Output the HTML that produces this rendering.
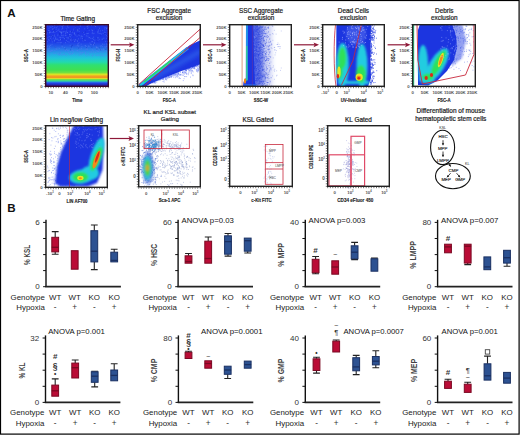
<!DOCTYPE html><html><head><meta charset="utf-8"><title>fig</title><style>
html,body{margin:0;padding:0;background:#fff;width:520px;height:435px;overflow:hidden}
svg{display:block}
text{font-family:"Liberation Sans",sans-serif}
</style></head><body>
<svg width="520" height="435" viewBox="0 0 520 435">
<defs>
<filter id="b1" x="-50%" y="-50%" width="200%" height="200%"><feGaussianBlur stdDeviation="1.2"/></filter>
<filter id="b2" x="-50%" y="-50%" width="200%" height="200%"><feGaussianBlur stdDeviation="2"/></filter>
<filter id="b05" x="-50%" y="-50%" width="200%" height="200%"><feGaussianBlur stdDeviation="0.7"/></filter>
<linearGradient id="tg" x1="0" y1="24" x2="0" y2="87" gradientUnits="userSpaceOnUse"><stop offset="0.000" stop-color="#1c32e8"/><stop offset="0.286" stop-color="#1e3ce8"/><stop offset="0.349" stop-color="#2458e8"/><stop offset="0.413" stop-color="#2a80ea"/><stop offset="0.476" stop-color="#24a8e6"/><stop offset="0.540" stop-color="#20c4da"/><stop offset="0.603" stop-color="#22d8b0"/><stop offset="0.651" stop-color="#30e070"/><stop offset="0.730" stop-color="#40e050"/><stop offset="0.770" stop-color="#70e040"/><stop offset="0.789" stop-color="#b0e430"/><stop offset="0.806" stop-color="#e8e020"/><stop offset="0.825" stop-color="#f0a020"/><stop offset="0.851" stop-color="#f09820"/><stop offset="0.867" stop-color="#e0e028"/><stop offset="0.883" stop-color="#60e050"/><stop offset="0.905" stop-color="#30d8a0"/><stop offset="0.925" stop-color="#2a70e8"/><stop offset="0.944" stop-color="#2040e0"/><stop offset="0.968" stop-color="#2a28b0"/><stop offset="1.000" stop-color="#301890"/></linearGradient>
<clipPath id="c0"><rect x="45" y="24" width="64" height="63"/></clipPath>
<clipPath id="c1"><rect x="137" y="24" width="64" height="63"/></clipPath>
<clipPath id="c2"><rect x="229" y="24" width="63" height="63"/></clipPath>
<clipPath id="c3"><rect x="322" y="24" width="63" height="63"/></clipPath>
<clipPath id="c4"><rect x="412" y="24" width="64" height="63"/></clipPath>
<clipPath id="c5"><rect x="45" y="125" width="63" height="63"/></clipPath>
<clipPath id="c6"><rect x="138" y="125" width="63" height="62.5"/></clipPath>
<clipPath id="c7"><rect x="229" y="125" width="64" height="62"/></clipPath>
<clipPath id="c8"><rect x="327" y="125" width="63" height="62"/></clipPath>
</defs>
<rect x="0" y="0" width="520" height="435" fill="#fff"/>
<text x="7.3" y="17.4" font-size="11.6" text-anchor="start" font-weight="bold" fill="#111" >A</text>
<text x="7.3" y="211.5" font-size="11.6" text-anchor="start" font-weight="bold" fill="#111" >B</text>
<rect x="45" y="24" width="64" height="63" fill="url(#tg)"/>
<path d="M65.7 28.8h.9M86.7 26.3h.9M79.3 35.7h.9M48.7 40.2h.9M47.4 37.9h.9M49.5 26.9h.9M72.2 50.5h.9M52.9 31.1h.9M85.2 54.3h.9M81.9 36.7h.9M107.5 25.5h.9M99.9 33.3h.9M54.2 27.8h.9M64.7 50.1h.9M56.6 42.6h.9M85.9 35.9h.9M80.1 26.0h.9M48.8 30.6h.9M88.5 37.7h.9M65.1 42.7h.9M74.0 33.6h.9M95.8 46.4h.9M60.6 42.4h.9M78.6 52.0h.9M91.7 33.2h.9M107.7 27.8h.9M71.8 48.2h.9M54.7 39.6h.9M47.5 45.4h.9M93.9 42.3h.9M101.0 34.0h.9M89.5 43.0h.9M82.1 38.6h.9M98.8 54.2h.9M75.3 45.3h.9M48.9 46.4h.9M86.4 55.8h.9M97.6 33.1h.9M69.7 45.4h.9M46.4 38.8h.9M55.8 27.7h.9M48.8 48.6h.9M53.3 31.9h.9M70.0 51.9h.9M50.2 38.4h.9M80.2 52.3h.9M97.4 51.6h.9M62.8 37.3h.9M68.0 52.3h.9M106.3 28.8h.9M56.3 31.4h.9M59.9 39.5h.9M82.7 32.4h.9M45.3 37.4h.9M68.6 42.1h.9M106.0 46.1h.9M78.0 43.8h.9M88.3 25.7h.9M102.6 49.0h.9M101.0 49.5h.9M70.1 36.8h.9M51.6 44.3h.9M49.0 26.2h.9M58.4 29.2h.9M66.8 25.7h.9M45.0 28.8h.9M51.5 35.6h.9M46.6 52.0h.9M84.3 28.8h.9M61.1 35.1h.9M68.3 27.9h.9M99.3 55.8h.9M74.8 39.5h.9M50.5 27.3h.9M66.9 32.5h.9M98.0 29.2h.9M46.5 54.4h.9M78.8 28.7h.9M79.8 24.9h.9M78.8 55.3h.9M100.3 46.3h.9M61.7 35.7h.9M55.7 48.7h.9M79.1 48.9h.9M66.1 31.1h.9M96.9 55.5h.9M99.6 49.8h.9M97.4 47.7h.9M59.5 40.6h.9M67.8 24.9h.9M46.8 32.9h.9M61.6 46.2h.9M106.2 38.3h.9M105.0 55.6h.9M106.1 35.7h.9M59.1 31.3h.9M57.6 30.5h.9M84.9 52.8h.9M98.8 39.3h.9M86.8 49.6h.9M50.4 45.1h.9M103.2 49.0h.9M93.0 39.3h.9M56.4 49.3h.9M66.3 49.6h.9M107.2 36.7h.9M70.7 54.3h.9M91.4 29.4h.9M53.1 28.8h.9M102.9 49.8h.9M54.4 50.4h.9M107.7 45.0h.9M67.4 41.6h.9M53.4 24.5h.9M107.1 44.8h.9M78.7 53.9h.9M72.8 51.9h.9M97.9 30.8h.9M61.1 33.4h.9M60.4 42.8h.9M61.6 37.4h.9M53.4 53.1h.9M67.6 38.7h.9M82.3 52.9h.9M71.9 53.4h.9M77.1 41.0h.9M78.5 24.6h.9M73.2 29.9h.9M45.3 49.6h.9M56.0 39.2h.9M91.4 41.8h.9M65.9 40.6h.9M80.5 49.1h.9M51.8 41.9h.9M60.9 32.9h.9M94.4 40.2h.9M81.0 48.3h.9M103.4 38.2h.9M84.2 40.2h.9M77.8 46.2h.9M74.0 41.1h.9M75.6 54.1h.9M89.7 52.0h.9M105.3 32.3h.9M80.8 54.2h.9M98.8 28.4h.9M52.8 38.1h.9M49.6 31.7h.9M49.7 45.4h.9M95.2 52.7h.9M54.9 46.9h.9M87.3 28.6h.9M101.5 55.0h.9M59.1 54.5h.9M70.5 39.6h.9M108.4 50.6h.9M55.3 37.8h.9M78.0 34.9h.9M57.5 34.2h.9M91.2 24.6h.9M80.5 38.1h.9M46.2 34.6h.9M84.9 40.4h.9M49.1 55.5h.9M95.5 55.1h.9M51.7 32.5h.9M47.5 48.9h.9M62.3 28.1h.9M72.0 53.2h.9M97.4 32.3h.9M54.6 53.4h.9M81.5 46.4h.9M50.7 25.8h.9M89.0 37.6h.9M49.6 54.0h.9M85.6 49.7h.9M50.4 51.4h.9M49.3 51.6h.9M74.0 34.9h.9M80.4 53.7h.9M62.1 28.1h.9M78.7 31.6h.9M52.0 29.2h.9M48.2 30.5h.9M65.0 33.8h.9M93.6 33.3h.9M77.0 29.7h.9M67.2 24.6h.9M61.0 24.5h.9M91.9 41.6h.9M57.1 39.2h.9M104.8 27.4h.9M97.4 37.8h.9M76.7 50.7h.9M70.2 40.2h.9M89.0 55.4h.9M66.9 50.6h.9M90.2 44.4h.9M70.9 35.1h.9M48.5 28.2h.9M49.5 47.7h.9M61.4 29.2h.9M50.4 50.9h.9M100.7 45.5h.9M63.0 31.8h.9M63.8 38.7h.9M55.1 38.3h.9M61.8 54.8h.9M107.2 41.5h.9M60.6 54.9h.9M64.8 35.4h.9M45.1 36.2h.9M75.4 40.1h.9M57.9 40.2h.9M45.3 32.5h.9M50.7 36.8h.9M47.7 24.7h.9M64.5 31.4h.9M82.5 40.9h.9M93.0 45.0h.9M90.8 52.1h.9M69.9 34.4h.9M108.0 28.8h.9M91.3 44.6h.9M47.8 50.7h.9M102.1 44.1h.9M92.0 50.0h.9M53.9 40.8h.9M77.3 50.7h.9M96.5 50.4h.9M82.4 52.6h.9M88.7 46.2h.9M59.7 25.0h.9M53.5 35.5h.9M51.7 50.7h.9M80.7 44.1h.9M85.1 45.8h.9M76.3 24.1h.9M96.1 47.9h.9M77.2 41.1h.9M87.2 26.1h.9M92.2 32.1h.9M49.8 32.5h.9M91.7 30.6h.9M92.3 55.2h.9M76.6 36.2h.9M75.7 45.9h.9M94.1 43.7h.9M86.1 26.5h.9M54.4 32.1h.9M92.6 33.7h.9M81.3 24.4h.9M48.9 32.6h.9M88.0 46.1h.9M88.2 33.3h.9M78.1 38.9h.9M74.8 27.8h.9M102.2 30.4h.9M107.6 54.0h.9M46.1 38.7h.9M97.5 55.0h.9M73.8 32.6h.9M58.4 54.3h.9M58.5 42.6h.9M54.1 40.8h.9M106.0 28.2h.9M97.5 40.3h.9M101.8 46.5h.9M59.8 52.7h.9M76.1 24.8h.9M45.2 39.7h.9M73.8 33.7h.9M54.0 35.0h.9M65.2 50.9h.9M45.1 48.0h.9M98.7 27.8h.9M104.3 46.8h.9M102.7 33.3h.9M68.8 36.6h.9M108.9 42.9h.9M68.1 37.7h.9M62.6 25.5h.9M51.5 50.7h.9M63.3 53.9h.9M61.0 32.5h.9M77.7 30.1h.9M68.9 54.6h.9M101.6 50.0h.9M85.4 53.2h.9M105.2 41.6h.9M91.1 25.6h.9M91.9 38.4h.9M93.2 44.6h.9M63.3 25.6h.9M104.3 28.1h.9M75.2 35.0h.9M64.1 47.6h.9M107.5 32.3h.9M87.0 33.6h.9M80.7 36.6h.9M55.7 29.2h.9M58.3 53.0h.9M76.8 31.0h.9M103.0 55.9h.9M73.8 28.5h.9M57.3 26.9h.9M66.9 26.9h.9M60.3 32.3h.9M81.5 52.4h.9M93.0 37.2h.9M71.5 40.8h.9M69.1 34.8h.9M49.0 32.9h.9M106.9 28.0h.9M77.2 44.1h.9M100.2 30.9h.9M62.3 32.0h.9M70.6 38.3h.9M106.1 51.2h.9M100.9 24.7h.9M47.1 46.7h.9M102.3 39.1h.9M82.6 24.0h.9M70.1 53.7h.9M97.8 51.4h.9M107.2 32.0h.9M52.0 28.9h.9M78.4 45.8h.9M105.3 47.1h.9M86.4 48.5h.9M74.3 41.6h.9M47.5 49.0h.9M59.9 53.4h.9M86.3 33.7h.9M53.2 32.1h.9M85.7 46.4h.9M52.2 26.3h.9M78.6 42.7h.9M69.8 31.2h.9M83.5 24.3h.9M64.3 38.7h.9M106.4 44.6h.9M101.6 39.2h.9M60.0 31.9h.9M106.5 46.5h.9M64.7 24.7h.9M76.9 45.6h.9M71.9 32.2h.9M87.7 53.6h.9M59.5 25.1h.9M66.6 37.5h.9M88.7 30.3h.9M96.0 47.7h.9M77.3 30.6h.9M107.1 34.0h.9M97.5 31.4h.9M59.2 48.3h.9M63.9 54.5h.9M76.7 30.0h.9M59.3 37.3h.9M87.6 54.4h.9M54.4 36.6h.9M58.6 55.2h.9M54.1 25.7h.9M48.8 36.6h.9M102.5 52.3h.9M91.9 55.9h.9M104.6 34.5h.9M56.9 53.9h.9M92.8 25.0h.9M87.5 36.1h.9M68.9 34.6h.9M55.8 24.1h.9M62.9 35.2h.9M106.2 28.0h.9M106.7 30.6h.9M67.8 50.3h.9M97.6 37.8h.9M48.2 39.2h.9M68.9 53.4h.9M57.4 35.7h.9M102.4 25.0h.9M71.3 50.0h.9M94.1 25.3h.9M47.2 26.0h.9M103.9 32.2h.9M92.8 52.8h.9M66.7 32.7h.9M106.3 43.7h.9M61.8 46.9h.9M65.3 32.8h.9M45.2 48.2h.9M103.7 44.3h.9M105.4 24.8h.9M60.0 39.2h.9M106.2 54.5h.9M69.7 32.0h.9M72.5 39.8h.9M104.4 29.9h.9M96.4 47.6h.9M97.7 48.7h.9M83.9 34.5h.9M65.5 35.6h.9M95.1 26.5h.9M57.6 48.1h.9M60.8 26.1h.9M47.2 41.7h.9M65.8 55.4h.9M101.5 55.6h.9M62.0 26.7h.9M51.2 40.0h.9M90.4 38.3h.9M60.0 37.3h.9M84.7 45.6h.9M92.9 51.1h.9M87.5 27.9h.9M98.8 33.4h.9M81.3 35.9h.9M92.2 30.4h.9M60.8 31.9h.9" stroke="#5a7cf6" stroke-width="0.90" stroke-opacity="0.6" fill="none"/>
<path d="M54.8 47.0h.9M82.0 32.5h.9M70.3 49.8h.9M77.5 30.0h.9M96.7 41.0h.9M108.4 26.7h.9M75.4 45.3h.9M98.8 47.8h.9M47.6 31.6h.9M52.6 28.9h.9M107.3 39.2h.9M104.5 33.7h.9M100.4 35.7h.9M61.6 44.2h.9M105.5 26.8h.9M83.2 40.1h.9M58.9 33.6h.9M54.0 29.3h.9M61.3 39.6h.9M86.7 29.3h.9M45.7 32.5h.9M88.4 28.8h.9M65.0 29.3h.9M95.9 38.2h.9M49.0 26.6h.9M70.3 38.3h.9M85.9 26.4h.9M55.5 42.1h.9M71.2 31.4h.9M64.7 48.8h.9M65.0 38.7h.9M67.9 34.8h.9M100.3 49.9h.9M68.3 29.1h.9M91.6 29.3h.9M45.4 47.4h.9M72.1 45.3h.9M71.0 47.0h.9M74.5 28.2h.9M45.9 38.3h.9M86.0 47.7h.9M50.7 40.2h.9M68.7 37.1h.9M54.3 31.4h.9M78.4 48.1h.9M52.0 36.8h.9M96.5 49.1h.9M57.6 27.3h.9M105.4 49.4h.9M75.9 25.4h.9M104.3 34.1h.9M102.9 40.1h.9M97.8 28.2h.9M95.3 29.8h.9M70.9 46.0h.9M98.1 28.8h.9M59.0 34.4h.9M78.1 34.0h.9M52.9 30.4h.9M91.4 47.3h.9M47.6 38.6h.9M93.5 25.0h.9M98.6 27.1h.9M83.4 38.3h.9M85.1 32.0h.9M71.9 39.1h.9M72.2 41.1h.9M73.6 35.4h.9M46.5 40.1h.9M76.3 30.1h.9M93.9 44.3h.9M74.3 28.7h.9M75.3 26.8h.9M53.2 35.2h.9M50.9 35.5h.9M77.7 25.1h.9M85.7 26.1h.9M91.9 44.2h.9M77.7 25.4h.9M77.3 33.8h.9" stroke="#1020b0" stroke-width="0.80" stroke-opacity="0.5" fill="none"/>
<path d="M45.7 87.0v1.2M48.3 87.0v1.2M50.9 87.0v1.2M53.5 87.0v1.2M56.1 87.0v1.2M58.7 87.0v1.2M61.4 87.0v1.2M64.0 87.0v1.2M66.6 87.0v1.2M69.2 87.0v1.2M71.8 87.0v1.2M74.4 87.0v1.2M77.0 87.0v1.2M79.6 87.0v1.2M82.2 87.0v1.2M84.8 87.0v1.2M87.4 87.0v1.2M90.0 87.0v1.2M92.7 87.0v1.2M95.3 87.0v1.2M97.9 87.0v1.2M100.5 87.0v1.2M103.1 87.0v1.2M105.7 87.0v1.2M108.3 87.0v1.2M45.0 24.7h-1.2M45.0 27.3h-1.2M45.0 29.8h-1.2M45.0 32.4h-1.2M45.0 35.0h-1.2M45.0 37.5h-1.2M45.0 40.1h-1.2M45.0 42.7h-1.2M45.0 45.2h-1.2M45.0 47.8h-1.2M45.0 50.4h-1.2M45.0 52.9h-1.2M45.0 55.5h-1.2M45.0 58.1h-1.2M45.0 60.6h-1.2M45.0 63.2h-1.2M45.0 65.8h-1.2M45.0 68.3h-1.2M45.0 70.9h-1.2M45.0 73.5h-1.2M45.0 76.0h-1.2M45.0 78.6h-1.2M45.0 81.2h-1.2M45.0 83.7h-1.2M45.0 86.3h-1.2" stroke="#333" stroke-width=".7" fill="none"/>
<rect x="45.7" y="24.7" width="62.6" height="61.6" fill="none" stroke="#3a0a28" stroke-width="1.4"/>
<text x="42.6" y="28.6" font-size="4.3" text-anchor="end" font-weight="bold" fill="#555" >250K</text>
<text x="42.6" y="40.3" font-size="4.3" text-anchor="end" font-weight="bold" fill="#555" >200K</text>
<text x="42.6" y="52.1" font-size="4.3" text-anchor="end" font-weight="bold" fill="#555" >150K</text>
<text x="42.6" y="63.9" font-size="4.3" text-anchor="end" font-weight="bold" fill="#555" >100K</text>
<text x="42.6" y="75.8" font-size="4.3" text-anchor="end" font-weight="bold" fill="#555" >50K</text>
<text x="42.6" y="87.5" font-size="4.3" text-anchor="end" font-weight="bold" fill="#555" >0</text>
<text x="50.8" y="94.0" font-size="4.3" text-anchor="middle" font-weight="bold" fill="#555" >10</text>
<text x="65.5" y="94.0" font-size="4.3" text-anchor="middle" font-weight="bold" fill="#555" >40</text>
<text x="80.2" y="94.0" font-size="4.3" text-anchor="middle" font-weight="bold" fill="#555" >70</text>
<text x="94.3" y="94.0" font-size="4.3" text-anchor="middle" font-weight="bold" fill="#555" >100</text>
<text x="77.7" y="20.6" font-size="6.4" text-anchor="middle" font-weight="normal" fill="#1a1a1a" stroke="#1a1a1a" stroke-width=".2">Time Gating</text>
<text x="77.3" y="101.9" font-size="6.2" text-anchor="middle" font-weight="bold" fill="#222" stroke="#222" stroke-width=".15" textLength="10.0" lengthAdjust="spacingAndGlyphs">Time</text>
<text x="0" y="0" font-size="6.0" text-anchor="middle" font-weight="bold" fill="#222" stroke="#222" stroke-width=".15" textLength="12.8" lengthAdjust="spacingAndGlyphs" transform="translate(28.0,55.5) rotate(-90)">SSC-A</text>
<path d="M110.7 44.8H131.5" stroke="#8e1838" stroke-width="1.2"/>
<path d="M129.0 42.4L134.5 44.8L129.0 47.199999999999996L130.2 44.8z" fill="#8e1838"/>
<g clip-path="url(#c1)">
<path d="M199.9 68.8h.9M201.8 69.3h.9M190.2 67.1h.9M201.2 64.9h.9M178.5 78.1h.9M159.0 79.0h.9M192.8 66.5h.9M170.8 73.7h.9M191.3 70.7h.9M166.3 79.9h.9M194.0 67.9h.9M198.6 67.4h.9M162.0 76.7h.9M169.0 77.4h.9M148.0 82.2h.9M199.3 65.2h.9M187.8 68.9h.9M192.6 66.7h.9M155.2 82.0h.9M171.3 73.9h.9M196.6 69.5h.9M197.0 65.6h.9M154.4 82.2h.9M173.3 72.5h.9M193.2 66.1h.9M182.8 80.6h.9M171.4 73.3h.9M159.8 79.9h.9M190.8 73.6h.9M165.0 76.9h.9M185.9 73.0h.9M187.0 67.7h.9M168.6 74.8h.9M157.9 78.1h.9M184.7 72.4h.9M197.5 65.6h.9M156.5 79.0h.9M146.2 84.6h.9M142.9 84.0h.9M171.2 74.2h.9M163.1 79.1h.9M161.7 78.3h.9M185.1 70.0h.9M199.3 62.9h.9M164.3 76.3h.9M185.8 69.1h.9M196.5 64.6h.9M165.6 77.9h.9M144.6 84.1h.9M170.8 76.4h.9M186.2 76.6h.9M190.3 69.5h.9M164.6 76.2h.9M180.5 70.2h.9M173.9 72.1h.9M192.4 66.7h.9M144.8 86.1h.9M157.3 79.9h.9M161.4 79.0h.9M186.0 70.6h.9M193.9 66.4h.9M167.8 76.5h.9M149.2 83.6h.9M189.5 71.1h.9M143.7 84.6h.9M177.1 75.7h.9M190.7 68.8h.9M154.4 79.8h.9M163.6 78.2h.9M191.0 66.6h.9M188.5 70.4h.9M165.7 78.7h.9M181.7 75.4h.9M180.1 72.3h.9M165.7 79.6h.9M162.6 81.5h.9M196.9 67.2h.9M163.8 76.0h.9M190.8 72.6h.9M169.4 75.4h.9M196.9 65.1h.9M198.1 66.2h.9M185.5 69.8h.9M201.1 69.0h.9M177.3 73.7h.9M195.9 70.1h.9M175.6 72.1h.9M168.3 77.9h.9M162.3 77.1h.9M198.2 64.3h.9M157.5 79.2h.9M199.0 63.0h.9M170.5 73.8h.9M148.5 81.9h.9M188.4 71.0h.9M190.4 70.9h.9M150.9 82.1h.9M194.1 66.9h.9M194.2 65.8h.9M196.3 64.8h.9M198.4 65.1h.9M161.8 77.0h.9M155.0 83.1h.9M193.9 66.5h.9M185.6 70.3h.9M167.1 78.2h.9M154.0 82.3h.9M161.8 79.0h.9M169.0 74.4h.9M165.2 75.6h.9M166.8 75.3h.9M169.1 76.7h.9M200.5 72.0h.9M184.9 68.1h.9M147.3 83.4h.9M192.1 67.7h.9M170.6 74.4h.9M162.6 79.4h.9M196.1 71.2h.9M159.4 79.8h.9M142.6 84.4h.9M201.1 70.2h.9M143.3 85.0h.9M193.2 65.1h.9M160.4 79.3h.9M194.7 64.4h.9M165.4 77.3h.9M162.4 77.1h.9M188.7 68.6h.9M185.7 67.6h.9M152.3 80.8h.9M192.7 71.9h.9M185.3 70.3h.9M173.3 74.9h.9M197.3 72.0h.9M146.6 83.9h.9M161.9 77.0h.9M179.0 78.0h.9M172.4 74.3h.9M176.9 72.6h.9M180.6 69.7h.9M186.2 74.4h.9M170.7 74.1h.9M195.2 66.5h.9M187.0 67.3h.9M175.7 73.5h.9M192.1 67.3h.9M176.9 71.8h.9M197.1 63.6h.9M167.9 76.2h.9M188.9 67.8h.9M158.3 79.0h.9M164.6 77.1h.9M158.7 80.2h.9M169.5 76.8h.9M190.1 77.1h.9M154.1 80.4h.9M172.7 72.8h.9M201.3 64.1h.9M175.5 76.8h.9M161.2 77.6h.9M161.9 77.5h.9M172.9 75.6h.9M192.9 65.9h.9M188.4 72.7h.9M177.0 70.9h.9M157.3 80.1h.9M190.6 68.5h.9M198.1 68.8h.9M191.0 68.1h.9M174.8 72.4h.9M196.9 71.1h.9M192.2 67.9h.9M187.8 74.7h.9M186.0 70.9h.9M185.3 68.8h.9M153.8 82.6h.9M189.4 69.9h.9M185.4 67.7h.9M176.6 74.7h.9M185.0 73.0h.9M199.0 66.7h.9M160.3 79.5h.9M173.0 77.1h.9M178.4 71.3h.9M181.1 69.5h.9M158.7 78.8h.9M179.9 78.5h.9M154.1 81.7h.9M189.5 68.6h.9M179.6 74.4h.9M180.0 75.1h.9M174.2 74.1h.9M188.0 67.7h.9M173.2 72.4h.9M201.3 64.4h.9M171.1 75.4h.9M173.6 73.1h.9M144.9 84.2h.9M188.7 68.7h.9M170.9 73.4h.9M190.7 68.9h.9M199.5 65.9h.9M193.4 65.3h.9M173.1 72.7h.9M192.3 67.5h.9M193.8 68.1h.9M182.1 72.2h.9M163.2 78.4h.9M185.8 68.4h.9M194.2 66.6h.9M167.5 77.4h.9M181.4 74.3h.9M171.0 77.3h.9M195.6 64.4h.9M165.0 78.0h.9M175.0 71.7h.9M189.8 66.4h.9M166.7 74.8h.9M177.9 73.6h.9M175.2 74.8h.9M171.5 76.5h.9M199.0 63.7h.9M194.6 65.6h.9M198.0 63.6h.9M194.7 66.8h.9M185.6 68.3h.9M200.0 62.3h.9M186.7 67.3h.9M157.4 79.3h.9M163.7 76.3h.9M158.1 80.0h.9M197.9 63.8h.9M197.3 66.1h.9M184.4 69.3h.9M197.5 70.3h.9M192.8 66.6h.9M188.4 69.0h.9M180.5 69.8h.9M197.0 68.6h.9M181.7 69.4h.9M157.1 79.9h.9M178.6 74.1h.9M157.5 79.1h.9M178.5 74.8h.9M196.1 63.8h.9M143.8 84.1h.9M182.1 72.6h.9M187.1 69.3h.9M174.6 74.5h.9M200.3 68.6h.9M185.7 70.3h.9M147.0 83.9h.9M199.1 67.4h.9M169.6 77.2h.9M178.1 70.9h.9M197.6 70.8h.9M185.2 69.2h.9M170.1 75.4h.9M177.6 73.3h.9M180.2 70.0h.9M175.5 73.8h.9M174.8 77.7h.9M167.4 76.3h.9M194.6 68.9h.9M166.1 76.9h.9M179.3 75.3h.9M193.0 65.9h.9M169.7 74.7h.9M183.3 71.6h.9M185.7 67.9h.9M189.8 67.3h.9M197.1 64.8h.9M167.9 74.6h.9M143.7 84.5h.9M184.4 76.5h.9M186.8 69.4h.9M184.5 76.6h.9M184.8 72.3h.9M183.8 72.7h.9M187.9 68.3h.9M176.7 76.0h.9M191.6 67.7h.9M148.0 82.4h.9M192.2 70.9h.9M171.9 75.2h.9M194.3 65.7h.9M165.2 78.7h.9M168.0 76.5h.9M175.3 72.9h.9M186.0 68.8h.9M182.4 69.4h.9M148.2 83.8h.9M182.7 73.6h.9M198.5 63.6h.9M172.9 72.6h.9M183.6 78.7h.9M177.7 74.5h.9M174.3 75.8h.9M162.3 78.6h.9M158.0 78.2h.9M188.0 66.8h.9M155.7 79.7h.9M196.4 64.0h.9M156.3 82.0h.9M164.2 76.1h.9M190.3 66.4h.9M192.2 66.5h.9M189.4 70.6h.9M152.6 82.4h.9M185.4 68.9h.9M199.1 68.0h.9M165.0 79.6h.9M144.6 83.5h.9M145.1 84.3h.9M152.2 83.0h.9M168.5 74.3h.9M196.0 66.6h.9M178.2 73.6h.9M182.7 70.1h.9M175.7 72.2h.9M193.2 67.1h.9M171.5 75.7h.9M174.6 75.5h.9M172.8 74.2h.9M192.6 75.7h.9M182.3 69.2h.9M200.9 63.7h.9M188.9 68.2h.9M184.2 71.3h.9M201.0 65.3h.9M168.3 77.6h.9M175.2 74.1h.9M188.0 69.4h.9M184.0 74.0h.9M166.8 77.8h.9M142.7 83.8h.9M183.3 72.6h.9M194.0 65.5h.9M194.8 65.1h.9M193.8 68.6h.9M166.2 77.6h.9M195.6 66.4h.9M198.3 69.9h.9M170.6 76.7h.9M193.2 67.8h.9M161.5 76.7h.9M163.7 82.0h.9M184.3 70.1h.9M161.9 79.1h.9M165.0 75.4h.9M176.8 77.2h.9M152.9 81.1h.9M163.6 80.1h.9M183.0 75.2h.9M180.1 74.4h.9M177.7 72.6h.9M160.9 77.8h.9M160.1 77.9h.9M182.2 72.4h.9M173.7 74.0h.9M148.8 81.6h.9M201.9 63.3h.9M185.6 69.1h.9M192.8 68.4h.9M170.5 76.8h.9M179.9 70.7h.9M201.6 61.8h.9M196.3 69.9h.9M165.5 75.5h.9M192.4 75.0h.9M191.8 70.2h.9M194.2 67.9h.9M148.1 82.0h.9M161.5 77.1h.9M149.5 81.8h.9M181.9 72.0h.9M199.8 66.4h.9M198.2 69.1h.9M173.4 74.0h.9M155.6 80.5h.9M182.2 69.7h.9M185.9 73.4h.9M173.2 73.6h.9M176.2 76.0h.9M201.7 73.0h.9M162.9 78.1h.9M170.9 73.7h.9M197.9 70.8h.9M149.1 83.1h.9M192.7 66.6h.9M201.4 68.9h.9M150.0 82.8h.9M199.4 69.1h.9M187.7 68.6h.9M191.4 71.2h.9M154.4 80.0h.9M155.9 80.2h.9M178.0 71.8h.9M157.4 79.7h.9M187.7 73.6h.9M161.1 77.1h.9M147.9 82.8h.9M199.2 64.1h.9M196.3 65.7h.9M176.2 72.4h.9M153.7 83.0h.9M185.3 71.1h.9M176.4 74.6h.9M177.8 76.2h.9M185.3 69.6h.9M150.1 81.9h.9M189.4 68.5h.9M196.5 64.5h.9M165.8 76.5h.9M166.1 75.8h.9M195.1 65.5h.9M178.5 72.2h.9M168.9 75.1h.9M201.1 63.3h.9" stroke="#4a64f0" stroke-width="0.90" stroke-opacity="0.55" fill="none"/>
<g filter="url(#b05)">
<path d="M138 86.5L150 77.5L170 60.5L190 45L201 40L201 64L190 68L180 71.5L170 75.5L160 79.5L150 84L145 87z" fill="#1f36e0"/>
</g>
<g filter="url(#b05)">
</g>
<g filter="url(#b2)">
<path d="M152 79L201 51" stroke="#3878f0" stroke-width="4" stroke-opacity=".6"/>
</g>
<g filter="url(#b05)">
<path d="M139.5 85.8L188 48" stroke="#2a88ee" stroke-width="3" />
<path d="M140 85.5L184 51" stroke="#22cce0" stroke-width="2" />
<path d="M144 82L171 60.5" stroke="#2ee05a" stroke-width="1.4" />
</g>
</g>
<path d="M138.9 84.4L200.2 29.1V37.4L143.9 86.2" fill="none" stroke="#c8283c" stroke-width=".9" stroke-linejoin="round"/>
<path d="M137.7 87.0v1.2M140.3 87.0v1.2M142.9 87.0v1.2M145.5 87.0v1.2M148.1 87.0v1.2M150.7 87.0v1.2M153.3 87.0v1.2M156.0 87.0v1.2M158.6 87.0v1.2M161.2 87.0v1.2M163.8 87.0v1.2M166.4 87.0v1.2M169.0 87.0v1.2M171.6 87.0v1.2M174.2 87.0v1.2M176.8 87.0v1.2M179.4 87.0v1.2M182.0 87.0v1.2M184.6 87.0v1.2M187.3 87.0v1.2M189.9 87.0v1.2M192.5 87.0v1.2M195.1 87.0v1.2M197.7 87.0v1.2M200.3 87.0v1.2M137.0 24.7h-1.2M137.0 27.3h-1.2M137.0 29.8h-1.2M137.0 32.4h-1.2M137.0 35.0h-1.2M137.0 37.5h-1.2M137.0 40.1h-1.2M137.0 42.7h-1.2M137.0 45.2h-1.2M137.0 47.8h-1.2M137.0 50.4h-1.2M137.0 52.9h-1.2M137.0 55.5h-1.2M137.0 58.1h-1.2M137.0 60.6h-1.2M137.0 63.2h-1.2M137.0 65.8h-1.2M137.0 68.3h-1.2M137.0 70.9h-1.2M137.0 73.5h-1.2M137.0 76.0h-1.2M137.0 78.6h-1.2M137.0 81.2h-1.2M137.0 83.7h-1.2M137.0 86.3h-1.2" stroke="#333" stroke-width=".7" fill="none"/>
<rect x="137.7" y="24.7" width="62.6" height="61.6" fill="none" stroke="#222" stroke-width="1.4"/>
<text x="134.6" y="28.6" font-size="4.3" text-anchor="end" font-weight="bold" fill="#555" >250K</text>
<text x="134.6" y="40.3" font-size="4.3" text-anchor="end" font-weight="bold" fill="#555" >200K</text>
<text x="134.6" y="52.1" font-size="4.3" text-anchor="end" font-weight="bold" fill="#555" >150K</text>
<text x="134.6" y="63.9" font-size="4.3" text-anchor="end" font-weight="bold" fill="#555" >100K</text>
<text x="134.6" y="75.8" font-size="4.3" text-anchor="end" font-weight="bold" fill="#555" >50K</text>
<text x="134.6" y="87.5" font-size="4.3" text-anchor="end" font-weight="bold" fill="#555" >0</text>
<text x="137.6" y="94.0" font-size="4.3" text-anchor="middle" font-weight="bold" fill="#555" >0</text>
<text x="149.8" y="94.0" font-size="4.3" text-anchor="middle" font-weight="bold" fill="#555" >50K</text>
<text x="162.6" y="94.0" font-size="4.3" text-anchor="middle" font-weight="bold" fill="#555" >100K</text>
<text x="174.1" y="94.0" font-size="4.3" text-anchor="middle" font-weight="bold" fill="#555" >150K</text>
<text x="185.6" y="94.0" font-size="4.3" text-anchor="middle" font-weight="bold" fill="#555" >200K</text>
<text x="197.2" y="94.0" font-size="4.3" text-anchor="middle" font-weight="bold" fill="#555" >250K</text>
<text x="169.1" y="13.1" font-size="6.4" text-anchor="middle" font-weight="normal" fill="#1a1a1a" stroke="#1a1a1a" stroke-width=".2">FSC Aggregate</text>
<text x="169.1" y="20.2" font-size="6.4" text-anchor="middle" font-weight="normal" fill="#1a1a1a" stroke="#1a1a1a" stroke-width=".2">exclusion</text>
<text x="169.3" y="101.9" font-size="6.2" text-anchor="middle" font-weight="bold" fill="#222" stroke="#222" stroke-width=".15" textLength="13.2" lengthAdjust="spacingAndGlyphs">FSC-A</text>
<text x="0" y="0" font-size="6.0" text-anchor="middle" font-weight="bold" fill="#222" stroke="#222" stroke-width=".15" textLength="12.5" lengthAdjust="spacingAndGlyphs" transform="translate(119.7,55.3) rotate(-90)">FSC-H</text>
<path d="M203 44.8H223.5" stroke="#8e1838" stroke-width="1.2"/>
<path d="M221.0 42.4L226.5 44.8L221.0 47.199999999999996L222.2 44.8z" fill="#8e1838"/>
<g clip-path="url(#c2)">
<g filter="url(#b2)">
<path d="M250 24L262 24L264 86.5L250 86.5z" fill="#3048e4" fill-opacity=".75"/>
<path d="M255 24L272 24L272 86.5L255 86.5z" fill="#6070e0" fill-opacity=".3"/>
</g>
<path d="M261.2 27.5h.9M259.4 37.1h.9M254.2 53.6h.9M258.3 36.5h.9M277.7 46.6h.9M254.4 81.4h.9M256.7 30.0h.9M267.4 27.6h.9M258.2 69.0h.9M271.7 25.0h.9M255.1 74.0h.9M256.2 24.1h.9M257.4 75.6h.9M253.7 51.0h.9M254.8 80.5h.9M261.9 32.6h.9M254.4 35.2h.9M263.9 36.2h.9M261.2 28.9h.9M258.0 54.7h.9M255.6 41.0h.9M262.3 67.9h.9M257.1 74.3h.9M255.3 28.1h.9M262.4 69.4h.9M259.1 27.4h.9M259.9 74.3h.9M264.6 77.6h.9M268.3 54.6h.9M254.5 53.6h.9M253.5 78.1h.9M257.5 75.6h.9M256.5 46.8h.9M258.8 60.9h.9M260.5 24.3h.9M253.9 56.0h.9M255.8 31.5h.9M265.6 77.7h.9M254.7 43.9h.9M259.7 70.6h.9M265.1 27.8h.9M265.5 54.7h.9M261.5 55.8h.9M254.7 25.3h.9M253.7 84.0h.9M257.4 30.4h.9M253.7 39.5h.9M254.6 30.0h.9M253.4 67.3h.9M254.2 61.2h.9M263.8 59.7h.9M254.6 30.4h.9M253.4 77.9h.9M255.1 31.6h.9M258.7 54.6h.9M253.0 31.6h.9M259.1 49.2h.9M260.1 77.4h.9M263.4 33.1h.9M258.1 34.2h.9M259.4 75.2h.9M255.7 50.1h.9M259.9 76.1h.9M254.1 82.4h.9M255.7 72.2h.9M257.4 44.8h.9M265.6 51.0h.9M254.5 80.6h.9M254.3 74.5h.9M254.9 56.1h.9M257.9 83.4h.9M255.1 50.2h.9M258.7 63.2h.9M259.5 28.3h.9M254.4 50.8h.9M253.0 32.6h.9M255.7 84.1h.9M269.2 63.3h.9M263.9 74.2h.9M262.7 26.1h.9M254.0 63.8h.9M263.5 41.0h.9M261.7 57.6h.9M257.5 39.5h.9M268.7 56.3h.9M260.0 41.8h.9M255.1 42.9h.9M255.8 60.8h.9M258.5 83.3h.9M253.5 52.9h.9M255.1 57.1h.9M255.9 32.1h.9M257.8 42.2h.9M256.2 39.1h.9M265.8 29.4h.9M256.8 61.8h.9M255.7 59.4h.9M256.8 68.0h.9M262.2 52.6h.9M255.9 53.1h.9M253.2 43.3h.9M257.9 55.8h.9M253.9 47.8h.9M253.6 45.9h.9M253.6 77.4h.9M261.9 54.5h.9M258.8 41.7h.9M253.5 71.9h.9M265.9 33.8h.9M258.8 51.3h.9M258.7 27.8h.9M257.9 69.6h.9M255.8 30.8h.9M270.5 69.8h.9M256.4 33.6h.9M258.6 65.9h.9M260.6 62.2h.9M263.5 56.1h.9M253.5 69.8h.9M264.8 53.5h.9M257.0 72.7h.9M268.0 31.9h.9M264.9 78.0h.9M253.3 60.3h.9M261.9 54.9h.9M255.1 49.9h.9M259.7 72.6h.9M259.9 47.5h.9M263.8 52.0h.9M255.9 42.2h.9M259.5 48.2h.9M255.4 44.0h.9M257.8 72.8h.9M259.7 51.5h.9M254.3 35.4h.9M256.7 59.7h.9M266.4 60.1h.9M261.3 44.1h.9M262.3 76.3h.9M268.0 36.7h.9M253.9 50.4h.9M253.5 26.9h.9M268.7 59.0h.9M253.3 72.0h.9M261.4 57.4h.9M253.1 56.1h.9M258.1 66.5h.9M257.2 60.9h.9M263.0 45.8h.9M256.4 56.6h.9M258.0 30.1h.9M258.0 58.8h.9M266.2 59.6h.9M265.4 54.2h.9M269.5 51.3h.9M269.5 45.3h.9M254.7 56.9h.9M256.9 43.7h.9M256.9 84.7h.9M260.5 30.9h.9M257.8 79.5h.9M265.1 85.4h.9M256.6 79.1h.9M254.9 42.0h.9M257.5 55.7h.9M253.1 35.3h.9M258.2 63.1h.9M256.9 85.6h.9M260.0 63.5h.9M254.9 72.8h.9M253.2 43.0h.9M253.6 42.9h.9M261.9 76.2h.9M258.4 36.2h.9M258.2 54.9h.9M254.8 64.1h.9M262.1 57.0h.9M253.2 49.5h.9M259.5 31.5h.9M262.8 30.6h.9M257.1 30.2h.9M260.5 75.0h.9M253.9 62.0h.9M255.4 24.8h.9M257.9 71.8h.9M263.0 45.9h.9M253.3 34.5h.9M256.2 80.0h.9M257.5 60.1h.9M259.2 47.9h.9M260.2 27.4h.9M258.9 83.5h.9M256.9 51.3h.9M256.6 26.7h.9M256.7 81.7h.9M257.8 79.7h.9M256.1 74.6h.9M262.0 83.5h.9M258.0 54.7h.9M254.6 48.2h.9M254.1 68.5h.9M258.9 78.3h.9M254.4 54.0h.9M258.0 34.8h.9M260.2 46.2h.9M270.2 42.0h.9M259.5 58.8h.9M258.7 47.9h.9M256.3 49.0h.9M254.4 75.2h.9M253.1 45.8h.9M257.6 41.6h.9M263.1 38.7h.9M255.3 45.2h.9M253.8 33.7h.9M256.0 40.7h.9M258.3 75.8h.9M258.5 75.9h.9M256.5 73.9h.9M258.5 68.8h.9M257.6 47.4h.9M254.2 83.0h.9M254.1 55.3h.9M260.6 32.1h.9M254.0 67.8h.9M268.0 60.4h.9M253.2 46.8h.9M262.6 37.2h.9M259.0 78.1h.9M258.9 57.6h.9M253.9 40.8h.9M259.8 64.8h.9M255.6 59.2h.9M259.5 29.3h.9M256.7 35.0h.9M258.0 65.1h.9M259.1 30.8h.9M255.5 55.0h.9M258.5 42.4h.9M255.4 38.0h.9M254.2 31.8h.9M258.6 49.0h.9M255.3 80.4h.9M267.3 77.4h.9M253.3 32.2h.9M254.7 66.1h.9M257.3 65.1h.9M258.8 64.9h.9M253.1 67.4h.9M266.6 45.8h.9M254.4 63.0h.9M256.1 80.6h.9M253.5 69.5h.9M255.0 26.5h.9M254.9 34.0h.9M258.6 47.6h.9M256.7 26.4h.9M262.3 35.1h.9M263.1 76.0h.9M257.7 39.8h.9M255.6 51.0h.9M258.9 24.1h.9M254.0 75.7h.9M258.7 26.7h.9M254.7 77.0h.9M254.4 39.2h.9M254.2 30.9h.9M257.6 80.7h.9M262.2 70.5h.9M258.6 48.4h.9M255.7 70.3h.9M258.0 29.6h.9M267.3 82.7h.9M260.4 66.9h.9M257.7 69.8h.9M261.6 52.1h.9M255.4 27.4h.9M260.0 55.7h.9M261.2 81.5h.9M261.5 26.7h.9M254.9 67.6h.9M258.1 57.9h.9M258.7 84.1h.9M259.7 39.5h.9M257.5 27.7h.9M258.6 36.5h.9M260.2 43.3h.9M261.3 65.6h.9M253.4 38.7h.9M261.4 51.6h.9M256.5 82.0h.9M257.7 78.9h.9M258.8 32.8h.9M255.4 74.6h.9M253.3 58.0h.9M257.3 65.3h.9M264.6 61.1h.9M255.9 75.5h.9M254.6 31.1h.9M259.4 36.8h.9M253.9 27.7h.9M257.6 67.5h.9M257.7 51.8h.9M257.0 53.1h.9M254.3 46.5h.9M255.4 24.7h.9M253.0 85.5h.9M255.9 68.5h.9M256.1 84.8h.9M254.3 54.3h.9M256.2 50.9h.9M261.1 24.5h.9M259.1 81.0h.9M260.8 82.0h.9M253.0 64.5h.9M258.3 32.6h.9M255.0 25.7h.9M266.2 42.4h.9M261.8 35.5h.9M263.3 81.5h.9M255.8 34.4h.9M265.9 70.0h.9M258.2 44.3h.9M265.0 43.8h.9M259.4 46.8h.9M255.1 75.5h.9M261.8 38.8h.9M255.3 62.9h.9M257.2 74.8h.9M267.6 82.6h.9M257.1 54.7h.9M253.0 42.6h.9M262.4 60.0h.9M258.2 34.1h.9M256.0 51.5h.9M253.6 26.5h.9M257.1 51.2h.9M263.4 24.2h.9M260.6 76.1h.9M262.7 50.4h.9M257.4 41.6h.9M260.2 50.1h.9M262.6 45.0h.9M256.9 75.2h.9M256.0 80.0h.9M258.0 51.5h.9M255.7 58.9h.9M256.8 29.3h.9M271.1 44.1h.9M257.6 80.3h.9M270.7 77.7h.9M255.9 62.4h.9M262.8 74.3h.9M256.9 61.8h.9M268.6 42.4h.9M260.5 53.8h.9M255.0 64.1h.9M259.1 78.9h.9M257.0 25.7h.9M262.8 51.7h.9M256.6 29.3h.9M258.7 60.0h.9M261.9 49.8h.9M254.7 48.6h.9M259.2 31.1h.9M266.3 58.0h.9M256.5 31.0h.9M257.1 29.9h.9M253.1 56.9h.9M261.1 58.3h.9M256.1 38.0h.9M254.5 55.8h.9M259.3 60.5h.9M256.5 28.6h.9M258.8 51.3h.9M259.7 68.3h.9M269.1 70.9h.9M267.1 68.7h.9M256.4 30.3h.9M259.1 34.6h.9M264.2 83.5h.9M257.7 32.5h.9M257.8 72.1h.9M254.8 47.1h.9M257.0 24.9h.9M255.7 42.6h.9M266.1 67.9h.9M259.6 62.5h.9M267.4 78.1h.9M259.0 78.0h.9M253.2 34.4h.9M259.4 71.3h.9M254.6 66.2h.9M256.2 47.1h.9M263.6 69.7h.9M256.6 26.7h.9M260.2 61.4h.9M258.2 73.8h.9M262.4 31.0h.9M257.7 39.8h.9M265.6 36.0h.9M257.4 60.0h.9M256.4 31.0h.9M253.4 73.6h.9M258.5 35.5h.9M254.9 66.6h.9M261.8 47.6h.9M264.2 57.4h.9M259.1 66.8h.9M268.9 24.9h.9M257.8 45.2h.9M259.7 78.1h.9M257.3 73.6h.9M254.0 74.7h.9M259.2 66.1h.9M258.0 33.8h.9M264.1 76.4h.9M261.8 61.9h.9M255.3 28.7h.9M257.3 79.4h.9M257.1 60.5h.9M254.2 46.4h.9M259.1 53.0h.9M256.2 45.9h.9M258.5 24.4h.9M256.0 25.3h.9M255.1 52.5h.9M253.2 33.0h.9M253.8 65.6h.9M258.5 55.0h.9M260.8 40.2h.9M256.6 83.3h.9M261.8 85.5h.9M254.9 71.8h.9M254.5 78.1h.9M262.8 63.3h.9M255.5 46.5h.9M265.2 78.1h.9M255.5 82.2h.9M258.4 71.3h.9M262.9 69.9h.9M253.6 45.7h.9M255.1 58.1h.9M254.4 44.9h.9M261.0 44.0h.9M253.6 46.8h.9M253.6 39.1h.9M259.5 32.4h.9M258.3 24.4h.9M258.6 51.6h.9M254.4 59.3h.9M257.0 28.1h.9M257.1 42.7h.9M263.5 58.2h.9M261.5 82.1h.9M266.3 60.2h.9M257.0 29.0h.9M261.3 85.2h.9M254.1 46.1h.9M260.3 77.8h.9M267.9 28.2h.9M254.5 41.1h.9M257.2 40.0h.9M253.6 40.6h.9M254.4 67.7h.9M259.9 36.4h.9M259.6 61.4h.9M260.6 36.2h.9M262.2 69.5h.9M255.2 28.9h.9M257.5 74.2h.9M257.5 32.5h.9M266.9 35.7h.9M256.3 63.7h.9M254.5 81.2h.9M259.1 70.5h.9M261.7 64.2h.9M258.9 44.9h.9M254.8 27.6h.9M254.1 62.8h.9M262.4 44.7h.9M253.3 39.9h.9M268.9 52.7h.9M254.4 59.0h.9M262.1 85.2h.9M256.3 68.9h.9M256.4 44.4h.9M255.3 32.8h.9M263.8 71.6h.9M259.9 50.2h.9M260.6 57.4h.9M257.7 64.8h.9M258.6 61.3h.9M263.1 40.0h.9M254.0 68.1h.9M265.1 43.2h.9M260.6 71.9h.9M254.1 41.3h.9M256.5 56.4h.9M254.3 24.6h.9M259.8 53.5h.9M263.0 46.5h.9M254.6 85.4h.9M264.7 29.6h.9M254.6 25.7h.9M254.8 55.1h.9M259.9 58.4h.9M268.1 46.7h.9M258.0 33.3h.9M263.3 81.1h.9M264.9 34.0h.9M255.2 39.0h.9M263.0 84.9h.9M253.1 45.3h.9M259.0 73.6h.9M254.5 80.0h.9M253.3 30.7h.9M255.6 64.0h.9M254.6 48.9h.9M254.9 59.0h.9M267.7 49.4h.9M261.2 62.9h.9M253.1 37.9h.9M258.5 50.9h.9M256.4 38.3h.9M264.3 63.8h.9M257.9 42.5h.9M253.2 59.3h.9M262.2 33.7h.9M263.7 40.6h.9M255.5 70.6h.9M258.1 44.6h.9M256.2 54.1h.9M255.6 66.3h.9M261.8 61.1h.9M255.7 78.7h.9M257.9 37.0h.9M257.4 72.3h.9M258.8 77.5h.9M265.7 85.7h.9M256.4 42.5h.9M253.5 84.4h.9M256.4 24.6h.9M255.1 69.6h.9M258.2 30.0h.9M262.3 29.6h.9M262.7 45.1h.9M258.4 78.7h.9M258.0 84.7h.9M254.1 73.1h.9M261.1 66.7h.9M255.0 38.4h.9M254.1 50.7h.9M253.9 85.4h.9M255.6 43.6h.9M255.5 54.2h.9M257.0 32.4h.9M254.9 66.5h.9M253.6 33.2h.9M261.2 31.0h.9M268.7 45.9h.9M253.4 45.7h.9M267.2 37.3h.9M255.9 69.3h.9M255.4 40.9h.9M257.9 28.3h.9M260.2 26.7h.9M253.4 58.5h.9M263.7 46.5h.9M253.7 64.5h.9M263.2 57.7h.9M256.2 84.9h.9M254.4 78.2h.9M259.9 43.7h.9M259.8 50.0h.9M254.2 47.9h.9M268.6 49.4h.9M272.6 24.3h.9M257.8 61.7h.9M255.4 61.9h.9M253.3 47.4h.9M257.6 31.2h.9M256.2 76.3h.9M268.0 27.1h.9M257.5 67.0h.9M262.0 58.0h.9M253.3 43.6h.9M253.1 70.3h.9M262.4 76.9h.9M253.6 85.7h.9M260.9 38.5h.9M261.4 47.5h.9M259.7 68.2h.9M258.3 62.0h.9M257.3 66.0h.9M261.9 57.7h.9M257.2 37.8h.9M256.6 80.3h.9M254.5 53.3h.9M261.4 53.6h.9M263.1 37.7h.9M265.5 56.8h.9M265.6 56.5h.9M255.2 38.8h.9M256.4 34.7h.9M260.0 63.7h.9M264.1 75.3h.9M261.7 26.7h.9M259.4 47.6h.9M264.2 31.6h.9M253.0 33.5h.9M256.3 46.1h.9M260.6 73.8h.9M254.0 29.5h.9M263.8 48.5h.9M253.2 51.9h.9M256.5 53.7h.9M264.3 33.3h.9M258.7 66.2h.9M259.3 38.7h.9M256.7 47.0h.9M258.8 25.1h.9M255.2 36.5h.9M254.0 35.1h.9M254.0 68.5h.9M259.1 39.0h.9M261.4 75.7h.9M258.4 77.3h.9M264.0 36.5h.9M258.8 62.3h.9M260.3 47.0h.9M255.1 46.8h.9M255.0 68.2h.9M259.9 64.2h.9M257.1 74.3h.9M258.5 59.9h.9M259.7 81.3h.9M270.4 68.1h.9M256.2 47.1h.9M258.4 28.4h.9M259.2 70.9h.9M258.9 54.8h.9M253.1 79.9h.9M254.6 60.8h.9M266.0 52.7h.9M256.2 49.7h.9M258.8 53.4h.9M257.8 54.5h.9M257.7 55.7h.9M262.3 69.9h.9M263.2 48.9h.9M255.7 58.3h.9M253.4 71.7h.9M256.5 37.7h.9M254.3 28.8h.9M256.0 29.5h.9M255.2 70.7h.9M253.9 66.2h.9M255.3 68.1h.9M253.3 66.8h.9M274.4 49.9h.9M265.5 74.6h.9M256.9 78.1h.9M258.0 56.1h.9M258.6 24.4h.9M253.4 40.3h.9M253.4 43.4h.9M266.8 58.5h.9M255.0 55.7h.9M254.1 42.9h.9M257.4 77.7h.9M266.1 39.9h.9M261.2 36.5h.9M255.8 47.2h.9M262.2 52.8h.9M253.6 46.7h.9M257.8 73.7h.9M267.9 58.5h.9M256.4 27.2h.9M260.9 49.4h.9M255.5 59.0h.9M258.0 73.4h.9M256.1 42.1h.9M265.2 60.7h.9M260.0 52.2h.9M256.0 78.4h.9M262.1 27.6h.9M257.0 27.0h.9M261.5 77.5h.9M257.1 35.2h.9M264.7 81.2h.9M257.7 54.9h.9M255.7 65.8h.9M258.2 37.1h.9M262.5 76.0h.9M265.4 36.8h.9M263.1 30.3h.9M259.9 83.0h.9M255.9 49.7h.9M257.5 80.2h.9M254.3 66.5h.9M255.0 67.1h.9M256.0 26.6h.9M258.0 38.4h.9M256.8 60.1h.9M261.2 33.5h.9M259.1 80.5h.9M265.0 33.4h.9M259.9 73.6h.9M253.9 26.0h.9M256.2 47.6h.9M256.9 57.8h.9M264.0 29.8h.9M255.5 50.7h.9M262.9 66.1h.9M261.7 31.6h.9M269.6 81.2h.9M253.4 56.6h.9M259.7 42.0h.9M262.5 54.8h.9M259.7 81.6h.9M257.4 77.6h.9M255.9 61.1h.9M253.8 32.7h.9M263.6 40.8h.9M261.4 38.1h.9M262.3 81.3h.9M254.9 84.0h.9M262.6 45.3h.9M256.5 27.1h.9M258.0 44.7h.9M254.6 70.0h.9M254.4 35.1h.9M258.7 28.3h.9M260.3 58.7h.9M258.0 72.9h.9M254.8 60.9h.9M253.4 55.8h.9M255.2 30.0h.9M256.0 59.8h.9M260.3 45.9h.9M260.3 34.2h.9M258.9 34.5h.9M255.3 76.2h.9M256.9 78.2h.9M253.5 29.8h.9M259.1 78.5h.9M258.5 57.2h.9M257.1 31.3h.9M253.8 57.2h.9M256.1 55.4h.9M256.4 49.0h.9M256.6 36.6h.9M256.7 78.0h.9M253.9 55.1h.9M253.8 82.5h.9M255.3 54.3h.9M261.8 66.7h.9M253.0 38.2h.9M257.0 40.4h.9M259.6 25.9h.9M258.3 42.1h.9M260.9 79.2h.9M257.7 38.5h.9M255.3 60.9h.9M263.8 27.9h.9M269.2 39.2h.9M264.7 26.6h.9M257.6 62.3h.9M265.0 45.2h.9M268.3 74.3h.9M256.7 24.7h.9M259.1 82.3h.9M256.8 29.5h.9M254.1 39.2h.9M263.5 33.4h.9M256.0 45.3h.9M256.6 37.6h.9M276.8 44.5h.9M256.6 73.1h.9M265.2 53.7h.9M253.2 80.3h.9M256.1 70.6h.9M256.5 62.8h.9M253.7 76.4h.9M256.0 68.5h.9M262.5 45.7h.9M268.5 65.7h.9M261.7 70.2h.9M262.9 82.1h.9M253.4 80.1h.9M266.2 73.7h.9M265.0 60.6h.9M258.2 72.6h.9M258.4 78.0h.9M270.0 57.0h.9M266.7 82.6h.9M265.2 72.8h.9M255.7 39.6h.9M257.3 36.3h.9" stroke="#2e46e2" stroke-width="0.90" stroke-opacity="0.6" fill="none"/>
<path d="M257.9 52.4h.9M267.4 80.3h.9M259.2 66.5h.9M265.7 72.6h.9M265.8 73.2h.9M276.6 75.2h.9M268.2 49.2h.9M263.8 75.8h.9M271.2 45.1h.9M266.6 73.2h.9M258.6 24.3h.9M257.1 30.9h.9M267.7 74.4h.9M263.0 52.4h.9M258.9 44.8h.9M265.2 76.4h.9M258.0 62.4h.9M260.7 40.8h.9M269.4 67.5h.9M261.7 74.0h.9M258.1 31.5h.9M259.4 75.0h.9M260.0 35.4h.9M279.4 46.5h.9M266.5 37.9h.9M264.9 79.4h.9M279.5 48.5h.9M257.0 55.4h.9M263.3 85.3h.9M272.7 34.1h.9M262.6 56.7h.9M257.0 82.6h.9M259.5 52.2h.9M263.4 45.8h.9M273.9 30.3h.9M262.8 55.9h.9M274.2 47.4h.9M265.3 65.3h.9M263.9 28.7h.9M263.9 83.4h.9M263.7 46.4h.9M267.8 47.3h.9M265.7 56.4h.9M274.6 54.9h.9M260.0 46.6h.9M257.5 75.8h.9M266.2 66.4h.9M260.5 70.6h.9M259.0 79.2h.9M271.9 26.2h.9M271.5 44.2h.9M273.9 79.3h.9M267.1 33.0h.9M263.2 26.9h.9M257.2 48.3h.9M269.9 41.4h.9M259.9 71.3h.9M267.9 50.1h.9M266.7 84.6h.9M270.1 65.9h.9M270.8 47.6h.9M260.3 66.8h.9M263.2 41.2h.9M267.0 75.2h.9M259.8 73.2h.9M261.0 56.0h.9M264.7 78.4h.9M269.5 34.6h.9M264.1 43.3h.9M259.5 47.7h.9M262.6 83.9h.9M258.4 43.2h.9M259.6 82.5h.9M264.5 51.2h.9M257.6 30.7h.9M266.0 47.9h.9M257.6 83.7h.9M263.0 80.3h.9M263.7 51.9h.9M267.9 72.3h.9M265.7 43.5h.9M269.4 53.2h.9M264.2 58.6h.9M270.2 41.1h.9M266.6 46.5h.9M262.5 41.9h.9M257.9 63.1h.9M272.4 26.6h.9M264.7 75.3h.9M260.4 82.3h.9M257.1 40.5h.9M260.4 58.0h.9M261.1 70.7h.9M265.4 74.1h.9M261.5 30.9h.9M269.1 84.0h.9M262.5 63.3h.9M271.5 48.5h.9M257.4 82.3h.9M265.2 48.3h.9M260.4 74.0h.9M261.7 78.0h.9M270.3 57.0h.9M258.8 79.9h.9M258.8 32.3h.9M259.8 49.6h.9M265.0 55.1h.9M267.7 59.8h.9M263.4 49.0h.9M260.2 76.4h.9M259.7 72.9h.9M261.4 65.6h.9M276.2 70.8h.9M257.1 79.7h.9M262.6 70.1h.9M268.7 78.5h.9M261.0 32.1h.9M270.5 62.0h.9M268.2 41.1h.9M262.0 75.1h.9M258.5 40.9h.9M263.2 29.8h.9M273.0 65.9h.9M259.6 46.3h.9M272.5 67.4h.9M264.5 44.2h.9M260.4 24.2h.9M260.6 41.1h.9M267.8 27.7h.9M260.8 74.1h.9M259.0 26.5h.9M260.9 37.9h.9M261.3 63.0h.9M263.8 59.2h.9M258.7 37.5h.9M262.9 76.0h.9M259.2 74.1h.9M257.5 72.2h.9M266.4 25.8h.9M257.3 27.9h.9M258.9 63.1h.9M268.8 48.8h.9M262.5 55.7h.9M260.4 77.8h.9M264.7 85.7h.9M278.6 44.4h.9M266.2 85.1h.9M261.4 32.3h.9M262.8 52.1h.9M269.9 52.2h.9M260.4 45.2h.9M265.5 41.5h.9M258.0 36.0h.9M267.8 51.2h.9M258.7 36.3h.9M262.7 40.5h.9M264.3 58.7h.9M280.1 70.4h.9M269.6 82.8h.9M263.9 68.6h.9M257.4 27.9h.9M258.4 77.5h.9M261.8 68.8h.9M262.1 46.0h.9M275.7 34.1h.9M277.5 43.0h.9M260.8 26.7h.9M264.5 79.7h.9M261.0 73.9h.9M258.2 30.6h.9M258.7 33.5h.9M267.0 85.4h.9M259.8 80.5h.9M266.8 75.0h.9M266.0 32.0h.9M264.3 55.5h.9M257.0 37.0h.9M258.9 80.3h.9M280.8 68.0h.9M265.5 51.1h.9M269.3 69.4h.9M267.9 76.2h.9M263.2 32.3h.9M257.5 60.3h.9M273.9 47.5h.9M258.0 72.7h.9M275.2 52.8h.9M262.1 57.1h.9M262.6 28.4h.9M268.3 78.9h.9M260.9 54.0h.9M261.7 39.1h.9M260.1 80.2h.9M259.8 60.7h.9M260.1 31.8h.9M266.4 60.3h.9M259.6 63.5h.9M266.3 28.2h.9M266.6 68.9h.9M260.4 48.8h.9M258.5 65.7h.9M263.5 64.3h.9M261.9 66.9h.9M257.9 80.4h.9M263.1 61.1h.9M259.6 85.2h.9M269.4 38.2h.9M266.9 75.1h.9M257.1 63.3h.9M259.5 29.8h.9M257.8 84.5h.9M259.4 27.0h.9M262.7 38.9h.9M259.7 65.7h.9M270.0 81.7h.9M272.4 40.3h.9M272.0 33.5h.9M258.7 30.4h.9M258.4 84.3h.9M262.6 74.0h.9M261.2 34.1h.9M257.3 72.8h.9M257.5 79.2h.9M257.3 76.8h.9M261.6 58.5h.9M266.6 62.4h.9M258.1 60.9h.9M260.4 27.4h.9M259.3 57.8h.9M265.8 24.5h.9M273.7 70.2h.9M259.6 74.3h.9M266.4 52.4h.9M266.1 36.8h.9M275.9 50.6h.9M272.8 57.9h.9M269.1 45.9h.9M265.1 76.7h.9M263.9 76.6h.9M262.1 42.8h.9M264.4 71.3h.9M266.8 84.7h.9M260.6 71.7h.9M257.2 31.0h.9M265.9 66.9h.9M263.3 52.2h.9M267.0 49.3h.9M265.4 80.8h.9M262.7 69.4h.9M276.0 75.9h.9M270.4 68.4h.9M259.6 76.7h.9M261.1 50.7h.9M260.9 82.5h.9M258.9 51.4h.9M263.6 42.6h.9M258.8 45.6h.9M260.6 51.5h.9M268.8 84.8h.9M274.2 71.3h.9M272.0 75.9h.9M257.5 41.0h.9M258.6 39.5h.9M258.0 38.3h.9M264.1 78.9h.9M260.8 71.8h.9M269.3 72.0h.9M267.2 57.0h.9M260.6 30.5h.9M263.9 62.9h.9M279.7 46.8h.9M262.4 34.0h.9M263.6 56.9h.9M266.1 82.2h.9M268.8 49.3h.9M264.1 84.0h.9M258.7 29.6h.9M264.2 80.2h.9M257.9 24.8h.9M271.2 85.4h.9M269.7 34.9h.9M262.2 66.8h.9M257.1 70.3h.9M263.8 39.9h.9M259.2 25.7h.9M262.7 40.1h.9M264.5 83.8h.9M266.4 64.7h.9M259.6 61.1h.9M264.2 28.0h.9M265.5 28.1h.9M257.8 32.8h.9M280.8 31.0h.9M257.9 66.6h.9M257.7 41.0h.9M262.6 30.2h.9M268.6 42.8h.9M264.5 51.6h.9M274.3 69.2h.9M268.7 45.2h.9" stroke="#7080e0" stroke-width="0.80" stroke-opacity="0.5" fill="none"/>
<g filter="url(#b05)">
<path d="M246 24L253.5 24L254 60L255 82L256 86.5L243 86.5L243.5 82L245.8 78z" fill="#1f36e0"/>
<path d="M247 24V80" stroke="#28b8e8" stroke-width="1.4"/>
<path d="M246.8 46V81" stroke="#40e070" stroke-width=".9"/>
<ellipse cx="245" cy="81" rx="1.1" ry="2.8" fill="#f08a1c"/>
<path d="M244 85H256" stroke="#2a70e8" stroke-width="1.3"/>
</g>
</g>
<path d="M242.1 24V86.5" stroke="#d08060" stroke-width=".8"/>
<path d="M252.4 24V86.5" stroke="#9a3070" stroke-width=".8" stroke-opacity=".45"/>
<path d="M229.7 87.0v1.2M232.3 87.0v1.2M234.8 87.0v1.2M237.4 87.0v1.2M240.0 87.0v1.2M242.5 87.0v1.2M245.1 87.0v1.2M247.7 87.0v1.2M250.2 87.0v1.2M252.8 87.0v1.2M255.4 87.0v1.2M257.9 87.0v1.2M260.5 87.0v1.2M263.1 87.0v1.2M265.6 87.0v1.2M268.2 87.0v1.2M270.8 87.0v1.2M273.3 87.0v1.2M275.9 87.0v1.2M278.5 87.0v1.2M281.0 87.0v1.2M283.6 87.0v1.2M286.2 87.0v1.2M288.7 87.0v1.2M291.3 87.0v1.2M229.0 24.7h-1.2M229.0 27.3h-1.2M229.0 29.8h-1.2M229.0 32.4h-1.2M229.0 35.0h-1.2M229.0 37.5h-1.2M229.0 40.1h-1.2M229.0 42.7h-1.2M229.0 45.2h-1.2M229.0 47.8h-1.2M229.0 50.4h-1.2M229.0 52.9h-1.2M229.0 55.5h-1.2M229.0 58.1h-1.2M229.0 60.6h-1.2M229.0 63.2h-1.2M229.0 65.8h-1.2M229.0 68.3h-1.2M229.0 70.9h-1.2M229.0 73.5h-1.2M229.0 76.0h-1.2M229.0 78.6h-1.2M229.0 81.2h-1.2M229.0 83.7h-1.2M229.0 86.3h-1.2" stroke="#333" stroke-width=".7" fill="none"/>
<rect x="229.7" y="24.7" width="61.6" height="61.6" fill="none" stroke="#222" stroke-width="1.4"/>
<text x="226.6" y="28.6" font-size="4.3" text-anchor="end" font-weight="bold" fill="#555" >250K</text>
<text x="226.6" y="40.3" font-size="4.3" text-anchor="end" font-weight="bold" fill="#555" >200K</text>
<text x="226.6" y="52.1" font-size="4.3" text-anchor="end" font-weight="bold" fill="#555" >150K</text>
<text x="226.6" y="63.9" font-size="4.3" text-anchor="end" font-weight="bold" fill="#555" >100K</text>
<text x="226.6" y="75.8" font-size="4.3" text-anchor="end" font-weight="bold" fill="#555" >50K</text>
<text x="226.6" y="87.5" font-size="4.3" text-anchor="end" font-weight="bold" fill="#555" >0</text>
<text x="229.6" y="94.0" font-size="4.3" text-anchor="middle" font-weight="bold" fill="#555" >0</text>
<text x="241.6" y="94.0" font-size="4.3" text-anchor="middle" font-weight="bold" fill="#555" >50K</text>
<text x="254.2" y="94.0" font-size="4.3" text-anchor="middle" font-weight="bold" fill="#555" >100K</text>
<text x="265.5" y="94.0" font-size="4.3" text-anchor="middle" font-weight="bold" fill="#555" >150K</text>
<text x="276.9" y="94.0" font-size="4.3" text-anchor="middle" font-weight="bold" fill="#555" >200K</text>
<text x="288.2" y="94.0" font-size="4.3" text-anchor="middle" font-weight="bold" fill="#555" >250K</text>
<text x="261.0" y="13.1" font-size="6.4" text-anchor="middle" font-weight="normal" fill="#1a1a1a" stroke="#1a1a1a" stroke-width=".2">SSC Aggregate</text>
<text x="261.0" y="20.2" font-size="6.4" text-anchor="middle" font-weight="normal" fill="#1a1a1a" stroke="#1a1a1a" stroke-width=".2">exclusion</text>
<text x="261.0" y="101.9" font-size="6.2" text-anchor="middle" font-weight="bold" fill="#222" stroke="#222" stroke-width=".15" textLength="14.4" lengthAdjust="spacingAndGlyphs">SSC-W</text>
<text x="0" y="0" font-size="6.0" text-anchor="middle" font-weight="bold" fill="#222" stroke="#222" stroke-width=".15" textLength="12.8" lengthAdjust="spacingAndGlyphs" transform="translate(211.8,55.5) rotate(-90)">SSC-A</text>
<path d="M294 44.8H316" stroke="#8e1838" stroke-width="1.2"/>
<path d="M313.5 42.4L319 44.8L313.5 47.199999999999996L314.7 44.8z" fill="#8e1838"/>
<g clip-path="url(#c3)">
<path d="M370.3 74.6h.9M370.5 37.8h.9M372.8 64.9h.9M373.6 40.9h.9M371.6 79.2h.9M370.1 33.6h.9M371.8 64.3h.9M372.8 35.0h.9M370.7 83.9h.9M370.9 47.4h.9M371.9 37.6h.9M372.7 28.0h.9M374.9 31.9h.9M370.5 82.7h.9M372.6 32.4h.9M373.0 72.1h.9M370.0 55.9h.9M372.4 30.8h.9M370.0 41.4h.9M374.5 47.2h.9M370.2 35.8h.9M371.8 37.4h.9M371.8 63.1h.9M371.6 52.8h.9M370.6 64.5h.9M370.6 75.0h.9M370.1 50.7h.9M370.6 31.1h.9M373.8 29.7h.9M371.0 31.2h.9M371.5 38.1h.9M370.2 50.9h.9M370.7 46.0h.9M370.6 52.6h.9M372.9 28.4h.9M371.2 37.6h.9M370.1 77.1h.9M373.2 82.7h.9M370.8 81.6h.9M370.9 56.0h.9M370.1 76.7h.9M371.5 37.0h.9M371.7 80.4h.9M371.0 52.1h.9M370.1 51.6h.9M371.0 43.4h.9M371.0 46.0h.9M373.5 31.3h.9M372.9 35.0h.9M370.3 24.7h.9M371.7 25.5h.9M372.5 52.7h.9M370.2 38.3h.9M373.1 54.4h.9M372.9 32.8h.9M372.2 73.0h.9M373.9 76.3h.9M371.4 46.4h.9M371.3 37.8h.9M370.9 60.5h.9M370.8 37.2h.9M370.6 26.2h.9M371.3 35.7h.9M370.5 69.7h.9M375.1 48.5h.9M373.0 65.4h.9M376.1 38.2h.9M370.5 53.1h.9M376.1 54.0h.9M370.4 84.5h.9M371.3 74.9h.9M371.2 36.3h.9M372.8 37.8h.9M370.0 82.6h.9M371.1 44.9h.9M372.3 64.8h.9M372.4 33.9h.9M370.3 74.5h.9M373.4 39.7h.9M370.0 51.7h.9M373.6 32.4h.9M371.5 38.7h.9M374.6 33.1h.9M374.4 32.4h.9M373.3 78.1h.9M370.5 27.5h.9M370.1 59.7h.9M371.5 51.6h.9M374.4 64.4h.9M372.8 76.5h.9M371.9 81.5h.9M370.5 48.9h.9M375.3 30.4h.9M371.8 25.1h.9M370.5 83.0h.9M372.0 77.1h.9M372.7 75.8h.9M371.5 73.2h.9M371.7 31.1h.9M372.5 38.9h.9M371.8 72.9h.9M372.8 78.8h.9M371.6 28.6h.9M370.4 78.8h.9M371.4 66.2h.9M370.7 39.6h.9M370.2 56.0h.9M372.4 65.3h.9M373.7 62.1h.9M371.8 52.8h.9M372.1 24.6h.9M374.0 53.0h.9M371.7 63.5h.9M373.5 35.0h.9M374.2 38.2h.9M371.1 50.3h.9M371.6 49.0h.9M370.4 82.7h.9M371.5 68.9h.9M371.1 45.9h.9M372.2 31.8h.9M373.6 37.6h.9M370.4 26.2h.9M371.9 32.3h.9M372.2 28.7h.9M371.5 59.5h.9M373.1 45.7h.9M371.2 67.0h.9M371.4 53.4h.9M370.6 25.1h.9M370.7 46.6h.9M371.3 82.7h.9M370.5 63.2h.9M374.7 62.7h.9M371.8 36.0h.9M376.3 70.7h.9M370.6 74.1h.9M371.8 60.7h.9M373.0 59.9h.9M374.1 36.1h.9M373.1 68.3h.9M370.3 40.6h.9M370.2 34.6h.9M370.1 66.4h.9M371.8 40.2h.9M370.0 67.4h.9M370.5 31.0h.9M370.0 81.0h.9M371.4 44.5h.9M370.3 55.9h.9M371.1 53.2h.9M372.4 39.8h.9M371.0 33.9h.9M370.4 29.6h.9M372.7 40.0h.9M372.7 72.3h.9M370.3 54.0h.9M372.3 35.5h.9M372.9 27.1h.9M371.4 33.4h.9M370.9 67.7h.9M372.3 38.0h.9M371.3 29.7h.9M374.3 59.8h.9M371.4 73.0h.9M373.7 72.3h.9M370.1 64.5h.9M371.1 58.5h.9M371.1 59.5h.9M371.2 30.6h.9M371.2 39.8h.9M371.4 49.8h.9M373.9 25.9h.9M370.8 68.2h.9M370.4 63.0h.9M372.0 66.2h.9M374.0 36.5h.9M373.6 43.0h.9M371.0 33.6h.9M371.7 37.8h.9M370.6 67.7h.9M374.6 82.5h.9M370.6 43.2h.9M372.1 68.0h.9M373.2 29.4h.9M371.2 27.0h.9M371.4 80.8h.9M370.1 77.5h.9M371.6 31.3h.9M370.4 54.9h.9M372.4 67.7h.9M370.3 56.3h.9M370.2 28.3h.9M371.2 47.6h.9M371.9 64.8h.9M370.2 37.5h.9M371.2 67.5h.9M372.6 71.0h.9M371.9 80.6h.9M372.0 81.0h.9" stroke="#2a40e0" stroke-width="1.00" stroke-opacity="0.7" fill="none"/>
<g filter="url(#b05)">
<path d="M336.4 24L371 24L370.5 60L371 78L368 86.5L336.8 86.5L336.2 60z" fill="#1f36e0"/>
</g>
<g filter="url(#b1)">
<ellipse cx="356" cy="34" rx="10" ry="11" fill="#5a74f0" fill-opacity=".5"/>
<ellipse cx="342.5" cy="65" rx="6.3" ry="22" fill="#22cce0"/>
<ellipse cx="362" cy="66" rx="5.5" ry="22" fill="#22cce0"/>
<path d="M338 82.5H369" stroke="#22cce0" stroke-width="3"/>
<ellipse cx="342.3" cy="58" rx="4" ry="11" fill="#2ee05a"/>
<ellipse cx="340" cy="71" rx="2.8" ry="8" fill="#2ee05a"/>
<ellipse cx="361" cy="74" rx="5" ry="9" fill="#2ee05a"/>
</g>
<g filter="url(#b05)">
<ellipse cx="339" cy="72" rx="1.7" ry="5.5" fill="#e6e628"/>
<ellipse cx="337.9" cy="76.2" rx="1.2" ry="2.2" fill="#dd2a18"/>
<ellipse cx="359.2" cy="77.2" rx="3.6" ry="3.6" fill="#e6e628"/>
<ellipse cx="358.9" cy="77.8" rx="2.3" ry="2.1" fill="#f08a1c"/>
<ellipse cx="358.8" cy="78.2" rx="1.3" ry="1.2" fill="#dd2a18"/>
</g>
<path d="M353.9 34.9h.9M354.1 39.3h.9M355.7 47.5h.9M357.6 45.8h.9M360.6 38.9h.9M360.9 31.2h.9M365.1 42.5h.9M360.2 34.5h.9M361.2 26.3h.9M359.1 47.1h.9M360.7 42.4h.9M357.6 27.2h.9M357.8 27.9h.9M357.4 36.8h.9M357.8 28.2h.9M352.8 42.4h.9M351.1 27.0h.9M358.5 29.8h.9M358.9 30.2h.9M355.5 41.8h.9M366.1 35.3h.9M347.8 47.0h.9M352.1 35.2h.9M353.0 41.2h.9M355.7 28.6h.9M352.9 47.0h.9M364.6 32.1h.9M362.8 30.0h.9M355.8 47.8h.9M362.7 27.6h.9M359.2 28.1h.9M351.8 41.9h.9M353.9 34.0h.9M359.2 43.7h.9M361.1 24.2h.9M350.1 42.3h.9M345.9 46.8h.9M348.0 31.8h.9M362.4 30.4h.9M347.0 32.8h.9M352.1 33.1h.9M360.0 26.6h.9M357.9 33.9h.9M369.0 39.3h.9M363.7 29.9h.9M349.4 46.1h.9M362.1 41.5h.9M338.7 42.1h.9M357.8 39.7h.9M351.8 33.1h.9M357.7 36.9h.9M353.3 32.1h.9M358.4 44.3h.9M351.0 44.3h.9M358.4 46.5h.9M353.7 41.9h.9M352.1 25.2h.9M348.2 44.9h.9M349.7 32.1h.9M354.0 42.8h.9M358.4 29.1h.9M344.1 32.2h.9M356.0 31.9h.9M358.8 24.6h.9M357.2 25.7h.9M351.9 25.6h.9M355.8 35.1h.9M352.0 33.6h.9M360.8 31.4h.9M341.9 39.2h.9M361.3 45.6h.9M351.8 41.6h.9M351.4 37.8h.9M367.3 26.5h.9M346.4 36.4h.9M350.1 35.6h.9M345.3 40.0h.9M362.2 29.0h.9M352.3 47.0h.9M360.3 40.7h.9M365.4 24.8h.9M365.4 38.2h.9M347.3 34.3h.9M359.9 26.2h.9M345.0 42.9h.9M354.4 32.6h.9M357.7 43.2h.9M365.8 29.3h.9M369.9 34.4h.9M343.4 33.1h.9M352.5 28.8h.9M342.6 31.2h.9M351.4 28.5h.9M364.6 37.1h.9M347.1 27.4h.9M356.0 47.0h.9M363.7 43.1h.9M356.0 28.4h.9M362.4 42.2h.9M351.9 44.8h.9M347.2 29.0h.9M366.4 24.6h.9M343.2 45.6h.9M355.8 46.9h.9M342.1 37.4h.9M355.1 27.4h.9M348.6 34.2h.9M348.1 38.5h.9M355.7 34.1h.9M360.8 36.3h.9" stroke="#c8d0ff" stroke-width="0.80" stroke-opacity="0.7" fill="none"/>
</g>
<path d="M335.6 24C333.6 40 333.6 70 336 86.5M341.5 85L353 60.5L361.5 24" fill="none" stroke="#c8283c" stroke-width=".8"/>
<path d="M322.7 87.0v1.2M325.3 87.0v1.2M327.8 87.0v1.2M330.4 87.0v1.2M333.0 87.0v1.2M335.5 87.0v1.2M338.1 87.0v1.2M340.7 87.0v1.2M343.2 87.0v1.2M345.8 87.0v1.2M348.4 87.0v1.2M350.9 87.0v1.2M353.5 87.0v1.2M356.1 87.0v1.2M358.6 87.0v1.2M361.2 87.0v1.2M363.8 87.0v1.2M366.3 87.0v1.2M368.9 87.0v1.2M371.5 87.0v1.2M374.0 87.0v1.2M376.6 87.0v1.2M379.2 87.0v1.2M381.7 87.0v1.2M384.3 87.0v1.2M322.0 24.7h-1.2M322.0 27.3h-1.2M322.0 29.8h-1.2M322.0 32.4h-1.2M322.0 35.0h-1.2M322.0 37.5h-1.2M322.0 40.1h-1.2M322.0 42.7h-1.2M322.0 45.2h-1.2M322.0 47.8h-1.2M322.0 50.4h-1.2M322.0 52.9h-1.2M322.0 55.5h-1.2M322.0 58.1h-1.2M322.0 60.6h-1.2M322.0 63.2h-1.2M322.0 65.8h-1.2M322.0 68.3h-1.2M322.0 70.9h-1.2M322.0 73.5h-1.2M322.0 76.0h-1.2M322.0 78.6h-1.2M322.0 81.2h-1.2M322.0 83.7h-1.2M322.0 86.3h-1.2" stroke="#333" stroke-width=".7" fill="none"/>
<rect x="322.7" y="24.7" width="61.6" height="61.6" fill="none" stroke="#222" stroke-width="1.4"/>
<text x="319.6" y="28.6" font-size="4.3" text-anchor="end" font-weight="bold" fill="#555" >250K</text>
<text x="319.6" y="40.3" font-size="4.3" text-anchor="end" font-weight="bold" fill="#555" >200K</text>
<text x="319.6" y="52.1" font-size="4.3" text-anchor="end" font-weight="bold" fill="#555" >150K</text>
<text x="319.6" y="63.9" font-size="4.3" text-anchor="end" font-weight="bold" fill="#555" >100K</text>
<text x="319.6" y="75.8" font-size="4.3" text-anchor="end" font-weight="bold" fill="#555" >50K</text>
<text x="319.6" y="87.5" font-size="4.3" text-anchor="end" font-weight="bold" fill="#555" >0</text>
<text x="325.1" y="94.0" font-size="4.3" text-anchor="middle" font-weight="bold" fill="#555" >-10<tspan font-size="2.6" dy="-1.6">3</tspan></text>
<text x="336.7" y="94.0" font-size="4.3" text-anchor="middle" font-weight="bold" fill="#555" >0</text>
<text x="346.6" y="94.0" font-size="4.3" text-anchor="middle" font-weight="bold" fill="#555" >10<tspan font-size="2.6" dy="-1.6">3</tspan></text>
<text x="363.6" y="94.0" font-size="4.3" text-anchor="middle" font-weight="bold" fill="#555" >10<tspan font-size="2.6" dy="-1.6">4</tspan></text>
<text x="380.0" y="94.0" font-size="4.3" text-anchor="middle" font-weight="bold" fill="#555" >10<tspan font-size="2.6" dy="-1.6">5</tspan></text>
<text x="353.4" y="13.1" font-size="6.4" text-anchor="middle" font-weight="normal" fill="#1a1a1a" stroke="#1a1a1a" stroke-width=".2">Dead Cells</text>
<text x="353.4" y="20.2" font-size="6.4" text-anchor="middle" font-weight="normal" fill="#1a1a1a" stroke="#1a1a1a" stroke-width=".2">exclusion</text>
<text x="353.6" y="101.9" font-size="6.2" text-anchor="middle" font-weight="bold" fill="#222" stroke="#222" stroke-width=".15" textLength="25.7" lengthAdjust="spacingAndGlyphs">UV-live/dead</text>
<text x="0" y="0" font-size="6.0" text-anchor="middle" font-weight="bold" fill="#222" stroke="#222" stroke-width=".15" textLength="12.8" lengthAdjust="spacingAndGlyphs" transform="translate(304.8,55.5) rotate(-90)">SSC-A</text>
<path d="M387.6 44.8H407.5" stroke="#8e1838" stroke-width="1.2"/>
<path d="M405.0 42.4L410.5 44.8L405.0 47.199999999999996L406.2 44.8z" fill="#8e1838"/>
<g clip-path="url(#c4)">
<path d="M459.9 58.6h.9M464.2 37.1h.9M456.3 45.1h.9M452.0 44.4h.9M453.3 31.3h.9M454.7 38.3h.9M463.0 40.3h.9M451.3 42.6h.9M448.9 41.8h.9M442.0 36.7h.9M471.3 28.3h.9M444.2 25.0h.9M443.8 31.8h.9M448.6 35.2h.9M453.5 69.3h.9M450.8 42.1h.9M466.9 61.8h.9M460.8 31.6h.9M465.9 51.5h.9M469.4 43.3h.9M444.0 60.0h.9M455.8 46.5h.9M448.5 67.8h.9M445.7 30.6h.9M449.1 41.6h.9M460.0 31.8h.9M447.0 30.0h.9M471.7 36.8h.9M452.4 55.8h.9M445.4 31.2h.9M445.4 48.1h.9M442.0 44.3h.9M466.0 34.7h.9M455.4 48.1h.9M451.3 28.3h.9M445.3 38.7h.9M441.5 29.9h.9M445.7 56.1h.9M442.4 50.1h.9M444.8 47.2h.9M450.9 26.6h.9M451.8 57.4h.9M443.1 58.9h.9M441.4 41.0h.9M450.8 67.6h.9M460.0 70.5h.9M459.2 33.4h.9M451.5 41.9h.9M447.6 37.3h.9M458.1 37.2h.9M449.9 43.3h.9M451.5 29.2h.9M456.6 58.2h.9M445.4 37.5h.9M452.6 60.5h.9M441.2 39.6h.9M450.6 44.0h.9M452.9 34.9h.9M443.2 28.4h.9M457.3 37.9h.9M453.8 35.2h.9M461.9 30.5h.9M450.5 56.6h.9M455.0 63.8h.9M452.4 45.5h.9M470.3 45.1h.9M449.9 37.4h.9M467.1 37.5h.9M457.0 25.3h.9M457.8 31.4h.9M440.1 62.3h.9M466.4 38.0h.9M458.3 45.1h.9M447.4 61.5h.9M456.3 27.1h.9M448.4 28.0h.9M455.7 41.8h.9M451.2 29.2h.9M465.7 43.8h.9M450.6 27.5h.9M455.0 45.0h.9M456.2 32.6h.9M459.5 35.8h.9M442.7 41.7h.9M440.5 54.1h.9M455.0 39.6h.9M444.4 56.2h.9M457.8 38.4h.9M454.8 34.9h.9M445.2 48.9h.9M454.2 25.6h.9M465.2 28.7h.9M442.2 57.3h.9M454.9 37.5h.9M443.9 48.4h.9M473.4 66.8h.9M459.0 27.8h.9M452.7 57.4h.9M448.2 59.7h.9M452.5 62.3h.9M443.5 31.4h.9M468.8 39.8h.9M440.8 28.8h.9M473.0 41.9h.9M464.1 51.5h.9M451.3 57.9h.9M444.6 47.7h.9M461.5 32.3h.9M456.3 43.8h.9M448.1 38.6h.9M441.9 44.3h.9M458.4 42.0h.9M443.9 52.8h.9M465.8 26.2h.9M449.4 68.2h.9M458.5 68.6h.9M455.6 50.5h.9M461.2 46.9h.9M451.1 52.2h.9M445.3 30.4h.9M459.7 29.8h.9M443.3 37.5h.9M442.5 60.1h.9M442.8 35.8h.9M451.6 35.6h.9M448.8 28.9h.9M445.3 44.8h.9M444.2 54.6h.9M449.8 45.4h.9M472.8 30.7h.9M468.2 34.3h.9M454.0 33.4h.9M454.1 51.7h.9M454.2 32.2h.9M450.7 47.7h.9M445.4 40.6h.9M446.2 63.2h.9M450.3 35.2h.9M464.6 40.8h.9M473.5 24.5h.9M447.1 61.6h.9M456.6 25.8h.9M464.9 29.6h.9M443.3 36.1h.9M462.6 33.2h.9M447.4 60.7h.9M464.6 39.2h.9M465.5 26.1h.9M458.5 25.2h.9M454.3 26.7h.9M448.1 46.1h.9M454.2 25.7h.9M451.7 63.6h.9M444.0 34.1h.9M460.0 47.7h.9M444.4 44.4h.9M453.2 35.2h.9M444.9 26.9h.9M447.8 40.4h.9M464.5 39.9h.9M441.2 30.0h.9M448.7 52.1h.9M445.3 36.6h.9M447.3 39.9h.9M453.7 46.8h.9M446.0 40.1h.9M448.8 34.2h.9M451.1 35.9h.9M451.8 62.0h.9M441.5 31.9h.9M444.0 55.3h.9M445.9 35.6h.9M450.8 30.9h.9M444.4 38.1h.9M471.7 65.5h.9M448.7 28.7h.9M464.0 62.2h.9M450.8 31.0h.9M450.9 48.6h.9M452.0 57.3h.9M462.9 54.8h.9M456.3 37.3h.9M463.1 38.6h.9M467.1 41.5h.9M455.3 51.0h.9M472.6 24.3h.9M444.2 27.7h.9M455.1 38.8h.9M451.7 30.1h.9M447.5 25.1h.9M458.0 38.4h.9M460.3 38.4h.9M449.7 25.9h.9M446.3 65.3h.9M440.2 41.0h.9M443.8 64.5h.9M458.5 59.2h.9M443.5 41.9h.9M452.3 51.7h.9M449.3 48.9h.9M459.5 31.0h.9M446.3 43.8h.9M440.1 28.4h.9M448.7 62.8h.9M445.9 24.2h.9M452.4 24.9h.9M446.3 46.3h.9M456.2 59.8h.9M454.3 45.0h.9M444.8 25.7h.9M440.1 44.0h.9M440.5 28.5h.9M451.0 24.1h.9M473.6 61.2h.9M454.8 30.1h.9M454.1 59.7h.9M445.1 65.5h.9M450.3 49.9h.9M459.6 54.6h.9M452.5 24.0h.9M444.3 29.4h.9M440.1 36.5h.9M440.1 35.2h.9M450.9 53.7h.9M440.5 64.2h.9M446.8 65.3h.9M453.0 28.8h.9M444.6 37.3h.9M445.0 27.7h.9M458.0 40.3h.9M454.4 49.9h.9M466.2 49.9h.9M466.6 34.6h.9M454.5 57.9h.9M462.8 47.8h.9M452.2 25.2h.9M445.8 45.3h.9M452.0 39.3h.9M447.0 41.7h.9M454.1 61.6h.9M444.0 66.7h.9M445.6 66.0h.9M444.7 48.6h.9M456.0 30.8h.9M450.5 64.0h.9M455.3 36.3h.9M444.7 48.3h.9M455.3 29.0h.9M443.2 60.0h.9M442.9 27.7h.9M443.6 26.5h.9M447.3 30.2h.9M469.5 29.3h.9M443.6 36.0h.9M454.8 51.7h.9M448.6 64.2h.9M461.8 51.5h.9M449.6 46.3h.9M440.1 41.0h.9M457.3 46.8h.9M443.0 25.5h.9M442.2 50.7h.9M455.8 26.2h.9M469.5 50.1h.9M442.8 57.8h.9M450.4 28.1h.9M466.4 26.3h.9M445.4 65.0h.9M468.4 50.0h.9M448.8 34.7h.9M442.5 48.1h.9M454.5 53.2h.9M442.5 27.6h.9M461.6 27.0h.9M445.4 60.5h.9M451.1 27.7h.9M442.0 68.9h.9M454.7 39.2h.9M455.5 50.7h.9M445.0 32.8h.9M443.1 41.5h.9M461.7 28.2h.9M447.1 30.2h.9M472.5 70.2h.9M442.7 47.4h.9M446.9 32.9h.9M449.7 33.0h.9M440.6 25.0h.9M440.4 70.0h.9M453.8 27.6h.9M463.9 32.3h.9M463.2 43.1h.9M467.9 56.6h.9M455.5 43.0h.9M440.5 46.3h.9M460.3 50.5h.9M463.5 29.4h.9M443.3 28.4h.9M469.4 32.8h.9M451.4 48.7h.9M447.0 31.3h.9M460.3 29.4h.9M443.0 50.3h.9M454.2 37.6h.9M472.4 25.8h.9M441.2 60.6h.9M456.0 40.6h.9M447.5 33.4h.9M448.1 57.4h.9M457.3 36.5h.9M447.0 35.1h.9M458.8 24.4h.9M443.8 48.9h.9M468.5 35.9h.9M455.8 67.3h.9M443.8 24.2h.9M468.0 36.0h.9M441.5 45.6h.9M473.2 36.5h.9M454.3 39.2h.9M463.4 32.7h.9M442.1 47.0h.9M453.5 45.9h.9M446.3 29.4h.9M444.3 41.3h.9M444.2 29.0h.9M441.6 69.8h.9M462.0 31.0h.9M447.9 46.9h.9M460.1 47.6h.9M440.2 49.0h.9M447.1 48.4h.9M455.6 48.5h.9M448.8 39.1h.9M455.8 59.0h.9M440.2 33.6h.9M456.2 30.3h.9M441.8 37.6h.9M441.4 28.7h.9M448.7 60.7h.9M446.7 26.1h.9M457.6 55.2h.9M451.8 29.4h.9M446.4 28.4h.9M447.1 31.0h.9M446.1 27.6h.9M446.5 32.4h.9M440.7 66.1h.9M472.3 53.5h.9M442.8 49.1h.9M442.5 37.4h.9M452.3 66.0h.9M448.3 51.1h.9M459.2 33.5h.9M454.8 26.9h.9M457.8 40.1h.9M447.6 24.6h.9M456.9 29.0h.9M449.1 62.0h.9M440.6 35.4h.9M443.5 56.3h.9M447.4 29.9h.9M448.6 33.2h.9M456.5 30.7h.9M469.8 53.7h.9M442.0 54.3h.9M444.4 24.9h.9M468.6 54.8h.9M471.1 29.6h.9M471.3 62.0h.9M454.0 25.3h.9M441.0 35.8h.9M445.9 47.3h.9M463.4 48.9h.9M442.8 55.5h.9M462.1 24.3h.9M459.7 41.9h.9M444.4 34.8h.9M440.9 29.4h.9M454.7 41.4h.9M444.5 53.3h.9M444.8 32.0h.9M452.4 39.8h.9M452.4 34.6h.9M455.0 38.9h.9M453.2 24.3h.9M440.0 71.7h.9M440.5 41.3h.9M466.4 42.0h.9M470.3 51.5h.9M456.6 46.0h.9M463.0 41.7h.9M452.5 40.4h.9M461.8 38.4h.9M465.2 41.3h.9M452.8 25.5h.9M459.7 56.9h.9M440.3 53.9h.9M468.2 30.3h.9M449.8 41.9h.9M441.6 56.1h.9M441.9 28.2h.9M459.9 48.5h.9M456.2 37.6h.9M443.9 47.3h.9M450.3 39.8h.9M453.4 33.4h.9M456.6 26.5h.9M452.3 27.7h.9M444.0 28.8h.9M466.9 43.8h.9M469.1 50.7h.9M451.3 31.9h.9M441.0 30.5h.9M441.9 31.2h.9M455.8 31.9h.9M451.0 27.4h.9M443.6 41.5h.9M441.6 67.2h.9M460.2 37.6h.9" stroke="#5068e4" stroke-width="0.90" stroke-opacity="0.55" fill="none"/>
<g filter="url(#b1)">
<path d="M446 24L462 24L466 40L462 58L452 66z" fill="#3a52e6" fill-opacity=".55"/>
</g>
<g filter="url(#b05)">
<path d="M418 85L418 30L420 24L452 24L456 35L457 48L454 60L447 71L437 81L428 85.5z" fill="#1f36e0"/>
</g>
<g filter="url(#b1)">
<ellipse cx="423" cy="64" rx="5" ry="19" fill="#22cce0"/>
<ellipse cx="437" cy="65" rx="7.5" ry="19" fill="#22cce0" transform="rotate(31 437 65)"/>
<ellipse cx="427" cy="79" rx="8" ry="4.5" fill="#22cce0"/>
<ellipse cx="438.5" cy="63" rx="4.2" ry="14" fill="#2ee05a" transform="rotate(28 438.5 63)"/>
<ellipse cx="428" cy="77" rx="6" ry="3.5" fill="#2ee05a"/>
</g>
<g filter="url(#b05)">
<ellipse cx="440.8" cy="60" rx="2" ry="7.5" fill="#e6e628" transform="rotate(18 440.8 60)"/>
<ellipse cx="440.8" cy="60" rx="1.2" ry="5.5" fill="#f08a1c" transform="rotate(18 440.8 60)"/>
<ellipse cx="426.2" cy="78" rx="1.6" ry="2.1" fill="#dd2a18"/>
<ellipse cx="431.5" cy="75" rx="1.6" ry="2.1" fill="#dd2a18"/>
</g>
<path d="M455.7 44.1h.9M455.1 57.5h.9M446.0 48.9h.9M451.6 47.6h.9M440.4 48.8h.9M452.2 31.0h.9M441.5 26.4h.9M448.7 27.8h.9M453.6 39.0h.9M455.9 50.4h.9M446.9 30.6h.9M446.8 45.9h.9M453.8 56.1h.9M445.2 24.8h.9M450.6 48.7h.9M450.4 52.9h.9M453.0 46.5h.9M453.1 28.5h.9M455.1 48.0h.9M441.5 30.1h.9M450.3 35.0h.9M455.0 34.0h.9M447.8 42.1h.9M455.0 34.9h.9M454.3 50.0h.9M449.1 58.1h.9M454.1 51.0h.9M448.7 25.6h.9M443.5 47.4h.9M441.9 47.2h.9M445.6 37.9h.9M453.2 54.3h.9M452.0 40.1h.9M448.6 59.5h.9M454.8 45.9h.9M441.3 56.5h.9M440.7 28.2h.9M450.5 31.1h.9M452.1 48.7h.9M442.6 56.7h.9M456.0 47.6h.9M455.7 52.8h.9M447.6 53.7h.9M455.0 49.1h.9M441.3 37.4h.9M451.3 37.2h.9M442.7 40.4h.9M442.3 41.1h.9M441.6 50.2h.9M443.4 57.7h.9M441.7 46.7h.9M450.3 31.2h.9M450.0 43.8h.9M449.9 30.7h.9M447.6 54.1h.9M449.9 32.8h.9M445.3 55.7h.9M440.8 41.2h.9M448.2 39.5h.9M440.0 27.8h.9" stroke="#b8c4ff" stroke-width="0.80" stroke-opacity="0.6" fill="none"/>
<path d="M413.6 24V86" stroke="#30d890" stroke-width="1.2"/>
</g>
<path d="M417 24.5L417.8 60L422.4 84L465.5 75L473.9 54.6V24.5" fill="none" stroke="#c8283c" stroke-width=".9"/>
<path d="M412.7 87.0v1.2M415.3 87.0v1.2M417.9 87.0v1.2M420.5 87.0v1.2M423.1 87.0v1.2M425.7 87.0v1.2M428.3 87.0v1.2M431.0 87.0v1.2M433.6 87.0v1.2M436.2 87.0v1.2M438.8 87.0v1.2M441.4 87.0v1.2M444.0 87.0v1.2M446.6 87.0v1.2M449.2 87.0v1.2M451.8 87.0v1.2M454.4 87.0v1.2M457.0 87.0v1.2M459.6 87.0v1.2M462.3 87.0v1.2M464.9 87.0v1.2M467.5 87.0v1.2M470.1 87.0v1.2M472.7 87.0v1.2M475.3 87.0v1.2M412.0 24.7h-1.2M412.0 27.3h-1.2M412.0 29.8h-1.2M412.0 32.4h-1.2M412.0 35.0h-1.2M412.0 37.5h-1.2M412.0 40.1h-1.2M412.0 42.7h-1.2M412.0 45.2h-1.2M412.0 47.8h-1.2M412.0 50.4h-1.2M412.0 52.9h-1.2M412.0 55.5h-1.2M412.0 58.1h-1.2M412.0 60.6h-1.2M412.0 63.2h-1.2M412.0 65.8h-1.2M412.0 68.3h-1.2M412.0 70.9h-1.2M412.0 73.5h-1.2M412.0 76.0h-1.2M412.0 78.6h-1.2M412.0 81.2h-1.2M412.0 83.7h-1.2M412.0 86.3h-1.2" stroke="#333" stroke-width=".7" fill="none"/>
<rect x="412.7" y="24.7" width="62.6" height="61.6" fill="none" stroke="#222" stroke-width="1.4"/>
<text x="409.6" y="28.6" font-size="4.3" text-anchor="end" font-weight="bold" fill="#555" >250K</text>
<text x="409.6" y="40.3" font-size="4.3" text-anchor="end" font-weight="bold" fill="#555" >200K</text>
<text x="409.6" y="52.1" font-size="4.3" text-anchor="end" font-weight="bold" fill="#555" >150K</text>
<text x="409.6" y="63.9" font-size="4.3" text-anchor="end" font-weight="bold" fill="#555" >100K</text>
<text x="409.6" y="75.8" font-size="4.3" text-anchor="end" font-weight="bold" fill="#555" >50K</text>
<text x="409.6" y="87.5" font-size="4.3" text-anchor="end" font-weight="bold" fill="#555" >0</text>
<text x="412.6" y="94.0" font-size="4.3" text-anchor="middle" font-weight="bold" fill="#555" >0</text>
<text x="424.8" y="94.0" font-size="4.3" text-anchor="middle" font-weight="bold" fill="#555" >50K</text>
<text x="437.6" y="94.0" font-size="4.3" text-anchor="middle" font-weight="bold" fill="#555" >100K</text>
<text x="449.1" y="94.0" font-size="4.3" text-anchor="middle" font-weight="bold" fill="#555" >150K</text>
<text x="460.6" y="94.0" font-size="4.3" text-anchor="middle" font-weight="bold" fill="#555" >200K</text>
<text x="472.2" y="94.0" font-size="4.3" text-anchor="middle" font-weight="bold" fill="#555" >250K</text>
<text x="444.3" y="13.1" font-size="6.4" text-anchor="middle" font-weight="normal" fill="#1a1a1a" stroke="#1a1a1a" stroke-width=".2">Debris</text>
<text x="444.3" y="20.2" font-size="6.4" text-anchor="middle" font-weight="normal" fill="#1a1a1a" stroke="#1a1a1a" stroke-width=".2">exclusion</text>
<text x="444.0" y="101.9" font-size="6.2" text-anchor="middle" font-weight="bold" fill="#222" stroke="#222" stroke-width=".15" textLength="13.2" lengthAdjust="spacingAndGlyphs">FSC-A</text>
<text x="0" y="0" font-size="6.0" text-anchor="middle" font-weight="bold" fill="#222" stroke="#222" stroke-width=".15" textLength="12.8" lengthAdjust="spacingAndGlyphs" transform="translate(394.8,55.5) rotate(-90)">SSC-A</text>
<g clip-path="url(#c5)">
<path d="M71.4 152.8h.9M60.1 128.2h.9M71.0 171.3h.9M62.1 170.9h.9M71.6 185.9h.9M50.8 179.9h.9M48.6 185.7h.9M63.1 161.4h.9M69.7 167.4h.9M60.4 180.9h.9M62.3 176.3h.9M67.7 150.4h.9M69.2 167.8h.9M68.6 182.9h.9M67.0 174.2h.9M63.9 184.3h.9M69.7 147.6h.9M64.0 174.1h.9M73.1 138.2h.9M58.5 173.7h.9M66.8 130.2h.9M50.9 161.4h.9M66.5 178.2h.9M75.0 183.9h.9M75.7 171.5h.9M64.2 149.8h.9M58.8 168.7h.9M67.7 178.5h.9M47.5 182.4h.9M70.6 149.7h.9M72.5 170.8h.9M63.5 139.1h.9M63.2 147.2h.9M56.3 128.7h.9M72.5 161.5h.9M63.5 180.7h.9M60.5 173.0h.9M55.6 136.4h.9M54.4 168.8h.9M59.9 126.9h.9M48.6 178.1h.9M63.8 141.5h.9M60.5 142.7h.9M66.3 163.2h.9M75.2 131.5h.9M73.2 131.2h.9M65.1 140.7h.9M59.9 179.1h.9M70.7 151.5h.9M66.9 131.9h.9M71.8 141.0h.9M57.0 158.7h.9M57.0 181.4h.9M76.0 145.4h.9M57.6 177.9h.9M54.8 180.7h.9M74.6 159.6h.9M63.0 181.8h.9M70.9 159.6h.9M69.4 166.4h.9M73.3 166.0h.9M71.1 161.3h.9M70.3 126.3h.9M54.3 162.1h.9M64.6 179.7h.9M60.6 151.9h.9M65.5 185.1h.9M71.7 163.6h.9M59.3 175.2h.9M57.2 155.2h.9M69.2 133.0h.9M66.8 157.6h.9M47.5 167.9h.9M58.9 182.8h.9M60.5 168.6h.9M54.0 151.8h.9M68.0 170.0h.9M74.0 174.9h.9M71.0 156.0h.9M65.3 156.2h.9M73.7 148.0h.9M74.6 171.4h.9M75.6 151.6h.9M61.3 154.9h.9M53.8 169.2h.9M58.9 153.6h.9M70.9 182.4h.9M75.6 166.6h.9M68.8 144.3h.9M62.6 179.7h.9M50.2 151.3h.9M70.5 150.5h.9M72.5 143.1h.9M75.4 143.7h.9M59.2 175.7h.9M68.1 160.0h.9M48.2 178.0h.9M75.0 177.4h.9M68.7 156.3h.9M61.3 160.4h.9M74.1 185.2h.9M54.4 168.5h.9M64.3 172.3h.9M71.4 156.9h.9M68.1 147.4h.9M53.9 165.7h.9M69.0 166.5h.9M75.0 180.5h.9M73.9 185.6h.9M67.6 140.8h.9M57.7 158.0h.9M70.7 180.8h.9M53.4 162.1h.9M51.0 172.3h.9M70.2 171.4h.9M60.1 137.5h.9M67.2 147.6h.9M57.7 141.2h.9M69.1 151.4h.9M72.3 134.4h.9M71.1 150.7h.9M73.7 133.6h.9M71.2 144.0h.9M63.2 141.6h.9M68.0 180.9h.9M64.0 138.5h.9M62.7 127.7h.9M64.6 172.1h.9M72.3 181.7h.9M71.0 158.6h.9M70.0 179.5h.9M74.4 147.7h.9M52.5 177.0h.9M53.5 183.3h.9M64.5 181.3h.9M55.3 167.2h.9M55.2 180.6h.9M67.1 147.3h.9M64.3 145.6h.9M66.0 125.1h.9M70.7 177.9h.9M56.0 183.3h.9M75.2 169.0h.9M63.6 181.0h.9M60.0 135.2h.9M70.3 159.8h.9M74.8 183.7h.9M74.2 151.9h.9M73.4 175.0h.9M55.3 131.5h.9M57.7 125.2h.9M75.2 174.6h.9M75.2 147.4h.9M59.0 173.0h.9M75.7 145.5h.9M58.2 178.5h.9M75.2 159.5h.9M65.9 169.6h.9M57.2 139.2h.9M63.0 135.4h.9M75.3 157.1h.9M62.2 156.3h.9M52.4 138.0h.9M60.1 163.0h.9M70.0 166.5h.9M57.7 138.7h.9M75.6 132.3h.9M74.0 128.1h.9M75.3 144.4h.9M65.0 179.5h.9M54.8 179.2h.9M58.6 129.4h.9M53.3 162.6h.9M61.6 174.9h.9M68.3 166.4h.9M56.8 163.2h.9M73.9 157.3h.9M66.3 154.4h.9M70.6 158.8h.9M67.6 136.9h.9M73.8 168.1h.9M69.2 149.0h.9M58.6 179.1h.9M67.5 130.3h.9M58.4 154.4h.9M73.7 157.4h.9M67.8 177.4h.9M66.3 128.5h.9M63.9 150.4h.9M51.2 163.4h.9M73.2 173.8h.9M58.1 156.0h.9M75.8 180.4h.9M66.2 180.4h.9M73.6 173.6h.9M57.4 167.1h.9M54.4 136.8h.9M73.3 185.9h.9M61.6 170.5h.9M59.8 156.7h.9M66.1 139.7h.9M72.4 172.7h.9M69.6 136.9h.9M71.2 174.2h.9M61.0 160.9h.9M60.0 159.8h.9M71.0 167.2h.9M60.1 172.4h.9M49.9 160.8h.9M68.2 145.7h.9M54.9 174.4h.9M55.7 170.2h.9M70.3 161.9h.9M64.9 185.1h.9M60.5 161.0h.9M70.7 183.9h.9M65.8 182.5h.9M58.1 142.0h.9M69.6 151.1h.9M66.1 161.4h.9M60.4 173.9h.9M64.3 149.0h.9M60.1 185.3h.9M58.7 184.3h.9M60.3 149.3h.9M50.1 154.1h.9M69.7 149.7h.9M73.5 147.3h.9M66.5 145.1h.9M67.9 154.6h.9M67.4 157.1h.9M67.2 148.3h.9M72.0 142.0h.9M62.4 185.4h.9M73.2 141.0h.9M52.1 168.0h.9M49.5 177.9h.9M60.1 184.3h.9M53.5 168.1h.9M60.5 144.1h.9M55.8 141.6h.9M72.3 148.1h.9M70.5 166.4h.9M74.6 181.8h.9M56.6 175.6h.9M62.8 182.8h.9M71.3 184.8h.9M62.3 126.1h.9M74.4 141.8h.9M58.2 165.6h.9M52.4 128.3h.9M66.0 142.4h.9M56.6 160.4h.9M53.1 158.8h.9M69.6 176.5h.9M60.2 158.5h.9M48.6 170.6h.9M61.4 143.9h.9M48.1 181.8h.9M74.9 151.5h.9M68.7 173.2h.9M66.7 132.8h.9M50.0 159.4h.9M51.7 183.1h.9M68.2 162.0h.9M72.3 128.9h.9M53.3 161.4h.9M73.7 139.2h.9M73.6 169.0h.9M57.8 169.8h.9M67.8 139.9h.9M66.8 147.6h.9M62.3 183.0h.9M51.0 137.6h.9M57.6 179.8h.9M49.2 180.0h.9M61.9 156.4h.9M61.2 171.3h.9M75.4 157.6h.9M72.6 145.5h.9M70.6 140.6h.9M71.5 164.6h.9M47.5 171.6h.9M53.9 148.5h.9M71.4 173.6h.9M66.5 134.8h.9M75.9 125.1h.9M59.5 135.6h.9M62.2 146.3h.9M49.4 133.7h.9M62.4 135.8h.9M50.5 179.6h.9M66.6 174.2h.9M51.1 154.3h.9M73.5 158.7h.9M74.7 170.1h.9M63.8 177.6h.9M50.2 155.2h.9M67.4 180.3h.9M65.7 179.2h.9M65.4 127.4h.9M67.8 176.7h.9M68.9 133.0h.9M53.0 170.5h.9M72.8 150.1h.9M73.3 177.3h.9M64.4 184.4h.9M73.1 171.1h.9M71.6 142.5h.9M63.7 184.2h.9M72.6 167.6h.9M65.4 158.7h.9M50.6 160.5h.9M54.5 183.4h.9M65.4 180.8h.9M48.7 170.4h.9M48.7 139.6h.9M52.0 170.6h.9M68.3 164.3h.9M62.4 136.4h.9M54.4 184.3h.9M55.1 157.0h.9M69.9 172.5h.9M64.3 163.8h.9M53.2 173.3h.9M51.0 172.8h.9M69.7 180.7h.9M56.6 182.2h.9M71.0 133.5h.9M67.8 174.3h.9M53.4 165.5h.9M70.9 166.5h.9M66.3 172.5h.9M64.3 157.4h.9M53.8 130.2h.9M71.2 136.7h.9M52.9 125.5h.9M70.4 177.8h.9M62.4 145.1h.9M70.5 133.4h.9M70.5 159.8h.9M73.9 172.7h.9M55.7 154.5h.9M71.4 162.8h.9M61.9 179.3h.9M49.8 184.6h.9M70.1 152.7h.9M53.5 179.3h.9M75.9 154.4h.9M71.0 150.9h.9M60.9 143.7h.9M69.4 146.3h.9M69.5 168.0h.9M69.7 161.0h.9M74.0 141.6h.9M50.5 145.1h.9M74.9 160.1h.9M48.7 180.6h.9M69.3 137.5h.9M51.0 157.6h.9M63.6 168.6h.9M60.0 147.5h.9M66.9 164.0h.9M52.7 180.8h.9M60.3 140.9h.9M75.4 149.8h.9M50.6 161.5h.9M51.5 177.2h.9M70.0 149.1h.9M72.9 163.8h.9M68.5 184.1h.9M72.8 151.6h.9M74.5 137.4h.9M58.1 153.1h.9M56.9 156.0h.9M61.0 180.2h.9M74.4 177.5h.9M71.4 145.2h.9M69.0 157.9h.9M67.6 180.0h.9M71.1 144.6h.9M57.0 174.3h.9M49.1 153.9h.9M60.1 125.0h.9M62.7 183.2h.9M58.2 128.1h.9M70.0 165.4h.9M54.2 185.8h.9M73.9 137.4h.9M51.9 128.1h.9M47.1 166.1h.9M60.9 179.2h.9M56.3 128.3h.9M50.0 162.6h.9M61.8 167.3h.9M68.5 172.6h.9M57.7 142.7h.9M52.2 179.4h.9M71.6 176.5h.9M53.6 179.1h.9M64.4 182.1h.9M73.9 168.1h.9M53.9 184.2h.9M74.3 146.5h.9M70.9 174.0h.9M74.1 162.4h.9M63.6 173.4h.9M72.6 185.2h.9M54.0 153.5h.9M70.3 168.3h.9M69.5 146.0h.9M64.0 162.5h.9M54.9 146.2h.9M70.6 148.3h.9M62.9 139.0h.9M66.4 177.7h.9M51.5 140.8h.9M73.6 161.0h.9M57.9 133.8h.9M63.7 155.6h.9" stroke="#5068e4" stroke-width="0.90" stroke-opacity="0.5" fill="none"/>
<g filter="url(#b1)">
<path d="M55 183L57 166L61 152L66 141L71 131L74 125L103 125L103.5 150L102.5 170L97 183L88 186.5L60 186.5z" fill="#1f36e0"/>
</g>
<g filter="url(#b1)">
<ellipse cx="96.5" cy="156" rx="5.8" ry="19" fill="#22cce0" transform="rotate(18 96.5 156)"/>
<ellipse cx="90" cy="173" rx="9" ry="7" fill="#22cce0"/>
<ellipse cx="82" cy="176.5" rx="13" ry="7" fill="#22cce0" transform="rotate(-8 82 176.5)"/>
<ellipse cx="80.4" cy="177" rx="8" ry="5" fill="#2ee05a"/>
<ellipse cx="96.5" cy="159" rx="4" ry="13" fill="#2ee05a" transform="rotate(22 96.5 159)"/>
</g>
<g filter="url(#b05)">
<ellipse cx="80.4" cy="178" rx="3.2" ry="2.2" fill="#e6e628"/>
<ellipse cx="80.4" cy="178.3" rx="1.5" ry="1" fill="#f08a1c"/>
<ellipse cx="96.5" cy="159.5" rx="2.4" ry="9.5" fill="#f08a1c" transform="rotate(20 96.5 159.5)"/>
<ellipse cx="97.3" cy="157" rx="1.1" ry="6" fill="#dd2a18" transform="rotate(20 97.3 157)"/>
</g>
<path d="M81.2 145.6h.9M90.4 138.8h.9M82.4 131.9h.9M93.8 125.3h.9M91.0 147.0h.9M90.5 126.1h.9M74.9 143.1h.9M78.8 134.7h.9M90.9 140.5h.9M81.5 140.7h.9M97.8 135.8h.9M84.3 140.8h.9M96.7 140.8h.9M98.1 143.0h.9M98.9 130.8h.9M91.5 129.8h.9M77.1 132.9h.9M98.6 131.8h.9M82.0 146.3h.9M99.5 142.4h.9M83.2 143.9h.9M75.7 125.2h.9M75.6 132.7h.9M80.3 144.8h.9M85.6 144.6h.9M86.7 133.6h.9M82.8 126.1h.9M85.8 146.9h.9M99.3 146.4h.9M76.5 135.2h.9M95.7 128.5h.9M75.7 129.7h.9M76.2 142.0h.9M92.5 147.7h.9M75.3 141.2h.9M94.6 129.1h.9M76.1 147.5h.9M94.6 126.6h.9M78.9 140.1h.9M78.4 135.0h.9M77.9 127.1h.9M86.6 137.5h.9M96.0 125.1h.9M83.2 126.7h.9M88.4 128.8h.9M82.6 147.3h.9M90.9 140.4h.9M89.7 129.6h.9M91.8 147.3h.9M76.3 144.3h.9M82.9 129.6h.9M91.0 144.6h.9M78.3 129.5h.9M87.0 129.7h.9M87.2 147.8h.9M74.7 134.8h.9M79.3 128.8h.9M89.3 146.8h.9M86.2 137.8h.9M92.2 144.8h.9M99.1 132.7h.9M78.6 146.1h.9M89.7 145.3h.9M77.8 143.2h.9M77.1 128.0h.9M77.1 133.3h.9M84.8 140.1h.9M98.4 134.9h.9M89.0 134.4h.9M84.0 131.1h.9M74.1 130.9h.9M92.8 143.4h.9M91.8 135.1h.9M84.7 129.3h.9M80.3 147.9h.9M89.3 134.3h.9M87.9 136.3h.9M81.6 134.6h.9M85.2 145.7h.9M97.2 131.6h.9M85.8 130.1h.9M98.8 128.1h.9M86.5 125.3h.9M86.0 135.6h.9M74.4 128.5h.9M87.0 135.9h.9M81.9 126.2h.9M82.4 133.0h.9M76.7 138.8h.9M79.7 137.2h.9" stroke="#8898f8" stroke-width="0.80" stroke-opacity="0.6" fill="none"/>
</g>
<path d="M69.5 125V188" stroke="#c8283c" stroke-width=".8" stroke-opacity=".75"/>
<path d="M45.7 188.0v1.2M48.3 188.0v1.2M50.8 188.0v1.2M53.4 188.0v1.2M56.0 188.0v1.2M58.5 188.0v1.2M61.1 188.0v1.2M63.7 188.0v1.2M66.2 188.0v1.2M68.8 188.0v1.2M71.4 188.0v1.2M73.9 188.0v1.2M76.5 188.0v1.2M79.1 188.0v1.2M81.6 188.0v1.2M84.2 188.0v1.2M86.8 188.0v1.2M89.3 188.0v1.2M91.9 188.0v1.2M94.5 188.0v1.2M97.0 188.0v1.2M99.6 188.0v1.2M102.2 188.0v1.2M104.7 188.0v1.2M107.3 188.0v1.2M45.0 125.7h-1.2M45.0 128.3h-1.2M45.0 130.8h-1.2M45.0 133.4h-1.2M45.0 136.0h-1.2M45.0 138.5h-1.2M45.0 141.1h-1.2M45.0 143.7h-1.2M45.0 146.2h-1.2M45.0 148.8h-1.2M45.0 151.4h-1.2M45.0 153.9h-1.2M45.0 156.5h-1.2M45.0 159.1h-1.2M45.0 161.6h-1.2M45.0 164.2h-1.2M45.0 166.8h-1.2M45.0 169.3h-1.2M45.0 171.9h-1.2M45.0 174.5h-1.2M45.0 177.0h-1.2M45.0 179.6h-1.2M45.0 182.2h-1.2M45.0 184.7h-1.2M45.0 187.3h-1.2" stroke="#333" stroke-width=".7" fill="none"/>
<rect x="45.7" y="125.7" width="61.6" height="61.6" fill="none" stroke="#222" stroke-width="1.4"/>
<text x="42.6" y="129.6" font-size="4.3" text-anchor="end" font-weight="bold" fill="#555" >250K</text>
<text x="42.6" y="141.4" font-size="4.3" text-anchor="end" font-weight="bold" fill="#555" >200K</text>
<text x="42.6" y="153.2" font-size="4.3" text-anchor="end" font-weight="bold" fill="#555" >150K</text>
<text x="42.6" y="165.0" font-size="4.3" text-anchor="end" font-weight="bold" fill="#555" >100K</text>
<text x="42.6" y="176.8" font-size="4.3" text-anchor="end" font-weight="bold" fill="#555" >50K</text>
<text x="42.6" y="188.6" font-size="4.3" text-anchor="end" font-weight="bold" fill="#555" >0</text>
<text x="49.8" y="195.0" font-size="4.3" text-anchor="middle" font-weight="bold" fill="#555" >-10<tspan font-size="2.6" dy="-1.6">3</tspan></text>
<text x="59.4" y="195.0" font-size="4.3" text-anchor="middle" font-weight="bold" fill="#555" >0</text>
<text x="70.2" y="195.0" font-size="4.3" text-anchor="middle" font-weight="bold" fill="#555" >10<tspan font-size="2.6" dy="-1.6">3</tspan></text>
<text x="87.3" y="195.0" font-size="4.3" text-anchor="middle" font-weight="bold" fill="#555" >10<tspan font-size="2.6" dy="-1.6">4</tspan></text>
<text x="101.5" y="195.0" font-size="4.3" text-anchor="middle" font-weight="bold" fill="#555" >10<tspan font-size="2.6" dy="-1.6">5</tspan></text>
<text x="76.5" y="121.8" font-size="6.4" text-anchor="middle" font-weight="normal" fill="#1a1a1a" stroke="#1a1a1a" stroke-width=".2">Lin neg/low Gating</text>
<text x="77.0" y="202.8" font-size="6.2" text-anchor="middle" font-weight="bold" fill="#222" stroke="#222" stroke-width=".15" textLength="21.0" lengthAdjust="spacingAndGlyphs">LIN AF700</text>
<text x="0" y="0" font-size="6.0" text-anchor="middle" font-weight="bold" fill="#222" stroke="#222" stroke-width=".15" textLength="12.8" lengthAdjust="spacingAndGlyphs" transform="translate(28.0,156.4) rotate(-90)">SSC-A</text>
<path d="M109.7 138.5H131" stroke="#8e1838" stroke-width="1.2"/>
<path d="M128.5 136.1L134 138.5L128.5 140.9L129.7 138.5z" fill="#8e1838"/>
<g clip-path="url(#c6)">
<path d="M176.0 169.3h.9M163.3 171.8h.9M157.5 177.4h.9M154.7 162.4h.9M187.0 156.4h.9M176.0 146.4h.9M151.7 146.1h.9M162.3 150.1h.9M160.7 151.4h.9M174.9 144.7h.9M154.1 150.3h.9M147.8 154.3h.9M154.9 140.9h.9M170.7 147.7h.9M162.7 161.0h.9M186.4 144.3h.9M148.7 181.3h.9M156.7 142.8h.9M171.3 153.8h.9M176.3 170.6h.9M155.9 144.5h.9M160.7 161.2h.9M179.0 167.2h.9M162.0 165.0h.9M188.4 160.3h.9M171.7 147.2h.9M156.6 145.6h.9M148.8 149.3h.9M182.3 172.2h.9M158.8 145.8h.9M156.5 139.8h.9M188.6 157.8h.9M189.8 182.2h.9M169.7 154.5h.9M151.3 145.7h.9M176.2 158.4h.9M149.5 183.1h.9M177.9 160.2h.9M165.5 174.1h.9M150.1 149.4h.9M183.3 150.8h.9M175.1 145.9h.9M176.1 141.7h.9M179.1 156.5h.9M154.9 146.5h.9M177.4 146.6h.9M177.0 148.1h.9M152.3 149.7h.9M155.0 148.4h.9M176.5 144.1h.9M177.7 142.9h.9M170.6 162.5h.9M172.7 147.8h.9M150.3 150.5h.9M170.9 162.1h.9M180.4 151.4h.9M179.5 161.5h.9M151.8 143.8h.9M150.0 149.0h.9M173.0 175.4h.9M182.8 173.6h.9M192.1 153.5h.9M160.9 175.2h.9M159.1 141.8h.9M148.9 175.7h.9M137.8 167.7h.9M155.0 154.3h.9M175.4 162.2h.9M166.6 155.3h.9M194.6 158.5h.9M157.1 168.4h.9M178.7 167.2h.9M150.6 144.4h.9M141.1 171.2h.9M156.5 145.5h.9M178.5 180.9h.9M174.6 149.3h.9M162.1 165.2h.9M160.6 176.5h.9M159.3 140.7h.9M153.5 147.3h.9M171.7 161.8h.9M177.2 163.5h.9M152.9 143.0h.9M180.3 149.1h.9M194.2 157.5h.9M158.3 143.2h.9M179.8 171.8h.9M182.1 166.5h.9M160.5 142.3h.9M154.2 144.5h.9M170.2 146.5h.9M140.3 169.4h.9M128.9 145.9h.9M158.1 141.9h.9M151.1 140.5h.9M181.7 165.2h.9M182.8 164.8h.9M122.6 178.2h.9M184.0 158.4h.9M162.8 164.2h.9M185.9 163.4h.9M181.3 185.2h.9M154.0 166.9h.9M177.4 148.2h.9M154.3 162.0h.9M157.5 145.6h.9M158.3 145.3h.9M178.4 178.4h.9M174.0 162.4h.9M186.1 161.5h.9M158.7 143.7h.9M171.1 145.0h.9M169.5 149.9h.9M166.9 142.7h.9M153.1 144.0h.9M166.4 145.7h.9M164.1 144.6h.9M169.4 160.5h.9M151.6 147.3h.9M167.7 169.9h.9M169.3 144.1h.9M149.5 148.8h.9M172.4 142.9h.9M142.1 170.0h.9M154.6 143.0h.9M148.8 171.8h.9M172.4 147.0h.9M179.9 159.9h.9M177.2 172.6h.9M153.9 143.1h.9M156.1 152.2h.9M186.6 156.5h.9M194.5 161.8h.9M186.0 157.5h.9M150.1 140.4h.9M174.3 146.3h.9M194.4 168.7h.9M154.7 172.8h.9M151.9 152.1h.9M177.0 168.7h.9M156.0 145.2h.9M171.4 144.8h.9M161.7 149.5h.9M173.9 154.4h.9M192.6 166.8h.9M183.8 156.7h.9M163.8 139.7h.9M187.2 176.1h.9M158.2 146.2h.9M168.8 185.0h.9M152.9 140.7h.9M177.5 169.8h.9M154.5 143.3h.9M153.9 144.0h.9M148.9 148.8h.9M173.3 174.5h.9M164.1 165.9h.9M175.7 161.4h.9M158.9 178.8h.9M156.9 148.8h.9M180.2 145.7h.9M155.5 145.8h.9M174.1 144.7h.9M187.1 173.4h.9M168.7 144.6h.9M150.0 143.8h.9M161.2 135.4h.9M168.5 143.4h.9M175.4 152.1h.9M162.0 182.1h.9M160.8 162.2h.9M155.3 150.9h.9M162.5 146.5h.9M162.4 141.4h.9M172.6 166.3h.9M174.2 165.3h.9M159.5 148.7h.9M173.3 148.1h.9M169.9 165.4h.9M153.8 144.0h.9M155.7 152.1h.9M153.8 162.9h.9M157.9 146.6h.9M174.2 146.0h.9M192.7 149.3h.9M171.3 169.2h.9M172.9 165.7h.9M178.0 165.5h.9M176.7 158.4h.9M170.6 148.0h.9M177.5 144.8h.9M158.5 149.3h.9M181.8 162.1h.9M167.3 172.7h.9M175.8 180.2h.9M178.4 156.7h.9M164.0 167.9h.9M177.2 155.7h.9M153.0 179.2h.9M180.8 161.8h.9M174.6 170.7h.9M191.9 167.4h.9M158.7 142.4h.9M146.2 182.6h.9M178.0 173.1h.9M161.4 151.5h.9M159.5 150.0h.9M148.7 165.8h.9M176.9 173.2h.9M172.2 169.3h.9M170.3 166.9h.9M181.4 165.1h.9M141.6 157.0h.9M167.0 160.3h.9M156.3 144.3h.9M139.3 154.9h.9M169.0 148.3h.9M178.7 149.2h.9M162.9 150.8h.9M156.8 177.1h.9M177.8 145.1h.9M174.1 165.0h.9M154.7 141.5h.9M159.9 163.5h.9M160.6 169.8h.9M137.1 141.8h.9M144.1 147.2h.9M160.4 142.0h.9M171.2 159.3h.9M151.6 141.5h.9M172.2 163.3h.9M177.3 176.2h.9M144.1 185.8h.9M148.6 164.6h.9M155.8 184.5h.9M155.5 149.7h.9M157.3 136.6h.9M178.5 147.2h.9M167.4 161.0h.9M155.1 182.8h.9M163.4 162.5h.9M176.8 157.7h.9M151.7 147.2h.9M175.0 157.1h.9M154.0 140.3h.9M179.0 172.9h.9M148.7 156.4h.9M147.2 166.8h.9M158.0 149.0h.9M183.1 177.9h.9M168.6 146.0h.9M172.1 152.6h.9M153.3 144.8h.9M183.9 175.9h.9M168.1 185.4h.9M182.2 166.9h.9M146.8 173.9h.9M181.3 153.0h.9M185.4 161.9h.9M149.0 144.2h.9M182.8 147.6h.9M177.8 147.4h.9M169.9 168.6h.9M167.2 184.5h.9M170.4 148.5h.9M172.0 146.8h.9M167.0 171.2h.9M166.3 143.2h.9M164.6 140.8h.9M181.9 162.2h.9M164.8 165.3h.9M155.0 143.9h.9M169.0 144.8h.9M172.8 145.9h.9M188.0 169.5h.9M153.8 137.1h.9M153.1 148.2h.9M173.9 166.9h.9M154.6 143.7h.9M159.1 144.8h.9M162.8 167.4h.9M157.9 156.6h.9M158.8 146.5h.9M183.1 167.3h.9M170.3 149.2h.9M168.5 145.4h.9M179.5 149.5h.9M172.0 169.0h.9M154.0 173.4h.9M177.0 164.8h.9M172.5 144.0h.9M168.8 146.5h.9M175.8 144.1h.9M170.0 161.5h.9M174.9 142.5h.9M183.0 166.6h.9M186.4 169.4h.9M152.6 148.5h.9M167.0 165.1h.9M149.2 159.6h.9M150.4 160.7h.9M182.0 176.3h.9M184.2 172.9h.9M145.0 159.3h.9M173.9 148.0h.9M165.0 166.5h.9M146.2 137.4h.9M147.6 148.7h.9M164.7 153.7h.9M159.9 146.2h.9M151.2 162.4h.9M170.4 141.6h.9M170.9 180.9h.9M143.6 147.3h.9M153.2 147.0h.9M166.7 173.6h.9M148.1 170.8h.9M171.6 152.6h.9M148.8 147.5h.9M181.6 174.4h.9M175.4 163.2h.9M186.8 167.2h.9M170.7 146.1h.9M149.1 140.4h.9M166.1 165.7h.9M168.7 143.4h.9M152.3 145.4h.9M179.8 171.4h.9M170.9 166.4h.9M159.6 170.0h.9M167.1 163.1h.9M164.4 176.3h.9M148.8 143.5h.9M137.3 172.4h.9M156.4 142.5h.9M176.1 161.9h.9M154.1 150.9h.9M164.5 167.3h.9M157.2 149.6h.9M189.9 158.6h.9M159.7 145.3h.9M154.4 144.4h.9M192.0 169.8h.9M163.3 148.0h.9M162.6 144.3h.9M170.6 168.3h.9M164.2 181.4h.9M159.4 146.7h.9M192.2 154.2h.9M165.5 178.3h.9M147.2 144.9h.9M160.1 160.5h.9M164.9 172.5h.9M165.6 145.8h.9M179.4 163.5h.9M180.7 168.9h.9M157.6 151.7h.9M169.5 146.1h.9M149.5 155.4h.9M156.0 148.6h.9M182.7 148.9h.9M179.2 157.6h.9M161.4 171.8h.9M154.9 147.5h.9M148.6 141.8h.9M148.9 147.0h.9M180.2 147.1h.9M154.7 149.1h.9M156.6 143.1h.9M181.2 143.1h.9M180.2 145.9h.9M162.9 155.0h.9M184.9 166.9h.9M175.9 147.3h.9M168.8 165.0h.9M148.3 152.9h.9M180.6 163.9h.9M172.2 183.5h.9M175.6 161.7h.9M169.0 164.4h.9M183.8 168.1h.9M184.6 160.1h.9M193.2 150.4h.9M179.2 162.7h.9M171.3 173.6h.9M172.1 172.9h.9M158.2 149.8h.9M176.9 153.4h.9M188.9 165.9h.9M149.5 151.7h.9M178.9 148.1h.9M134.9 161.9h.9M149.7 142.6h.9M152.7 149.0h.9M178.9 148.0h.9M179.9 173.3h.9M173.9 175.2h.9M156.9 174.5h.9M167.1 143.7h.9M148.1 143.2h.9M184.2 155.4h.9M179.2 170.8h.9M152.1 144.4h.9M173.5 167.4h.9M157.9 142.2h.9M150.8 155.9h.9M146.0 162.1h.9M150.0 148.1h.9M156.8 139.4h.9M186.0 167.2h.9M159.4 145.6h.9M153.5 148.3h.9M148.1 141.0h.9M179.3 168.4h.9M166.2 148.8h.9M148.2 142.8h.9M158.0 140.6h.9M172.2 157.3h.9M155.2 149.5h.9M178.5 166.9h.9M173.9 162.9h.9M181.7 162.2h.9M153.6 146.3h.9M148.3 147.2h.9M147.8 150.9h.9M154.2 176.1h.9M164.8 151.0h.9M152.4 141.2h.9M185.7 164.3h.9M170.1 183.7h.9M155.1 141.8h.9M176.5 150.1h.9M163.0 144.1h.9M162.6 146.2h.9M151.0 143.4h.9M183.1 182.4h.9M175.8 146.1h.9M154.0 145.6h.9M181.6 185.2h.9M171.4 183.8h.9M149.8 140.6h.9M157.3 155.5h.9M140.3 167.5h.9M154.5 179.6h.9M176.9 172.1h.9M183.4 169.1h.9M179.2 145.5h.9M182.1 162.5h.9M176.9 183.6h.9M191.9 171.1h.9M180.3 144.5h.9M176.8 167.8h.9M152.2 152.8h.9M180.3 184.3h.9M169.2 151.8h.9M141.4 156.7h.9M163.1 161.9h.9M173.7 170.9h.9M159.9 143.8h.9M149.9 153.1h.9M177.3 159.3h.9M172.0 165.9h.9M157.8 160.3h.9M165.9 147.2h.9M175.7 148.5h.9M176.5 176.2h.9M177.5 162.8h.9M164.3 150.0h.9M157.8 166.0h.9M168.1 173.2h.9M182.1 152.0h.9M178.6 155.9h.9M183.4 166.9h.9M189.2 166.8h.9M168.9 181.3h.9M173.5 160.8h.9M179.9 174.1h.9M185.5 162.5h.9M156.1 144.3h.9M174.0 165.0h.9M145.5 140.1h.9M157.7 146.1h.9M158.1 151.5h.9M181.0 160.4h.9M170.5 173.1h.9M187.9 174.3h.9M163.8 171.9h.9M175.8 161.8h.9M154.4 178.8h.9M152.5 135.5h.9M152.0 156.4h.9M148.7 146.5h.9M155.5 145.9h.9M154.7 183.6h.9M155.2 140.5h.9M178.0 175.8h.9M161.2 153.8h.9M186.2 148.2h.9M171.1 166.6h.9M164.6 142.3h.9M150.0 150.1h.9M176.8 146.7h.9M148.6 148.7h.9M161.6 134.0h.9M176.1 164.7h.9M159.4 149.3h.9M183.9 177.9h.9M153.6 144.0h.9M152.3 154.8h.9M170.7 156.9h.9M162.4 167.3h.9M157.2 142.0h.9M156.1 163.7h.9M155.5 146.2h.9M175.0 168.2h.9M145.0 176.8h.9M187.2 157.1h.9M139.4 142.6h.9M175.2 154.2h.9M152.1 152.5h.9M186.4 167.9h.9M156.4 167.3h.9M177.5 168.6h.9M170.7 148.5h.9M158.5 149.2h.9M157.9 143.7h.9M152.3 136.6h.9M153.6 141.4h.9M161.0 140.2h.9M173.6 144.8h.9M151.7 141.8h.9M183.6 154.0h.9M177.1 168.0h.9M151.9 146.2h.9M159.9 141.4h.9M169.0 150.8h.9M159.8 141.2h.9M160.8 146.1h.9M172.9 158.9h.9M177.4 180.4h.9M153.4 147.1h.9M148.4 148.6h.9M186.7 164.3h.9M170.6 167.1h.9M143.7 149.3h.9M178.6 157.7h.9M164.6 164.0h.9M168.2 140.7h.9M185.9 163.6h.9M178.2 149.6h.9M186.3 174.9h.9M162.5 146.4h.9M180.7 177.9h.9M161.5 145.7h.9M156.1 156.3h.9M153.4 146.5h.9M162.1 163.6h.9M179.0 159.9h.9M160.0 154.7h.9M171.0 150.3h.9M178.4 168.7h.9M145.5 155.1h.9M190.0 161.1h.9M180.8 154.9h.9M178.7 167.6h.9M158.4 139.1h.9M181.2 166.6h.9M162.3 172.3h.9M177.1 169.3h.9M145.8 144.0h.9M185.8 165.6h.9M159.7 150.2h.9M145.9 185.9h.9M165.9 158.4h.9M178.0 157.7h.9M174.6 170.9h.9M168.4 158.7h.9M149.9 140.4h.9M155.7 180.0h.9M182.2 165.2h.9M175.8 145.3h.9M170.1 143.3h.9M175.2 163.2h.9M150.9 150.5h.9M180.1 146.9h.9M172.2 161.7h.9M181.6 164.0h.9M154.0 151.6h.9M167.3 141.5h.9M157.0 144.5h.9M163.0 144.3h.9M150.6 138.8h.9M157.9 145.1h.9M174.6 158.9h.9M153.0 144.3h.9M160.4 183.9h.9M186.1 164.2h.9M181.7 150.0h.9M176.1 145.5h.9" stroke="#8090c8" stroke-width="0.90" stroke-opacity="0.55" fill="none"/>
<path d="M153.3 147.8h.9M149.5 145.6h.9M157.9 142.6h.9M151.3 147.1h.9M151.2 147.9h.9M148.1 140.7h.9M153.6 144.6h.9M153.3 147.8h.9M156.2 144.0h.9M150.5 139.5h.9M148.2 145.7h.9M152.9 140.8h.9M155.2 144.9h.9M156.4 144.0h.9M155.9 141.8h.9M144.8 142.7h.9M154.8 146.2h.9M144.6 145.4h.9M154.7 149.8h.9M155.2 146.5h.9M145.8 146.1h.9M144.3 144.2h.9M150.6 142.2h.9M148.1 144.6h.9M154.4 143.2h.9M153.3 147.0h.9M152.0 150.5h.9M150.8 142.9h.9M144.6 148.1h.9M154.8 144.5h.9M153.3 144.6h.9M155.5 145.0h.9M153.0 144.8h.9M148.6 138.7h.9M154.2 141.5h.9M153.6 146.8h.9M159.5 142.9h.9M152.7 147.7h.9M149.4 143.3h.9M153.8 150.9h.9M156.3 147.7h.9M148.3 146.9h.9M156.6 141.4h.9M152.1 144.5h.9M154.6 140.1h.9M154.9 145.0h.9M151.0 139.0h.9M143.9 143.5h.9M154.6 146.2h.9M155.0 140.2h.9M152.9 148.8h.9M145.9 146.9h.9M149.2 146.6h.9M152.5 140.4h.9M147.9 148.6h.9M151.6 148.5h.9M153.4 147.5h.9M150.5 145.6h.9M150.6 147.6h.9M149.8 148.2h.9M158.3 141.6h.9M151.4 146.5h.9M159.1 148.3h.9M152.4 140.1h.9M155.4 143.3h.9M152.8 146.2h.9M146.5 148.0h.9M155.7 146.6h.9M154.4 146.0h.9M146.5 143.6h.9M155.3 144.1h.9M152.2 146.1h.9M152.4 145.7h.9M154.0 145.0h.9M147.7 144.2h.9M155.8 143.1h.9M153.9 145.9h.9M148.6 137.0h.9M152.0 142.8h.9M149.6 147.7h.9M149.0 146.0h.9M152.5 145.6h.9M159.9 139.4h.9M155.9 144.6h.9M151.0 143.1h.9M152.2 145.1h.9M148.4 149.6h.9M149.1 144.6h.9M147.0 145.4h.9M153.5 148.1h.9M155.9 143.6h.9M158.4 144.7h.9M158.2 149.9h.9M150.5 142.0h.9M154.2 149.1h.9M153.6 148.1h.9M154.4 147.5h.9M157.3 144.2h.9M146.5 144.7h.9M148.9 141.6h.9M151.4 147.0h.9M144.8 140.7h.9M155.2 142.5h.9M150.5 148.8h.9M156.5 146.0h.9M154.2 137.3h.9M154.2 146.1h.9M146.6 145.5h.9M153.9 144.7h.9M155.2 147.5h.9M152.3 144.3h.9M147.4 148.2h.9M149.8 145.9h.9M158.1 147.2h.9M147.0 144.8h.9M149.2 140.4h.9M148.9 146.7h.9M153.4 144.4h.9M152.7 141.7h.9M149.0 144.5h.9" stroke="#3088d0" stroke-width="1.00" stroke-opacity="0.7" fill="none"/>
<path d="M151.6 162.7h.9M147.3 169.5h.9M154.6 153.0h.9M150.4 167.9h.9M147.7 168.6h.9M139.3 166.3h.9M147.0 153.2h.9M151.8 164.8h.9M146.5 173.9h.9M144.0 158.6h.9M151.7 175.0h.9M157.0 161.3h.9M141.6 150.6h.9M142.7 167.1h.9M147.0 159.0h.9M143.6 158.8h.9M146.4 178.3h.9M150.8 180.2h.9M151.7 173.9h.9M153.3 170.7h.9M154.9 177.7h.9M156.1 168.3h.9M144.6 192.1h.9M146.8 171.4h.9M146.4 158.8h.9M150.0 154.4h.9M147.3 180.6h.9M148.6 174.5h.9M150.9 170.0h.9M148.5 172.4h.9M143.8 172.0h.9M143.3 158.2h.9M145.4 152.2h.9M139.3 170.0h.9M150.3 172.8h.9M157.8 167.8h.9M151.4 158.3h.9M151.2 154.2h.9M156.8 156.0h.9M146.2 173.8h.9M138.3 179.9h.9M143.8 168.1h.9M152.4 167.6h.9M152.2 160.8h.9M150.7 143.5h.9M154.7 159.1h.9M144.2 166.2h.9M155.6 158.7h.9M147.9 162.3h.9M143.9 152.5h.9M150.6 173.3h.9M144.7 168.4h.9M150.0 169.9h.9M147.3 166.5h.9M149.3 155.0h.9M147.4 174.2h.9M145.5 179.6h.9M147.0 154.6h.9M146.7 152.0h.9M150.7 149.5h.9M148.1 163.6h.9M146.7 170.4h.9M149.3 160.2h.9M151.7 161.4h.9M152.0 179.9h.9M149.7 175.6h.9M142.1 171.8h.9M141.4 164.2h.9M151.1 138.2h.9M144.6 158.0h.9M143.8 166.2h.9M150.8 154.0h.9M145.3 146.8h.9M144.9 144.3h.9M141.3 170.9h.9M151.9 157.6h.9M149.6 158.0h.9M152.8 184.1h.9M137.1 157.0h.9M145.2 161.1h.9M154.9 182.3h.9M148.0 172.6h.9M141.0 162.9h.9M146.7 164.5h.9M149.3 149.8h.9M143.4 188.2h.9M140.3 166.6h.9M151.2 171.1h.9M148.3 149.3h.9M145.9 149.9h.9M156.7 169.7h.9M151.2 168.1h.9M146.3 178.2h.9M151.9 172.6h.9M150.6 173.7h.9M146.8 170.5h.9M148.4 163.4h.9M150.9 188.2h.9M139.0 180.9h.9M146.1 178.4h.9M143.5 164.1h.9M152.6 165.3h.9M149.6 153.5h.9M142.9 183.3h.9M148.7 165.1h.9M141.9 155.3h.9M143.4 165.5h.9M147.5 159.7h.9M145.0 167.2h.9M153.2 151.5h.9M141.7 177.7h.9M141.7 161.8h.9M148.5 184.9h.9M138.9 135.9h.9M147.6 177.1h.9M148.6 157.6h.9M148.8 144.7h.9M151.7 181.3h.9M147.1 174.5h.9M143.3 181.3h.9M145.1 157.7h.9M144.6 147.7h.9M151.0 186.8h.9M141.7 163.9h.9M150.0 160.1h.9M141.1 169.5h.9M152.5 167.1h.9M143.3 162.9h.9M139.4 165.4h.9M153.4 177.5h.9M147.6 170.5h.9M145.7 167.4h.9M145.4 167.7h.9M145.7 168.0h.9M151.1 165.8h.9M142.3 171.2h.9M146.9 160.9h.9M150.5 157.3h.9M152.1 171.8h.9M144.9 158.8h.9M147.5 156.6h.9M152.2 142.6h.9M148.7 162.4h.9M143.1 172.5h.9M145.9 170.7h.9M146.1 163.1h.9M150.3 175.9h.9M152.4 165.8h.9M154.6 162.5h.9M142.0 146.6h.9M141.6 157.0h.9M140.1 169.4h.9M148.1 165.6h.9M149.1 164.9h.9M146.9 162.7h.9M148.2 154.3h.9M153.7 182.0h.9M148.2 189.7h.9M143.7 175.4h.9M140.8 172.3h.9M144.7 176.5h.9M148.5 175.9h.9M150.7 171.5h.9M146.8 182.6h.9M149.6 171.0h.9M154.4 163.3h.9M155.7 177.3h.9M148.4 150.9h.9M153.4 162.8h.9M148.4 167.3h.9M152.2 172.6h.9M139.9 159.2h.9M149.6 167.8h.9M151.5 171.9h.9M155.2 158.5h.9M153.8 170.0h.9M149.3 173.1h.9M146.5 173.5h.9M147.1 173.5h.9M144.7 178.2h.9M141.3 159.2h.9M147.8 168.5h.9M144.5 161.8h.9M149.1 176.9h.9M153.7 161.1h.9M147.7 162.8h.9M141.3 161.4h.9M153.0 152.0h.9M160.7 176.2h.9M155.7 167.9h.9M137.8 170.6h.9M155.1 160.0h.9M153.6 173.9h.9M151.5 173.8h.9M150.6 172.8h.9M153.3 170.4h.9M150.8 170.5h.9M148.6 157.0h.9M140.1 155.5h.9M142.5 150.6h.9M151.1 162.6h.9M153.6 198.5h.9M151.4 161.2h.9M149.7 163.9h.9M149.3 187.7h.9M155.1 179.3h.9M149.3 184.6h.9M151.7 175.3h.9M142.9 159.7h.9M148.8 163.8h.9M145.7 145.2h.9M144.7 164.9h.9M149.4 154.8h.9M147.4 184.9h.9M148.7 145.6h.9M147.2 166.1h.9M153.6 168.1h.9M154.1 169.5h.9M153.2 180.1h.9M154.8 168.1h.9M150.9 207.0h.9M142.6 168.1h.9M150.1 158.7h.9M151.7 164.4h.9M151.5 168.0h.9M143.9 177.0h.9M156.9 175.7h.9M149.3 148.1h.9M149.5 165.7h.9M144.5 146.1h.9M150.0 176.2h.9M151.2 189.8h.9M139.7 169.7h.9M147.9 180.9h.9M147.9 155.9h.9M147.8 170.6h.9M144.8 157.8h.9M149.2 175.2h.9M147.0 171.2h.9M145.8 162.5h.9M148.9 176.2h.9M155.1 164.8h.9M150.0 186.6h.9M151.7 162.3h.9M149.9 151.2h.9M138.8 158.1h.9M144.9 152.0h.9M152.6 161.3h.9M148.4 166.8h.9M147.2 153.8h.9M156.6 145.3h.9M147.9 173.3h.9M147.2 165.0h.9M149.4 168.6h.9M146.6 177.3h.9M150.3 181.8h.9M148.5 145.2h.9M140.8 160.7h.9M150.1 149.0h.9M145.6 179.1h.9M149.5 158.6h.9M147.6 167.3h.9M146.2 162.8h.9M145.3 168.4h.9M155.0 181.3h.9M142.6 190.3h.9M147.5 151.4h.9M141.5 167.6h.9M149.1 159.4h.9M144.5 163.8h.9M149.2 173.1h.9M150.5 141.2h.9M145.5 168.8h.9M149.7 174.4h.9M141.5 182.5h.9M142.8 164.0h.9M146.0 161.1h.9M144.7 174.6h.9M151.5 169.8h.9M142.5 159.5h.9M147.8 170.2h.9M145.6 163.3h.9M159.6 166.7h.9M146.8 140.3h.9M144.8 183.1h.9M151.8 153.6h.9M151.5 167.9h.9M144.6 174.4h.9M145.4 162.9h.9M148.2 168.3h.9M146.2 169.2h.9M148.1 168.1h.9M149.8 159.4h.9M142.1 165.3h.9M153.5 169.5h.9M149.1 158.3h.9M143.1 153.1h.9M144.1 162.2h.9M141.3 164.8h.9M141.2 172.9h.9M148.0 147.6h.9M145.7 168.5h.9M149.7 174.2h.9M146.5 164.5h.9M147.1 171.8h.9M145.1 164.4h.9M148.7 162.4h.9M143.4 180.3h.9M150.3 156.5h.9M156.7 158.1h.9M144.3 162.2h.9M150.4 181.7h.9M154.1 171.9h.9M148.4 173.0h.9M144.7 158.7h.9M150.4 168.2h.9M149.1 155.4h.9M149.2 151.0h.9M152.1 166.2h.9M145.3 161.2h.9M160.2 198.9h.9M145.0 180.4h.9M135.4 177.9h.9M148.2 168.8h.9M143.9 152.4h.9M149.1 161.4h.9M150.3 177.2h.9M147.6 171.7h.9M148.8 168.5h.9M145.8 168.6h.9M150.0 166.9h.9M146.1 150.8h.9M143.4 182.5h.9M152.5 169.2h.9M149.4 164.5h.9M151.0 176.1h.9M147.0 169.3h.9M152.2 149.5h.9M144.0 160.1h.9M143.0 161.5h.9M144.4 161.9h.9M150.2 153.8h.9M148.5 180.5h.9M148.9 153.3h.9M145.5 178.3h.9M146.9 159.5h.9M151.5 158.6h.9M143.2 172.5h.9M148.2 159.3h.9M150.1 177.6h.9" stroke="#4868d0" stroke-width="1.00" stroke-opacity="0.6" fill="none"/>
<g filter="url(#b1)">
<ellipse cx="148" cy="168" rx="6" ry="16" fill="#4a70d8" fill-opacity=".7"/>
<ellipse cx="147.5" cy="168" rx="4.5" ry="12" fill="#30b8d8"/>
<ellipse cx="147.5" cy="168" rx="3" ry="8" fill="#50d050"/>
<ellipse cx="147.3" cy="168" rx="1.5" ry="3" fill="#d8a030"/>
</g>
</g>
<rect x="144" y="130" width="17.7" height="18.6" fill="none" stroke="#c8283c" stroke-width=".8"/>
<rect x="161.7" y="130" width="27.6" height="18.6" fill="none" stroke="#c8283c" stroke-width=".8"/>
<text x="152.5" y="135.6" font-size="3.0" text-anchor="middle" font-weight="normal" fill="#444" >KL</text>
<text x="175.5" y="135.6" font-size="3.0" text-anchor="middle" font-weight="normal" fill="#444" >KSL</text>
<path d="M138.7 187.5v1.2M141.3 187.5v1.2M143.8 187.5v1.2M146.4 187.5v1.2M149.0 187.5v1.2M151.5 187.5v1.2M154.1 187.5v1.2M156.7 187.5v1.2M159.2 187.5v1.2M161.8 187.5v1.2M164.4 187.5v1.2M166.9 187.5v1.2M169.5 187.5v1.2M172.1 187.5v1.2M174.6 187.5v1.2M177.2 187.5v1.2M179.8 187.5v1.2M182.3 187.5v1.2M184.9 187.5v1.2M187.5 187.5v1.2M190.0 187.5v1.2M192.6 187.5v1.2M195.2 187.5v1.2M197.7 187.5v1.2M200.3 187.5v1.2M138.0 125.7h-1.2M138.0 128.2h-1.2M138.0 130.8h-1.2M138.0 133.3h-1.2M138.0 135.9h-1.2M138.0 138.4h-1.2M138.0 141.0h-1.2M138.0 143.5h-1.2M138.0 146.1h-1.2M138.0 148.6h-1.2M138.0 151.2h-1.2M138.0 153.7h-1.2M138.0 156.2h-1.2M138.0 158.8h-1.2M138.0 161.3h-1.2M138.0 163.9h-1.2M138.0 166.4h-1.2M138.0 169.0h-1.2M138.0 171.5h-1.2M138.0 174.1h-1.2M138.0 176.6h-1.2M138.0 179.2h-1.2M138.0 181.7h-1.2M138.0 184.3h-1.2M138.0 186.8h-1.2" stroke="#333" stroke-width=".7" fill="none"/>
<rect x="138.7" y="125.7" width="61.6" height="61.1" fill="none" stroke="#222" stroke-width="1.4"/>
<text x="135.8" y="132.2" font-size="4.6" text-anchor="end" font-weight="bold" fill="#555" >10<tspan font-size="2.6" dy="-1.6">5</tspan></text>
<text x="135.8" y="147.1" font-size="4.6" text-anchor="end" font-weight="bold" fill="#555" >10<tspan font-size="2.6" dy="-1.6">4</tspan></text>
<text x="135.8" y="162.3" font-size="4.6" text-anchor="end" font-weight="bold" fill="#555" >10<tspan font-size="2.6" dy="-1.6">3</tspan></text>
<text x="135.8" y="178.4" font-size="4.6" text-anchor="end" font-weight="bold" fill="#555" >0</text>
<text x="146.3" y="194.5" font-size="4.3" text-anchor="middle" font-weight="bold" fill="#555" >0</text>
<text x="165.7" y="194.5" font-size="4.3" text-anchor="middle" font-weight="bold" fill="#555" >10<tspan font-size="2.6" dy="-1.6">3</tspan></text>
<text x="180.8" y="194.5" font-size="4.3" text-anchor="middle" font-weight="bold" fill="#555" >10<tspan font-size="2.6" dy="-1.6">4</tspan></text>
<text x="195.3" y="194.5" font-size="4.3" text-anchor="middle" font-weight="bold" fill="#555" >10<tspan font-size="2.6" dy="-1.6">5</tspan></text>
<text x="169.8" y="113.8" font-size="6.2" text-anchor="middle" font-weight="normal" fill="#1a1a1a" stroke="#1a1a1a" stroke-width=".2">KL and KSL subset</text>
<text x="169.8" y="121.3" font-size="6.2" text-anchor="middle" font-weight="normal" fill="#1a1a1a" stroke="#1a1a1a" stroke-width=".2">Gating</text>
<text x="169.5" y="202.3" font-size="6.2" text-anchor="middle" font-weight="bold" fill="#222" stroke="#222" stroke-width=".15" textLength="21.7" lengthAdjust="spacingAndGlyphs">Sca-1 APC</text>
<text x="0" y="0" font-size="6.0" text-anchor="middle" font-weight="bold" fill="#222" stroke="#222" stroke-width=".15" textLength="19.4" lengthAdjust="spacingAndGlyphs" transform="translate(124.9,156.4) rotate(-90)">c-Kit FITC</text>
<path d="M270.7 150.9h.9M268.3 153.6h.9M264.5 169.3h.9M272.0 156.6h.9M266.1 146.1h.9M265.7 162.7h.9M266.7 182.7h.9M263.7 146.6h.9M265.6 162.9h.9M267.8 177.1h.9M265.1 174.8h.9M269.2 179.0h.9M265.4 149.8h.9M266.5 160.3h.9M269.6 171.5h.9M272.0 151.2h.9M263.5 178.2h.9M265.6 160.3h.9M265.9 161.9h.9M270.3 183.0h.9M271.2 184.0h.9M263.8 150.0h.9M270.2 155.9h.9M267.2 168.8h.9M266.6 183.0h.9M269.0 153.0h.9M270.2 177.3h.9M269.3 176.6h.9M265.6 151.3h.9M268.7 176.3h.9M268.1 171.4h.9M266.2 179.9h.9M266.8 174.3h.9M269.4 169.7h.9M267.8 158.3h.9M268.1 172.8h.9M269.1 175.3h.9M270.6 159.2h.9M270.6 172.0h.9M270.7 169.1h.9M270.0 165.4h.9M266.7 163.2h.9M269.4 155.2h.9M266.2 160.0h.9M269.8 153.1h.9M264.3 177.0h.9M270.3 176.0h.9M267.8 172.3h.9M266.6 146.0h.9M266.8 179.0h.9M265.7 178.5h.9M272.1 178.6h.9M267.6 177.2h.9M264.0 181.8h.9M272.5 158.2h.9M265.5 181.0h.9M269.3 178.9h.9M268.9 166.8h.9M270.1 148.5h.9M267.4 151.7h.9M271.4 162.3h.9M265.0 170.8h.9M273.7 156.8h.9M269.3 153.6h.9M265.2 164.5h.9M268.2 173.3h.9M269.8 158.4h.9M272.1 161.2h.9M271.3 173.7h.9M265.5 176.2h.9" stroke="#8a9ad8" stroke-width="0.80" stroke-opacity="0.5" fill="none"/>
<rect x="265.3" y="144.4" width="17.7" height="39.9" fill="none" stroke="#c8283c" stroke-width=".8"/>
<path d="M265.3 162.6H283M265.3 169H283" stroke="#c8283c" stroke-width=".8"/>
<text x="272.5" y="151.5" font-size="3.2" text-anchor="middle" font-weight="normal" fill="#444" >MPP</text>
<text x="279.5" y="167.0" font-size="3.2" text-anchor="middle" font-weight="normal" fill="#444" >LMPP</text>
<text x="272.5" y="178.8" font-size="3.2" text-anchor="middle" font-weight="normal" fill="#444" >HSC</text>
<path d="M229.7 187.0v1.2M232.3 187.0v1.2M234.9 187.0v1.2M237.5 187.0v1.2M240.1 187.0v1.2M242.7 187.0v1.2M245.3 187.0v1.2M248.0 187.0v1.2M250.6 187.0v1.2M253.2 187.0v1.2M255.8 187.0v1.2M258.4 187.0v1.2M261.0 187.0v1.2M263.6 187.0v1.2M266.2 187.0v1.2M268.8 187.0v1.2M271.4 187.0v1.2M274.0 187.0v1.2M276.6 187.0v1.2M279.3 187.0v1.2M281.9 187.0v1.2M284.5 187.0v1.2M287.1 187.0v1.2M289.7 187.0v1.2M292.3 187.0v1.2M229.0 125.7h-1.2M229.0 128.2h-1.2M229.0 130.8h-1.2M229.0 133.3h-1.2M229.0 135.8h-1.2M229.0 138.3h-1.2M229.0 140.8h-1.2M229.0 143.4h-1.2M229.0 145.9h-1.2M229.0 148.4h-1.2M229.0 150.9h-1.2M229.0 153.5h-1.2M229.0 156.0h-1.2M229.0 158.5h-1.2M229.0 161.1h-1.2M229.0 163.6h-1.2M229.0 166.1h-1.2M229.0 168.6h-1.2M229.0 171.2h-1.2M229.0 173.7h-1.2M229.0 176.2h-1.2M229.0 178.7h-1.2M229.0 181.2h-1.2M229.0 183.8h-1.2M229.0 186.3h-1.2" stroke="#333" stroke-width=".7" fill="none"/>
<rect x="229.7" y="125.7" width="62.6" height="60.6" fill="none" stroke="#222" stroke-width="1.4"/>
<text x="226.8" y="131.9" font-size="4.6" text-anchor="end" font-weight="bold" fill="#555" >10<tspan font-size="2.6" dy="-1.6">5</tspan></text>
<text x="226.8" y="146.7" font-size="4.6" text-anchor="end" font-weight="bold" fill="#555" >10<tspan font-size="2.6" dy="-1.6">4</tspan></text>
<text x="226.8" y="160.5" font-size="4.6" text-anchor="end" font-weight="bold" fill="#555" >10<tspan font-size="2.6" dy="-1.6">3</tspan></text>
<text x="226.8" y="181.0" font-size="4.6" text-anchor="end" font-weight="bold" fill="#555" >0</text>
<text x="240.4" y="194.0" font-size="4.3" text-anchor="middle" font-weight="bold" fill="#555" >0</text>
<text x="254.4" y="194.0" font-size="4.3" text-anchor="middle" font-weight="bold" fill="#555" >10<tspan font-size="2.6" dy="-1.6">3</tspan></text>
<text x="270.9" y="194.0" font-size="4.3" text-anchor="middle" font-weight="bold" fill="#555" >10<tspan font-size="2.6" dy="-1.6">4</tspan></text>
<text x="286.8" y="194.0" font-size="4.3" text-anchor="middle" font-weight="bold" fill="#555" >10<tspan font-size="2.6" dy="-1.6">5</tspan></text>
<text x="258.0" y="122.0" font-size="6.4" text-anchor="middle" font-weight="normal" fill="#1a1a1a" stroke="#1a1a1a" stroke-width=".2">KSL Gated</text>
<text x="261.5" y="202.3" font-size="6.2" text-anchor="middle" font-weight="bold" fill="#222" stroke="#222" stroke-width=".15" textLength="20.4" lengthAdjust="spacingAndGlyphs">c-Kit FITC</text>
<text x="0" y="0" font-size="6.0" text-anchor="middle" font-weight="bold" fill="#222" stroke="#222" stroke-width=".15" textLength="19.4" lengthAdjust="spacingAndGlyphs" transform="translate(216.5,156.4) rotate(-90)">CD135 PE</text>
<path d="M347.2 169.3h.9M344.1 162.3h.9M351.5 178.8h.9M342.9 168.8h.9M347.9 143.1h.9M346.8 170.8h.9M349.5 171.8h.9M348.8 171.4h.9M346.9 155.8h.9M349.1 148.4h.9M352.9 162.7h.9M346.9 156.8h.9M347.0 166.3h.9M348.6 173.4h.9M346.5 164.4h.9M345.5 160.7h.9M353.2 164.0h.9M351.9 164.5h.9M346.6 156.7h.9M346.5 168.4h.9M350.2 193.2h.9M354.0 173.2h.9M346.9 166.2h.9M347.1 187.6h.9M347.6 176.3h.9M345.9 172.4h.9M346.3 160.6h.9M350.0 166.4h.9M349.4 164.5h.9M347.2 164.0h.9M349.4 156.1h.9M351.1 166.8h.9M347.5 177.6h.9M348.0 146.9h.9M352.9 161.5h.9M353.5 169.3h.9M347.2 175.8h.9M350.8 174.0h.9M349.7 180.1h.9M352.0 161.9h.9M345.5 164.7h.9M349.7 155.6h.9M349.0 179.5h.9M348.3 175.9h.9M347.0 155.8h.9M352.1 163.4h.9M350.1 175.0h.9M353.9 153.2h.9M351.1 167.3h.9M349.9 182.3h.9M348.9 159.4h.9M350.9 145.6h.9M350.5 156.5h.9M350.4 158.0h.9M350.9 162.7h.9M347.6 170.3h.9M351.5 149.7h.9M346.1 162.6h.9M348.5 177.8h.9M353.8 169.7h.9M352.5 162.0h.9M345.9 168.0h.9M344.8 180.8h.9M350.2 176.3h.9M347.8 149.6h.9M349.0 169.8h.9M349.0 160.2h.9M349.7 163.2h.9M353.3 152.5h.9M343.6 164.2h.9M350.3 150.3h.9M349.4 169.3h.9M350.4 168.0h.9M347.5 151.1h.9M352.1 161.7h.9M345.9 180.0h.9M351.5 138.0h.9M356.5 166.5h.9M345.2 174.3h.9M350.4 177.1h.9M349.6 149.0h.9M349.1 160.9h.9M350.3 163.3h.9M351.0 153.3h.9M348.1 160.1h.9M350.6 148.6h.9M349.5 188.0h.9M344.7 175.0h.9M349.8 174.6h.9M349.7 167.6h.9M350.5 169.5h.9M346.3 163.8h.9M354.4 178.7h.9M347.3 155.9h.9M349.1 175.3h.9M352.0 159.4h.9M343.2 164.6h.9M345.1 176.6h.9M353.5 171.5h.9M351.1 170.5h.9M354.5 175.6h.9M353.4 154.0h.9M348.1 165.0h.9M343.6 162.3h.9M349.5 164.4h.9M356.3 163.1h.9M349.0 163.9h.9M348.6 151.4h.9M352.5 165.3h.9M350.5 165.4h.9M347.4 149.7h.9M348.8 170.2h.9M349.2 172.1h.9M347.4 162.2h.9M349.9 164.1h.9M350.0 178.9h.9M348.4 166.3h.9M347.8 170.3h.9M350.1 157.9h.9M346.8 153.5h.9M348.8 166.5h.9M348.2 164.0h.9M349.9 187.7h.9M352.7 187.4h.9M349.9 167.1h.9M354.8 168.7h.9M351.3 160.2h.9M348.1 172.5h.9M347.9 158.7h.9M345.5 167.9h.9M349.3 170.3h.9M347.2 153.1h.9M352.5 165.3h.9M351.6 154.0h.9M346.0 140.6h.9M350.3 174.6h.9M353.1 182.1h.9M344.6 154.5h.9M348.1 157.4h.9M348.9 157.3h.9M345.6 164.6h.9M349.8 157.6h.9M349.6 152.5h.9M348.6 161.8h.9M348.3 164.3h.9M346.1 152.1h.9M347.3 172.1h.9M347.0 156.0h.9M354.8 162.5h.9M348.5 156.5h.9M353.5 170.1h.9M350.2 180.4h.9M346.3 148.8h.9M352.5 169.2h.9M348.1 172.7h.9M349.3 183.9h.9M346.1 168.5h.9M352.1 173.6h.9M348.5 161.2h.9M348.3 171.7h.9M348.4 163.7h.9M352.3 163.9h.9M350.2 163.8h.9M349.5 143.6h.9M347.0 168.6h.9M347.8 159.1h.9M349.6 187.1h.9M347.5 155.8h.9M344.7 169.5h.9M349.4 156.9h.9M348.4 174.5h.9M352.2 168.6h.9M352.6 174.8h.9M348.3 172.7h.9M349.9 172.4h.9M350.3 185.7h.9M346.1 168.5h.9M346.6 187.5h.9M348.1 161.5h.9M349.4 164.6h.9M354.1 164.5h.9M350.2 175.3h.9M353.6 155.7h.9M350.3 152.2h.9M350.8 178.7h.9M348.1 162.3h.9M352.7 169.3h.9M351.7 160.6h.9M348.6 161.4h.9M353.7 150.5h.9M348.1 180.1h.9M349.3 154.4h.9M350.1 162.9h.9M349.2 169.8h.9M351.6 150.5h.9M350.0 179.6h.9M345.9 164.1h.9M346.4 171.5h.9M347.2 161.8h.9M348.4 169.4h.9M346.0 151.4h.9M350.0 178.2h.9M348.1 169.0h.9M350.2 166.1h.9M349.4 159.6h.9M348.8 176.7h.9M350.7 177.5h.9M347.5 166.2h.9M347.8 152.1h.9M351.9 162.3h.9M350.1 151.2h.9M348.8 163.8h.9M348.4 174.9h.9M350.7 166.3h.9M350.1 160.7h.9M347.6 162.3h.9M346.7 163.3h.9M349.2 176.0h.9M348.3 188.7h.9M348.1 166.3h.9" stroke="#9a9ad8" stroke-width="0.90" stroke-opacity="0.55" fill="none"/>
<rect x="329" y="154.8" width="22" height="31.1" fill="none" stroke="#e04a68" stroke-width="1.2"/>
<rect x="351" y="136.3" width="13.6" height="49.6" fill="none" stroke="#e04a68" stroke-width="1.2"/>
<path d="M351 154.8H364.6" stroke="#e04a68" stroke-width="1.2"/>
<text x="338.5" y="171.8" font-size="3.2" text-anchor="middle" font-weight="normal" fill="#444" >MEP</text>
<text x="358.0" y="144.3" font-size="3.2" text-anchor="middle" font-weight="normal" fill="#444" >GMP</text>
<text x="358.5" y="171.8" font-size="3.2" text-anchor="middle" font-weight="normal" fill="#444" >CMP</text>
<path d="M327.7 187.0v1.2M330.3 187.0v1.2M332.8 187.0v1.2M335.4 187.0v1.2M338.0 187.0v1.2M340.5 187.0v1.2M343.1 187.0v1.2M345.7 187.0v1.2M348.2 187.0v1.2M350.8 187.0v1.2M353.4 187.0v1.2M355.9 187.0v1.2M358.5 187.0v1.2M361.1 187.0v1.2M363.6 187.0v1.2M366.2 187.0v1.2M368.8 187.0v1.2M371.3 187.0v1.2M373.9 187.0v1.2M376.5 187.0v1.2M379.0 187.0v1.2M381.6 187.0v1.2M384.2 187.0v1.2M386.7 187.0v1.2M389.3 187.0v1.2M327.0 125.7h-1.2M327.0 128.2h-1.2M327.0 130.8h-1.2M327.0 133.3h-1.2M327.0 135.8h-1.2M327.0 138.3h-1.2M327.0 140.8h-1.2M327.0 143.4h-1.2M327.0 145.9h-1.2M327.0 148.4h-1.2M327.0 150.9h-1.2M327.0 153.5h-1.2M327.0 156.0h-1.2M327.0 158.5h-1.2M327.0 161.1h-1.2M327.0 163.6h-1.2M327.0 166.1h-1.2M327.0 168.6h-1.2M327.0 171.2h-1.2M327.0 173.7h-1.2M327.0 176.2h-1.2M327.0 178.7h-1.2M327.0 181.2h-1.2M327.0 183.8h-1.2M327.0 186.3h-1.2" stroke="#333" stroke-width=".7" fill="none"/>
<rect x="327.7" y="125.7" width="61.6" height="60.6" fill="none" stroke="#222" stroke-width="1.4"/>
<text x="324.8" y="131.5" font-size="4.6" text-anchor="end" font-weight="bold" fill="#555" >10<tspan font-size="2.6" dy="-1.6">5</tspan></text>
<text x="324.8" y="146.2" font-size="4.6" text-anchor="end" font-weight="bold" fill="#555" >10<tspan font-size="2.6" dy="-1.6">4</tspan></text>
<text x="324.8" y="161.0" font-size="4.6" text-anchor="end" font-weight="bold" fill="#555" >10<tspan font-size="2.6" dy="-1.6">3</tspan></text>
<text x="324.8" y="179.9" font-size="4.6" text-anchor="end" font-weight="bold" fill="#555" >0</text>
<text x="334.7" y="194.0" font-size="4.3" text-anchor="middle" font-weight="bold" fill="#555" >0</text>
<text x="350.4" y="194.0" font-size="4.3" text-anchor="middle" font-weight="bold" fill="#555" >10<tspan font-size="2.6" dy="-1.6">3</tspan></text>
<text x="368.6" y="194.0" font-size="4.3" text-anchor="middle" font-weight="bold" fill="#555" >10<tspan font-size="2.6" dy="-1.6">4</tspan></text>
<text x="384.3" y="194.0" font-size="4.3" text-anchor="middle" font-weight="bold" fill="#555" >10<tspan font-size="2.6" dy="-1.6">5</tspan></text>
<text x="358.5" y="121.9" font-size="6.4" text-anchor="middle" font-weight="normal" fill="#1a1a1a" stroke="#1a1a1a" stroke-width=".2">KL Gated</text>
<text x="355.3" y="202.3" font-size="6.2" text-anchor="middle" font-weight="bold" fill="#222" stroke="#222" stroke-width=".15" textLength="36.0" lengthAdjust="spacingAndGlyphs">CD34 eFluor 450</text>
<text x="0" y="0" font-size="6.0" text-anchor="middle" font-weight="bold" fill="#222" stroke="#222" stroke-width=".15" textLength="24.1" lengthAdjust="spacingAndGlyphs" transform="translate(312.6,156.9) rotate(-90)">CD16/32 PE</text>
<text x="450.8" y="113.3" font-size="6.5" text-anchor="middle" font-weight="normal" fill="#1a1a1a" stroke="#1a1a1a" stroke-width=".2">Differentiation of mouse</text>
<text x="450.8" y="121.0" font-size="6.5" text-anchor="middle" font-weight="normal" fill="#1a1a1a" stroke="#1a1a1a" stroke-width=".2">hematopoietic stem cells</text>
<ellipse cx="442.6" cy="147.4" rx="12.0" ry="17.2" fill="none" stroke="#111" stroke-width="1.1"/>
<ellipse cx="452.9" cy="176.1" rx="17.4" ry="12.6" fill="none" stroke="#111" stroke-width="1.1"/>
<text x="442.7" y="129.0" font-size="3.6" text-anchor="middle" font-weight="normal" fill="#222" >KSL</text>
<text x="467.2" y="165.1" font-size="3.6" text-anchor="middle" font-weight="normal" fill="#222" >KL</text>
<text x="443.1" y="138.3" font-size="4.4" text-anchor="middle" font-weight="normal" fill="#111" stroke="#111" stroke-width=".12">HSC</text>
<text x="442.7" y="149.5" font-size="4.4" text-anchor="middle" font-weight="normal" fill="#111" stroke="#111" stroke-width=".12">MPP</text>
<text x="442.9" y="161.8" font-size="4.4" text-anchor="middle" font-weight="normal" fill="#111" stroke="#111" stroke-width=".12">LMPP</text>
<text x="453.5" y="171.7" font-size="4.4" text-anchor="middle" font-weight="normal" fill="#111" stroke="#111" stroke-width=".12">CMP</text>
<text x="446.2" y="181.4" font-size="4.4" text-anchor="middle" font-weight="normal" fill="#111" stroke="#111" stroke-width=".12">MEP</text>
<text x="460.2" y="181.4" font-size="4.4" text-anchor="middle" font-weight="normal" fill="#111" stroke="#111" stroke-width=".12">GMP</text>
<path d="M443 140.2L443 145.2" stroke="#111" stroke-width=".8"/>
<path d="M443.00 145.20L441.80 143.20L444.20 143.20z" fill="#111"/>
<path d="M443 151.5L443 156.8" stroke="#111" stroke-width=".8"/>
<path d="M443.00 156.80L441.80 154.80L444.20 154.80z" fill="#111"/>
<path d="M448.6 163L450.6 166.6" stroke="#111" stroke-width=".8"/>
<path d="M450.60 166.60L448.58 165.43L450.68 164.27z" fill="#111"/>
<path d="M450.6 173.2L447 177.3" stroke="#111" stroke-width=".8"/>
<path d="M447.00 177.30L447.42 175.01L449.22 176.59z" fill="#111"/>
<path d="M456.6 173.2L460 177.3" stroke="#111" stroke-width=".8"/>
<path d="M460.00 177.30L457.80 176.53L459.65 174.99z" fill="#111"/>
<path d="M46.0 219.8V286.7" fill="none" stroke="#111" stroke-width="1.4"/>
<path d="M45.3 286.7H120.9" fill="none" stroke="#222" stroke-width="1.7"/>
<path d="M43.1 222.4H46.0M43.1 238.5H46.0M43.1 254.6H46.0M43.1 270.6H46.0M43.1 286.7H46.0" stroke="#111" stroke-width="1"/>
<text x="39.7" y="224.9" font-size="8" text-anchor="end" font-weight="normal" fill="#333" >6</text>
<text x="39.7" y="289.3" font-size="8" text-anchor="end" font-weight="normal" fill="#333" >0</text>
<text x="0" y="0" font-size="8.3" text-anchor="middle" font-weight="bold" fill="#444" textLength="20" lengthAdjust="spacingAndGlyphs" transform="translate(30.2,254.9) rotate(-90)">% KSL</text>
<path d="M55.2 237.3V231.6M51.800000000000004 231.6H58.6" stroke="#222" stroke-width="1.1"/>
<path d="M55.2 251.9V254.2M51.800000000000004 254.2H58.6" stroke="#222" stroke-width="1.1"/>
<rect x="51.8" y="237.3" width="6.8" height="14.6" fill="#ba0c36" stroke="#7a0822" stroke-width="1"/>
<path d="M51.8 247.3H58.6" stroke="#7a0822" stroke-width="1.3"/>
<rect x="71.3" y="250.7" width="6.8" height="18.5" fill="#ba0c36" stroke="#7a0822" stroke-width="1"/>
<path d="M94.3 230.7V225.0M90.89999999999999 225.0H97.69999999999999" stroke="#222" stroke-width="1.1"/>
<path d="M94.3 261.9V269.6M90.89999999999999 269.6H97.69999999999999" stroke="#222" stroke-width="1.1"/>
<rect x="90.9" y="230.7" width="6.8" height="31.2" fill="#2d5292" stroke="#1a3062" stroke-width="1"/>
<path d="M90.9 251.2H97.7" stroke="#1a3062" stroke-width="1.3"/>
<path d="M114.2 252.2V249.2M110.8 249.2H117.6" stroke="#222" stroke-width="1.1"/>
<rect x="110.8" y="252.2" width="6.8" height="9.7" fill="#2d5292" stroke="#1a3062" stroke-width="1"/>
<path d="M110.8 260.4H117.6" stroke="#1a3062" stroke-width="1.3"/>
<text x="44.8" y="299.7" font-size="7.9" text-anchor="end" font-weight="normal" fill="#222" >Genotype</text>
<text x="44.8" y="309.8" font-size="7.9" text-anchor="end" font-weight="normal" fill="#222" >Hypoxia</text>
<text x="55.2" y="299.7" font-size="7.9" text-anchor="middle" font-weight="normal" fill="#222" >WT</text>
<text x="55.2" y="310.0" font-size="8.2" text-anchor="middle" font-weight="normal" fill="#333" >-</text>
<text x="74.7" y="299.7" font-size="7.9" text-anchor="middle" font-weight="normal" fill="#222" >WT</text>
<text x="74.7" y="310.0" font-size="8.2" text-anchor="middle" font-weight="normal" fill="#333" >+</text>
<text x="94.3" y="299.7" font-size="7.9" text-anchor="middle" font-weight="normal" fill="#222" >KO</text>
<text x="94.3" y="310.0" font-size="8.2" text-anchor="middle" font-weight="normal" fill="#333" >-</text>
<text x="114.2" y="299.7" font-size="7.9" text-anchor="middle" font-weight="normal" fill="#222" >KO</text>
<text x="114.2" y="310.0" font-size="8.2" text-anchor="middle" font-weight="normal" fill="#333" >+</text>
<path d="M178.1 219.8V286.7" fill="none" stroke="#111" stroke-width="1.4"/>
<path d="M177.4 286.7H253.0" fill="none" stroke="#222" stroke-width="1.7"/>
<path d="M175.2 222.4H178.1M175.2 238.5H178.1M175.2 254.6H178.1M175.2 270.6H178.1M175.2 286.7H178.1" stroke="#111" stroke-width="1"/>
<text x="171.8" y="224.9" font-size="8" text-anchor="end" font-weight="normal" fill="#333" >60</text>
<text x="171.8" y="289.3" font-size="8" text-anchor="end" font-weight="normal" fill="#333" >0</text>
<text x="0" y="0" font-size="8.3" text-anchor="middle" font-weight="bold" fill="#444" textLength="22" lengthAdjust="spacingAndGlyphs" transform="translate(157.2,254.9) rotate(-90)">% HSC</text>
<text x="181.5" y="223.4" font-size="7.6" text-anchor="start" font-weight="normal" fill="#111" textLength="52.3" lengthAdjust="spacingAndGlyphs">ANOVA p=0.03</text>
<path d="M188.5 255.8V253.5M185.1 253.5H191.9" stroke="#222" stroke-width="1.1"/>
<rect x="185.1" y="255.8" width="6.8" height="7.4" fill="#ba0c36" stroke="#7a0822" stroke-width="1"/>
<path d="M185.1 261.5H191.9" stroke="#7a0822" stroke-width="1.3"/>
<path d="M208.2 241.2V237.0M204.79999999999998 237.0H211.6" stroke="#222" stroke-width="1.1"/>
<rect x="204.8" y="241.2" width="6.8" height="22.0" fill="#ba0c36" stroke="#7a0822" stroke-width="1"/>
<path d="M204.8 258.5H211.6" stroke="#7a0822" stroke-width="1.3"/>
<path d="M228.0 235.8V233.5M224.6 233.5H231.4" stroke="#222" stroke-width="1.1"/>
<path d="M228.0 254.2V256.1M224.6 256.1H231.4" stroke="#222" stroke-width="1.1"/>
<rect x="224.6" y="235.8" width="6.8" height="18.4" fill="#2d5292" stroke="#1a3062" stroke-width="1"/>
<path d="M224.6 241.6H231.4" stroke="#1a3062" stroke-width="1.3"/>
<path d="M247.7 251.2V253.0M244.29999999999998 253.0H251.1" stroke="#222" stroke-width="1.1"/>
<rect x="244.3" y="238.1" width="6.8" height="13.1" fill="#2d5292" stroke="#1a3062" stroke-width="1"/>
<path d="M244.3 240.7H251.1" stroke="#1a3062" stroke-width="1.3"/>
<text x="176.9" y="299.7" font-size="7.9" text-anchor="end" font-weight="normal" fill="#222" >Genotype</text>
<text x="176.9" y="309.8" font-size="7.9" text-anchor="end" font-weight="normal" fill="#222" >Hypoxia</text>
<text x="188.5" y="299.7" font-size="7.9" text-anchor="middle" font-weight="normal" fill="#222" >WT</text>
<text x="188.5" y="310.0" font-size="8.2" text-anchor="middle" font-weight="normal" fill="#333" >-</text>
<text x="208.2" y="299.7" font-size="7.9" text-anchor="middle" font-weight="normal" fill="#222" >WT</text>
<text x="208.2" y="310.0" font-size="8.2" text-anchor="middle" font-weight="normal" fill="#333" >+</text>
<text x="228.0" y="299.7" font-size="7.9" text-anchor="middle" font-weight="normal" fill="#222" >KO</text>
<text x="228.0" y="310.0" font-size="8.2" text-anchor="middle" font-weight="normal" fill="#333" >-</text>
<text x="247.7" y="299.7" font-size="7.9" text-anchor="middle" font-weight="normal" fill="#222" >KO</text>
<text x="247.7" y="310.0" font-size="8.2" text-anchor="middle" font-weight="normal" fill="#333" >+</text>
<path d="M305.3 219.8V286.7" fill="none" stroke="#111" stroke-width="1.4"/>
<path d="M304.6 286.7H380.20000000000005" fill="none" stroke="#222" stroke-width="1.7"/>
<path d="M302.40000000000003 222.4H305.3M302.40000000000003 238.5H305.3M302.40000000000003 254.6H305.3M302.40000000000003 270.6H305.3M302.40000000000003 286.7H305.3" stroke="#111" stroke-width="1"/>
<text x="299.0" y="224.9" font-size="8" text-anchor="end" font-weight="normal" fill="#333" >40</text>
<text x="299.0" y="289.3" font-size="8" text-anchor="end" font-weight="normal" fill="#333" >0</text>
<text x="0" y="0" font-size="8.3" text-anchor="middle" font-weight="bold" fill="#444" textLength="23.6" lengthAdjust="spacingAndGlyphs" transform="translate(284.3,254.9) rotate(-90)">% MPP</text>
<text x="308.6" y="223.4" font-size="7.6" text-anchor="start" font-weight="normal" fill="#111" textLength="56.8" lengthAdjust="spacingAndGlyphs">ANOVA p=0.003</text>
<path d="M315.6 259.3V256.5M312.20000000000005 256.5H319.00000000000006" stroke="#222" stroke-width="1.1"/>
<path d="M315.6 272.7V273.8M312.20000000000005 273.8H319.00000000000006" stroke="#222" stroke-width="1.1"/>
<rect x="312.2" y="259.3" width="6.8" height="13.4" fill="#ba0c36" stroke="#7a0822" stroke-width="1"/>
<text x="315.6" y="253.3" font-size="8" text-anchor="middle" font-weight="bold" fill="#333" >#</text>
<rect x="331.8" y="260.8" width="6.8" height="13.4" fill="#ba0c36" stroke="#7a0822" stroke-width="1"/>
<path d="M331.8 267.0H338.6" stroke="#7a0822" stroke-width="1.3"/>
<text x="335.2" y="256.6" font-size="7" text-anchor="middle" font-weight="normal" fill="#333" >~</text>
<path d="M354.6 245.8V242.4M351.20000000000005 242.4H358.00000000000006" stroke="#222" stroke-width="1.1"/>
<path d="M354.6 258.8V259.6M351.20000000000005 259.6H358.00000000000006" stroke="#222" stroke-width="1.1"/>
<rect x="351.2" y="245.8" width="6.8" height="13.0" fill="#2d5292" stroke="#1a3062" stroke-width="1"/>
<path d="M351.2 252.2H358.0" stroke="#1a3062" stroke-width="1.3"/>
<path d="M374.4 258.8V258.1M371.0 258.1H377.8" stroke="#222" stroke-width="1.1"/>
<rect x="371.0" y="258.8" width="6.8" height="12.4" fill="#2d5292" stroke="#1a3062" stroke-width="1"/>
<text x="304.1" y="299.7" font-size="7.9" text-anchor="end" font-weight="normal" fill="#222" >Genotype</text>
<text x="304.1" y="309.8" font-size="7.9" text-anchor="end" font-weight="normal" fill="#222" >Hypoxia</text>
<text x="315.6" y="299.7" font-size="7.9" text-anchor="middle" font-weight="normal" fill="#222" >WT</text>
<text x="315.6" y="310.0" font-size="8.2" text-anchor="middle" font-weight="normal" fill="#333" >-</text>
<text x="335.2" y="299.7" font-size="7.9" text-anchor="middle" font-weight="normal" fill="#222" >WT</text>
<text x="335.2" y="310.0" font-size="8.2" text-anchor="middle" font-weight="normal" fill="#333" >+</text>
<text x="354.6" y="299.7" font-size="7.9" text-anchor="middle" font-weight="normal" fill="#222" >KO</text>
<text x="354.6" y="310.0" font-size="8.2" text-anchor="middle" font-weight="normal" fill="#333" >-</text>
<text x="374.4" y="299.7" font-size="7.9" text-anchor="middle" font-weight="normal" fill="#222" >KO</text>
<text x="374.4" y="310.0" font-size="8.2" text-anchor="middle" font-weight="normal" fill="#333" >+</text>
<path d="M437.6 219.8V286.7" fill="none" stroke="#111" stroke-width="1.4"/>
<path d="M436.90000000000003 286.7H512.5" fill="none" stroke="#222" stroke-width="1.7"/>
<path d="M434.70000000000005 222.4H437.6M434.70000000000005 238.5H437.6M434.70000000000005 254.6H437.6M434.70000000000005 270.6H437.6M434.70000000000005 286.7H437.6" stroke="#111" stroke-width="1"/>
<text x="431.3" y="224.9" font-size="8" text-anchor="end" font-weight="normal" fill="#333" >80</text>
<text x="431.3" y="289.3" font-size="8" text-anchor="end" font-weight="normal" fill="#333" >0</text>
<text x="0" y="0" font-size="8.3" text-anchor="middle" font-weight="bold" fill="#444" textLength="27.6" lengthAdjust="spacingAndGlyphs" transform="translate(416.2,254.9) rotate(-90)">% LMPP</text>
<text x="441.0" y="223.4" font-size="7.6" text-anchor="start" font-weight="normal" fill="#111" textLength="57.5" lengthAdjust="spacingAndGlyphs">ANOVA p=0.007</text>
<rect x="444.6" y="244.2" width="6.8" height="8.6" fill="#ba0c36" stroke="#7a0822" stroke-width="1"/>
<path d="M444.6 246.9H451.4" stroke="#7a0822" stroke-width="1.3"/>
<text x="448.0" y="240.9" font-size="8" text-anchor="middle" font-weight="bold" fill="#333" >#</text>
<path d="M467.7 263.1V264.6M464.3 264.6H471.1" stroke="#222" stroke-width="1.1"/>
<rect x="464.3" y="244.2" width="6.8" height="18.9" fill="#ba0c36" stroke="#7a0822" stroke-width="1"/>
<path d="M464.3 246.2H471.1" stroke="#7a0822" stroke-width="1.3"/>
<rect x="483.9" y="256.9" width="6.8" height="12.8" fill="#2d5292" stroke="#1a3062" stroke-width="1"/>
<path d="M483.9 266.9H490.7" stroke="#1a3062" stroke-width="1.3"/>
<path d="M507.0 263.1V266.2M503.6 266.2H510.40000000000003" stroke="#222" stroke-width="1.1"/>
<rect x="503.6" y="250.3" width="6.8" height="12.8" fill="#2d5292" stroke="#1a3062" stroke-width="1"/>
<path d="M503.6 257.7H510.4" stroke="#1a3062" stroke-width="1.3"/>
<text x="436.4" y="299.7" font-size="7.9" text-anchor="end" font-weight="normal" fill="#222" >Genotype</text>
<text x="436.4" y="309.8" font-size="7.9" text-anchor="end" font-weight="normal" fill="#222" >Hypoxia</text>
<text x="448.0" y="299.7" font-size="7.9" text-anchor="middle" font-weight="normal" fill="#222" >WT</text>
<text x="448.0" y="310.0" font-size="8.2" text-anchor="middle" font-weight="normal" fill="#333" >-</text>
<text x="467.7" y="299.7" font-size="7.9" text-anchor="middle" font-weight="normal" fill="#222" >WT</text>
<text x="467.7" y="310.0" font-size="8.2" text-anchor="middle" font-weight="normal" fill="#333" >+</text>
<text x="487.3" y="299.7" font-size="7.9" text-anchor="middle" font-weight="normal" fill="#222" >KO</text>
<text x="487.3" y="310.0" font-size="8.2" text-anchor="middle" font-weight="normal" fill="#333" >-</text>
<text x="507.0" y="299.7" font-size="7.9" text-anchor="middle" font-weight="normal" fill="#222" >KO</text>
<text x="507.0" y="310.0" font-size="8.2" text-anchor="middle" font-weight="normal" fill="#333" >+</text>
<path d="M45.5 335.4V402.4" fill="none" stroke="#111" stroke-width="1.4"/>
<path d="M44.8 402.4H120.4" fill="none" stroke="#222" stroke-width="1.7"/>
<path d="M42.6 338.0H45.5M42.6 354.1H45.5M42.6 370.2H45.5M42.6 386.3H45.5M42.6 402.4H45.5" stroke="#111" stroke-width="1"/>
<text x="39.2" y="340.5" font-size="8" text-anchor="end" font-weight="normal" fill="#333" >32</text>
<text x="39.2" y="405.0" font-size="8" text-anchor="end" font-weight="normal" fill="#333" >0</text>
<text x="0" y="0" font-size="8.3" text-anchor="middle" font-weight="bold" fill="#444" textLength="16.1" lengthAdjust="spacingAndGlyphs" transform="translate(24.7,370.5) rotate(-90)">% KL</text>
<text x="48.2" y="333.8" font-size="7.6" text-anchor="start" font-weight="normal" fill="#111" textLength="56.6" lengthAdjust="spacingAndGlyphs">ANOVA p=0.001</text>
<path d="M55.2 385.1V378.9M51.800000000000004 378.9H58.6" stroke="#222" stroke-width="1.1"/>
<rect x="51.8" y="385.1" width="6.8" height="11.1" fill="#ba0c36" stroke="#7a0822" stroke-width="1"/>
<path d="M51.8 390.8H58.6" stroke="#7a0822" stroke-width="1.3"/>
<text x="55.2" y="359.1" font-size="8" text-anchor="middle" font-weight="bold" fill="#333" >#</text>
<text x="55.2" y="368.7" font-size="8.5" text-anchor="middle" font-weight="bold" fill="#333" >§</text>
<text x="55.2" y="376.2" font-size="6.5" text-anchor="middle" font-weight="bold" fill="#333" >•</text>
<path d="M75.2 363.1V360.0M71.8 360.0H78.6" stroke="#222" stroke-width="1.1"/>
<rect x="71.8" y="363.1" width="6.8" height="14.9" fill="#ba0c36" stroke="#7a0822" stroke-width="1"/>
<path d="M71.8 367.7H78.6" stroke="#7a0822" stroke-width="1.3"/>
<path d="M94.7 371.8V371.2M91.3 371.2H98.1" stroke="#222" stroke-width="1.1"/>
<path d="M94.7 382.3V386.9M91.3 386.9H98.1" stroke="#222" stroke-width="1.1"/>
<rect x="91.3" y="371.8" width="6.8" height="10.5" fill="#2d5292" stroke="#1a3062" stroke-width="1"/>
<path d="M91.3 376.2H98.1" stroke="#1a3062" stroke-width="1.3"/>
<path d="M114.2 370.0V363.8M110.8 363.8H117.6" stroke="#222" stroke-width="1.1"/>
<rect x="110.8" y="370.0" width="6.8" height="10.8" fill="#2d5292" stroke="#1a3062" stroke-width="1"/>
<path d="M110.8 375.4H117.6" stroke="#1a3062" stroke-width="1.3"/>
<text x="44.3" y="415.4" font-size="7.9" text-anchor="end" font-weight="normal" fill="#222" >Genotype</text>
<text x="44.3" y="425.5" font-size="7.9" text-anchor="end" font-weight="normal" fill="#222" >Hypoxia</text>
<text x="55.2" y="415.4" font-size="7.9" text-anchor="middle" font-weight="normal" fill="#222" >WT</text>
<text x="55.2" y="425.7" font-size="8.2" text-anchor="middle" font-weight="normal" fill="#333" >-</text>
<text x="75.2" y="415.4" font-size="7.9" text-anchor="middle" font-weight="normal" fill="#222" >WT</text>
<text x="75.2" y="425.7" font-size="8.2" text-anchor="middle" font-weight="normal" fill="#333" >+</text>
<text x="94.7" y="415.4" font-size="7.9" text-anchor="middle" font-weight="normal" fill="#222" >KO</text>
<text x="94.7" y="425.7" font-size="8.2" text-anchor="middle" font-weight="normal" fill="#333" >-</text>
<text x="114.2" y="415.4" font-size="7.9" text-anchor="middle" font-weight="normal" fill="#222" >KO</text>
<text x="114.2" y="425.7" font-size="8.2" text-anchor="middle" font-weight="normal" fill="#333" >+</text>
<path d="M178.4 335.4V402.4" fill="none" stroke="#111" stroke-width="1.4"/>
<path d="M177.70000000000002 402.4H253.3" fill="none" stroke="#222" stroke-width="1.7"/>
<path d="M175.5 338.0H178.4M175.5 354.1H178.4M175.5 370.2H178.4M175.5 386.3H178.4M175.5 402.4H178.4" stroke="#111" stroke-width="1"/>
<text x="172.1" y="340.5" font-size="8" text-anchor="end" font-weight="normal" fill="#333" >80</text>
<text x="172.1" y="405.0" font-size="8" text-anchor="end" font-weight="normal" fill="#333" >0</text>
<text x="0" y="0" font-size="8.3" text-anchor="middle" font-weight="bold" fill="#444" textLength="23.6" lengthAdjust="spacingAndGlyphs" transform="translate(157.2,370.5) rotate(-90)">% CMP</text>
<text x="201.1" y="333.8" font-size="7.6" text-anchor="start" font-weight="normal" fill="#111" textLength="61.5" lengthAdjust="spacingAndGlyphs">ANOVA p=0.0001</text>
<path d="M188.5 352.3V351.2M185.1 351.2H191.9" stroke="#222" stroke-width="1.1"/>
<rect x="185.1" y="352.3" width="6.8" height="6.2" fill="#ba0c36" stroke="#7a0822" stroke-width="1"/>
<text x="188.5" y="337.5" font-size="8" text-anchor="middle" font-weight="bold" fill="#333" >#</text>
<text x="188.5" y="345.3" font-size="8.5" text-anchor="middle" font-weight="bold" fill="#333" >§</text>
<text x="188.5" y="351.4" font-size="6.5" text-anchor="middle" font-weight="bold" fill="#333" >•</text>
<rect x="204.8" y="360.8" width="6.8" height="7.4" fill="#ba0c36" stroke="#7a0822" stroke-width="1"/>
<path d="M204.8 363.5H211.6" stroke="#7a0822" stroke-width="1.3"/>
<text x="208.2" y="358.6" font-size="7" text-anchor="middle" font-weight="normal" fill="#333" >~</text>
<path d="M227.7 374.3V378.5M224.29999999999998 378.5H231.1" stroke="#222" stroke-width="1.1"/>
<rect x="224.3" y="366.2" width="6.8" height="8.1" fill="#2d5292" stroke="#1a3062" stroke-width="1"/>
<path d="M224.3 370.0H231.1" stroke="#1a3062" stroke-width="1.3"/>
<rect x="244.3" y="361.1" width="6.8" height="7.1" fill="#2d5292" stroke="#1a3062" stroke-width="1"/>
<path d="M244.3 364.6H251.1" stroke="#1a3062" stroke-width="1.3"/>
<text x="177.2" y="415.4" font-size="7.9" text-anchor="end" font-weight="normal" fill="#222" >Genotype</text>
<text x="177.2" y="425.5" font-size="7.9" text-anchor="end" font-weight="normal" fill="#222" >Hypoxia</text>
<text x="188.5" y="415.4" font-size="7.9" text-anchor="middle" font-weight="normal" fill="#222" >WT</text>
<text x="188.5" y="425.7" font-size="8.2" text-anchor="middle" font-weight="normal" fill="#333" >-</text>
<text x="208.2" y="415.4" font-size="7.9" text-anchor="middle" font-weight="normal" fill="#222" >WT</text>
<text x="208.2" y="425.7" font-size="8.2" text-anchor="middle" font-weight="normal" fill="#333" >+</text>
<text x="227.7" y="415.4" font-size="7.9" text-anchor="middle" font-weight="normal" fill="#222" >KO</text>
<text x="227.7" y="425.7" font-size="8.2" text-anchor="middle" font-weight="normal" fill="#333" >-</text>
<text x="247.7" y="415.4" font-size="7.9" text-anchor="middle" font-weight="normal" fill="#222" >KO</text>
<text x="247.7" y="425.7" font-size="8.2" text-anchor="middle" font-weight="normal" fill="#333" >+</text>
<path d="M305.3 335.4V402.4" fill="none" stroke="#111" stroke-width="1.4"/>
<path d="M304.6 402.4H380.20000000000005" fill="none" stroke="#222" stroke-width="1.7"/>
<path d="M302.40000000000003 338.0H305.3M302.40000000000003 354.1H305.3M302.40000000000003 370.2H305.3M302.40000000000003 386.3H305.3M302.40000000000003 402.4H305.3" stroke="#111" stroke-width="1"/>
<text x="299.0" y="340.5" font-size="8" text-anchor="end" font-weight="normal" fill="#333" >40</text>
<text x="299.0" y="405.0" font-size="8" text-anchor="end" font-weight="normal" fill="#333" >0</text>
<text x="0" y="0" font-size="8.3" text-anchor="middle" font-weight="bold" fill="#444" textLength="23.8" lengthAdjust="spacingAndGlyphs" transform="translate(284.2,370.5) rotate(-90)">% GMP</text>
<text x="343.5" y="334.4" font-size="7.6" text-anchor="start" font-weight="normal" fill="#111" textLength="60.3" lengthAdjust="spacingAndGlyphs">ANOVA p=0.0007</text>
<path d="M316.5 358.8V357.2M313.1 357.2H319.90000000000003" stroke="#222" stroke-width="1.1"/>
<path d="M316.5 370.5V373.1M313.1 373.1H319.90000000000003" stroke="#222" stroke-width="1.1"/>
<rect x="313.1" y="358.8" width="6.8" height="11.7" fill="#ba0c36" stroke="#7a0822" stroke-width="1"/>
<text x="316.5" y="354.7" font-size="6.5" text-anchor="middle" font-weight="bold" fill="#333" >•</text>
<path d="M336.2 341.2V340.0M332.8 340.0H339.6" stroke="#222" stroke-width="1.1"/>
<rect x="332.8" y="341.2" width="6.8" height="10.8" fill="#ba0c36" stroke="#7a0822" stroke-width="1"/>
<text x="336.2" y="335.2" font-size="7.5" text-anchor="middle" font-weight="normal" fill="#333" >¶</text>
<text x="336.2" y="328.3" font-size="7" text-anchor="middle" font-weight="normal" fill="#333" >~</text>
<path d="M356.2 357.7V355.4M352.8 355.4H359.6" stroke="#222" stroke-width="1.1"/>
<path d="M356.2 370.8V374.6M352.8 374.6H359.6" stroke="#222" stroke-width="1.1"/>
<rect x="352.8" y="357.7" width="6.8" height="13.1" fill="#2d5292" stroke="#1a3062" stroke-width="1"/>
<path d="M352.8 366.9H359.6" stroke="#1a3062" stroke-width="1.3"/>
<path d="M375.8 356.5V350.8M372.40000000000003 350.8H379.20000000000005" stroke="#222" stroke-width="1.1"/>
<path d="M375.8 364.9V367.7M372.40000000000003 367.7H379.20000000000005" stroke="#222" stroke-width="1.1"/>
<rect x="372.4" y="356.5" width="6.8" height="8.4" fill="#2d5292" stroke="#1a3062" stroke-width="1"/>
<path d="M372.4 361.2H379.2" stroke="#1a3062" stroke-width="1.3"/>
<text x="304.1" y="415.4" font-size="7.9" text-anchor="end" font-weight="normal" fill="#222" >Genotype</text>
<text x="304.1" y="425.5" font-size="7.9" text-anchor="end" font-weight="normal" fill="#222" >Hypoxia</text>
<text x="316.5" y="415.4" font-size="7.9" text-anchor="middle" font-weight="normal" fill="#222" >WT</text>
<text x="316.5" y="425.7" font-size="8.2" text-anchor="middle" font-weight="normal" fill="#333" >-</text>
<text x="336.2" y="415.4" font-size="7.9" text-anchor="middle" font-weight="normal" fill="#222" >WT</text>
<text x="336.2" y="425.7" font-size="8.2" text-anchor="middle" font-weight="normal" fill="#333" >+</text>
<text x="356.2" y="415.4" font-size="7.9" text-anchor="middle" font-weight="normal" fill="#222" >KO</text>
<text x="356.2" y="425.7" font-size="8.2" text-anchor="middle" font-weight="normal" fill="#333" >-</text>
<text x="375.8" y="415.4" font-size="7.9" text-anchor="middle" font-weight="normal" fill="#222" >KO</text>
<text x="375.8" y="425.7" font-size="8.2" text-anchor="middle" font-weight="normal" fill="#333" >+</text>
<path d="M437.6 335.4V402.4" fill="none" stroke="#111" stroke-width="1.4"/>
<path d="M436.90000000000003 402.4H512.5" fill="none" stroke="#222" stroke-width="1.7"/>
<path d="M434.70000000000005 338.0H437.6M434.70000000000005 354.1H437.6M434.70000000000005 370.2H437.6M434.70000000000005 386.3H437.6M434.70000000000005 402.4H437.6" stroke="#111" stroke-width="1"/>
<text x="431.3" y="340.5" font-size="8" text-anchor="end" font-weight="normal" fill="#333" >60</text>
<text x="431.3" y="405.0" font-size="8" text-anchor="end" font-weight="normal" fill="#333" >0</text>
<text x="0" y="0" font-size="8.3" text-anchor="middle" font-weight="bold" fill="#444" textLength="23.2" lengthAdjust="spacingAndGlyphs" transform="translate(416.6,370.5) rotate(-90)">% MEP</text>
<text x="441.6" y="333.8" font-size="7.6" text-anchor="start" font-weight="normal" fill="#111" textLength="56.1" lengthAdjust="spacingAndGlyphs">ANOVA p=0.001</text>
<path d="M448.0 381.2V379.2M444.6 379.2H451.40000000000003" stroke="#222" stroke-width="1.1"/>
<rect x="444.6" y="381.2" width="6.8" height="7.2" fill="#ba0c36" stroke="#7a0822" stroke-width="1"/>
<text x="448.0" y="374.8" font-size="8" text-anchor="middle" font-weight="bold" fill="#333" >#</text>
<path d="M467.7 384.2V382.2M464.3 382.2H471.1" stroke="#222" stroke-width="1.1"/>
<rect x="464.3" y="384.2" width="6.8" height="8.2" fill="#ba0c36" stroke="#7a0822" stroke-width="1"/>
<text x="467.7" y="379.7" font-size="7" text-anchor="middle" font-weight="normal" fill="#333" >~</text>
<text x="467.7" y="373.1" font-size="7.5" text-anchor="middle" font-weight="normal" fill="#333" >¶</text>
<path d="M487.5 363.8V356.1M484.1 356.1H490.90000000000003" stroke="#222" stroke-width="1.1"/>
<rect x="484.1" y="363.8" width="6.8" height="16.3" fill="#2d5292" stroke="#1a3062" stroke-width="1"/>
<path d="M484.1 375.8H490.9" stroke="#1a3062" stroke-width="1.3"/>
<rect x="485.3" y="349.7" width="4.4" height="4.4" fill="none" stroke="#444" stroke-width=".9"/>
<rect x="503.6" y="372.4" width="6.8" height="10.8" fill="#2d5292" stroke="#1a3062" stroke-width="1"/>
<path d="M503.6 378.1H510.4" stroke="#1a3062" stroke-width="1.3"/>
<text x="436.4" y="415.4" font-size="7.9" text-anchor="end" font-weight="normal" fill="#222" >Genotype</text>
<text x="436.4" y="425.5" font-size="7.9" text-anchor="end" font-weight="normal" fill="#222" >Hypoxia</text>
<text x="448.0" y="415.4" font-size="7.9" text-anchor="middle" font-weight="normal" fill="#222" >WT</text>
<text x="448.0" y="425.7" font-size="8.2" text-anchor="middle" font-weight="normal" fill="#333" >-</text>
<text x="467.7" y="415.4" font-size="7.9" text-anchor="middle" font-weight="normal" fill="#222" >WT</text>
<text x="467.7" y="425.7" font-size="8.2" text-anchor="middle" font-weight="normal" fill="#333" >+</text>
<text x="487.5" y="415.4" font-size="7.9" text-anchor="middle" font-weight="normal" fill="#222" >KO</text>
<text x="487.5" y="425.7" font-size="8.2" text-anchor="middle" font-weight="normal" fill="#333" >-</text>
<text x="507.0" y="415.4" font-size="7.9" text-anchor="middle" font-weight="normal" fill="#222" >KO</text>
<text x="507.0" y="425.7" font-size="8.2" text-anchor="middle" font-weight="normal" fill="#333" >+</text>
<rect x="0.5" y="0.5" width="518.6" height="433.6" fill="none" stroke="#000" stroke-width="1.2"/>
</svg></body></html>
